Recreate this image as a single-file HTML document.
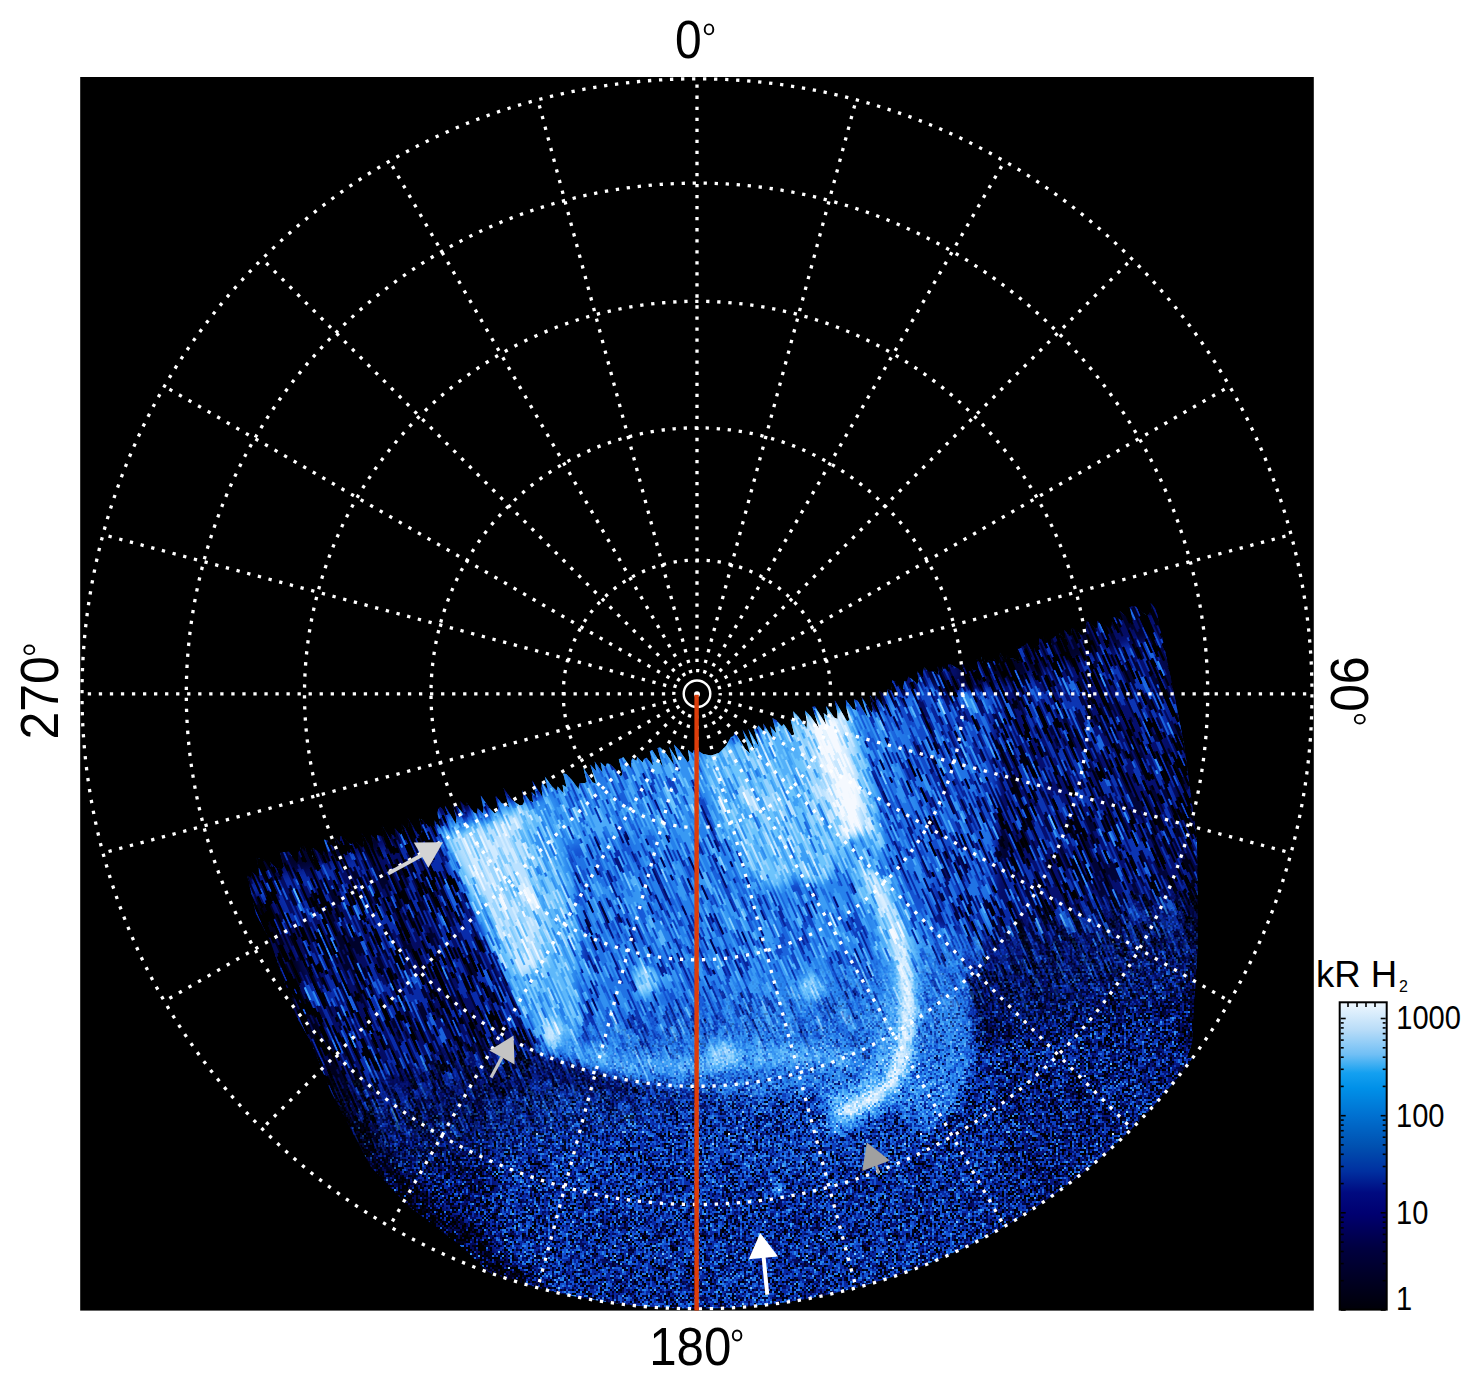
<!DOCTYPE html>
<html><head><meta charset="utf-8"><style>
html,body{margin:0;padding:0;background:#fff;width:1481px;height:1386px;overflow:hidden}
svg{position:absolute;left:0;top:0}
text{font-family:"Liberation Sans",sans-serif;fill:#000}
</style></head><body>
<svg width="1481" height="1386" viewBox="0 0 1481 1386">
<defs>
<clipPath id="sq"><rect x="80.2" y="77" width="1233.6" height="1233.6"/></clipPath>
<linearGradient id="cb" x1="0" y1="0" x2="0" y2="1">
<stop offset="0" stop-color="#f0f8ff"/>
<stop offset="0.09" stop-color="#b8dcf8"/>
<stop offset="0.17" stop-color="#70bff5"/>
<stop offset="0.23" stop-color="#14a0f0"/>
<stop offset="0.28" stop-color="#0090e8"/>
<stop offset="0.37" stop-color="#0070d0"/>
<stop offset="0.47" stop-color="#0050b0"/>
<stop offset="0.55" stop-color="#0030a0"/>
<stop offset="0.62" stop-color="#000a80"/>
<stop offset="0.69" stop-color="#000070"/>
<stop offset="0.80" stop-color="#000040"/>
<stop offset="1" stop-color="#000008"/>
</linearGradient>
</defs>
<rect x="80.2" y="77" width="1233.6" height="1233.6" fill="#000"/>
<g clip-path="url(#sq)">
<defs><clipPath id="dclip"><path d="M247.3,875.7 251.1,877.8 251,870.9 255.8,875.3 259.2,876.5 258.7,868.8 256.5,857.2 260.2,859 263.1,859.1 270.7,869.8 270.4,862.5 275.4,867.3 279,868.8 282.2,869.5 283.8,866.6 279.7,850.9 283.2,852.3 286,852.1 288.7,851.5 296.9,863.6 298.4,860.5 298.1,853.1 299.7,850.2 301.1,847 303.5,845.8 313.5,861.8 311.3,850.3 313.3,848.2 317.4,851.1 323.1,857.3 322.9,850.4 329.2,857.9 323.9,839.5 327.1,840.3 332.7,846.3 337.6,850.8 334.5,837.4 340.3,843.8 340,836.6 342.9,836.7 348.7,843.2 352.2,844.5 353.1,840 357.3,842.9 362.4,847.9 363.7,844.2 361.5,832.8 371.3,848.3 373.9,847.5 371.1,834.6 377,841.2 377.2,835.1 380.4,835.7 384.3,837.7 380.7,823.2 390.9,839.4 391.5,834.1 396,837.8 394.6,828 400.6,834.8 402.5,832.4 401.4,823.5 408,831.7 408.4,826 407.8,818 417.9,834.2 420.9,834.3 421.9,830 419.3,818 423.3,820.4 429.3,827.5 430.9,824.8 434.8,827.2 434.7,820.6 441.1,828.5 437.5,814 438.1,809.1 440.1,807.1 444.6,810.9 445,805.4 456.3,824.4 456.3,818 452.5,803 456.8,806.2 462.7,813.1 460.2,801.1 465.7,807.1 466.4,802.2 473.8,812.5 477.3,813.9 477.5,807.9 483,813.6 483.3,807.8 480.5,794.9 489,807.4 494.6,813.5 496.8,812 498.3,808.7 495.1,795.1 501.6,803.3 504.9,804.1 509.3,807.4 503.6,788.1 511.4,799.2 516,803 520,805.4 522.7,804.8 524.2,801.7 522,790.3 529.6,800.7 533.2,802.3 531.5,792.1 536.4,796.5 532,780.1 542.8,797.8 541.6,788.5 541.8,782.6 547.7,789.5 544.8,776.6 552,786.6 556.7,790.8 557.7,786.5 563.7,793.6 562.6,784.8 566.7,787.6 563.2,773.4 566.2,773.9 571.8,780.1 578.7,789.2 579.1,783.8 581.7,783.3 584.6,783.2 586.8,782 583.4,767.8 592.7,782.4 596,783.5 590.3,764.4 596.2,771.2 594.7,761.6 602.7,773.1 600.6,762.2 605.5,766.9 606.8,763.5 609.8,764 614.7,768.7 621,776.7 622.5,773.7 618.8,759.3 621.2,758.2 623.5,757.2 631.5,769 631.1,761.8 632.3,758.3 636.4,761.1 637.3,757 642.6,762.5 644.1,759.1 646.5,757.7 653.2,765.8 649.8,751.3 652.2,749.9 663.2,767.7 657.5,748.1 660.3,747.6 665.8,753 674.4,765.4 669.1,746.7 679,762.5 673.9,744.4 679.4,750.3 687.8,762.6 689.5,760 687.9,749.7 692.5,753.5 693.9,750 697,750 700,752 703,754 705.667,754.5 708.333,755 711,755.5 713.667,754.667 716.333,753.833 719,753 721.333,750.667 723.667,748.333 726,746 727.667,743 729.333,740 731,737 733.583,736.167 734.6,731.7 745.2,749 750.2,753.7 742.4,729.3 755.3,751.8 748.1,728.8 759.3,747.5 754,728.9 756.9,728.7 758.4,725.5 764.7,733 763.3,723.4 773.3,739.5 770.3,726.3 776.5,733.8 772.5,718.2 776.1,720 781.9,726.5 783.6,723.9 791.6,735.4 794.3,734.5 790.6,719.4 794.6,721.4 793,711.1 798.7,716.9 806.7,728.2 806.9,721.7 805,710.6 810.5,716.2 819.1,728.6 812.4,706.7 815.1,706.5 826.2,725 823.6,712.9 828.1,716.6 826,705.7 834.1,717.5 837.6,719 837.3,712.1 834.4,699.4 847,721.2 849.4,720.3 846.2,706.9 845.8,699.7 852.7,708.8 856.2,710.3 854,699 857.5,700.7 868.2,718.4 861.4,696.6 871.7,713.1 872.9,709.4 869.3,694.7 876.5,704.3 874.7,693.7 884.4,708.8 878.8,689.7 884.4,695.7 887.1,695.1 887.3,689.1 890.8,690.4 891.9,686.4 892.1,680.1 895.8,681.9 902.9,691.2 903.4,685.8 904.3,681.3 907.2,681.2 908.2,676.8 912.1,679.2 917.3,684.2 918.7,680.7 917.3,671.3 923.1,678 923,671.4 924.1,667.6 929,672.3 931.3,671 934.3,671.4 938.8,675.2 937.5,665.8 942.9,671.8 942.6,664.7 949.1,673 948,664.2 951.1,664.8 954.8,666.8 958.5,668.7 963.1,672.5 961.5,662.8 966.8,668.2 967.4,663.2 973.4,670.4 976.3,670.5 978.5,669.1 976.7,658.8 983.4,667.4 981.2,656.3 987.3,663.4 988.5,659.9 992.5,662.6 993.4,658.1 999.4,665.2 999.9,660.1 999,651.8 1006.5,662.3 1006,654.7 1010.6,658.7 1013.3,658.2 1017.6,661.4 1020.1,660.6 1016.6,646.1 1019.9,647 1022.5,646.6 1025,645.6 1026.5,642.6 1034.2,653.4 1034,646.3 1037,646.7 1039,644.7 1039.2,638.5 1042.8,640.3 1044,636.4 1052,648 1051,639.3 1053.4,638.1 1055.4,636.2 1058.7,637.2 1059.8,633.2 1065.8,640.1 1064.2,630.1 1070.1,636.8 1071.4,633.2 1071.9,627.9 1075.7,629.9 1080.7,634.8 1083.8,635.1 1085.6,632.8 1086.2,627.6 1086.3,621.3 1089.4,621.9 1095.1,628.3 1097.6,627.5 1097.5,620.5 1103.5,627.5 1105.2,624.7 1110.4,629.7 1111.8,626.4 1112,620.3 1113.6,617.2 1116.7,617.5 1120.8,620.3 1119.6,610.9 1124.2,614.8 1129.8,620.8 1133,621.3 1129.6,607.2 1132.1,606.1 1135.1,606.3 1139.7,610 1144.1,613.4 1148.1,615.8 1149.6,612.5 1152.5,613.1 1150.5,602.7 1156,609 1163,641 1174,693 1184,744 1197,841 1198,942 1192,1043 1187,1058 1400,1058 1400,1400 495,1400 495,1278 457,1243 407,1205 371,1167 331,1092 310,1040 296,1016 270,940 256,914 Z"/></clipPath>
<clipPath id="cclip"><circle cx="697.0" cy="693.8" r="615"/></clipPath>
<linearGradient id="wgrad" gradientUnits="userSpaceOnUse" x1="686.5" y1="986.7" x2="718.0" y2="1123.1">
 <stop offset="0" stop-color="#fff"/>
 <stop offset="1" stop-color="#000"/>
</linearGradient>
<mask id="mS" maskUnits="userSpaceOnUse" x="0" y="0" width="1481" height="1386"><rect x="0" y="0" width="1481" height="1386" fill="url(#wgrad)"/></mask>
<pattern id="pS" patternUnits="userSpaceOnUse" width="192" height="192" patternTransform="scale(1.0)">
<rect width="192" height="192" fill="rgb(128,128,128)"/>
<path fill="rgb(0,0,0)" d="M92 2h2v2h-2zM112 2h2v2h-2zM174 2h2v2h-2zM16 4h2v2h-2zM128 4h2v2h-2zM180 4h2v2h-2zM44 6h2v2h-2zM48 8h2v2h-2zM188 8h2v2h-2zM108 10h2v2h-2zM74 12h2v2h-2zM134 12h2v2h-2zM138 12h2v2h-2zM160 12h2v2h-2zM168 12h2v2h-2zM72 14h2v2h-2zM14 16h2v2h-2zM182 16h2v2h-2zM16 18h2v2h-2zM88 18h2v2h-2zM96 18h2v2h-2zM20 20h2v2h-2zM40 20h4v2h-4zM48 20h2v2h-2zM56 20h2v2h-2zM86 20h2v2h-2zM186 20h2v2h-2zM114 22h2v2h-2zM132 24h2v2h-2zM148 24h2v2h-2zM94 26h2v2h-2zM174 26h2v2h-2zM28 28h2v2h-2zM150 28h2v2h-2zM174 28h2v2h-2zM90 30h2v2h-2zM158 30h2v2h-2zM188 30h2v2h-2zM32 32h2v2h-2zM188 32h2v2h-2zM68 34h2v2h-2zM132 34h2v2h-2zM154 34h2v2h-2zM2 38h2v2h-2zM50 38h2v2h-2zM134 38h2v2h-2zM176 38h2v2h-2zM42 40h2v2h-2zM50 40h2v2h-2zM10 42h2v2h-2zM36 42h2v2h-2zM110 42h2v2h-2zM190 42h2v2h-2zM120 46h2v2h-2zM182 46h2v2h-2zM30 48h4v2h-4zM36 50h2v2h-2zM54 50h2v2h-2zM176 50h2v2h-2zM52 52h2v2h-2zM64 52h2v2h-2zM110 52h2v2h-2zM4 54h2v2h-2zM140 56h2v2h-2zM50 58h2v2h-2zM90 58h2v2h-2zM186 58h2v2h-2zM108 60h2v2h-2zM114 60h2v2h-2zM62 62h2v2h-2zM152 62h2v2h-2zM190 62h2v2h-2zM126 64h2v2h-2zM174 64h2v2h-2zM26 66h2v2h-2zM124 66h2v2h-2zM144 66h2v2h-2zM130 68h2v2h-2zM170 70h2v2h-2zM66 72h2v2h-2zM186 72h2v2h-2zM14 76h2v2h-2zM36 76h2v2h-2zM86 76h2v2h-2zM102 76h2v2h-2zM122 78h2v2h-2zM128 78h2v2h-2zM190 78h2v2h-2zM8 80h2v2h-2zM72 80h2v2h-2zM144 82h2v2h-2zM158 82h2v2h-2zM46 84h2v2h-2zM80 84h2v2h-2zM146 86h2v2h-2zM152 86h2v2h-2zM32 88h2v2h-2zM52 88h4v2h-4zM100 88h4v2h-4zM142 90h2v2h-2zM42 92h2v2h-2zM126 92h2v2h-2zM130 92h2v2h-2zM22 94h2v2h-2zM30 94h2v2h-2zM110 94h2v2h-2zM70 96h2v2h-2zM96 96h2v2h-2zM52 98h2v2h-2zM132 98h2v2h-2zM142 98h2v2h-2zM40 100h2v2h-2zM58 100h2v2h-2zM76 100h2v2h-2zM106 100h2v2h-2zM34 102h2v2h-2zM160 102h2v2h-2zM100 104h2v2h-2zM100 106h2v2h-2zM78 108h2v2h-2zM50 110h2v2h-2zM80 110h2v2h-2zM42 112h2v2h-2zM14 114h2v2h-2zM174 116h2v2h-2zM4 118h2v2h-2zM100 118h2v2h-2zM190 118h2v2h-2zM38 120h2v2h-2zM164 120h2v2h-2zM46 122h2v2h-2zM64 122h2v2h-2zM114 122h2v2h-2zM180 122h2v2h-2zM66 124h2v2h-2zM148 124h2v2h-2zM68 126h2v2h-2zM152 126h2v2h-2zM158 126h2v2h-2zM94 128h2v2h-2zM8 130h2v2h-2zM14 132h2v2h-2zM60 132h2v2h-2zM182 132h2v2h-2zM22 134h2v2h-2zM120 134h2v2h-2zM96 136h2v2h-2zM70 138h2v2h-2zM130 138h2v2h-2zM150 138h2v2h-2zM156 138h2v2h-2zM174 138h2v2h-2zM8 140h2v2h-2zM36 144h2v2h-2zM186 150h2v2h-2zM14 152h2v2h-2zM142 154h2v2h-2zM160 154h2v2h-2zM22 158h2v2h-2zM34 158h2v2h-2zM88 158h2v2h-2zM112 158h2v2h-2zM154 158h2v2h-2zM166 158h2v2h-2zM186 158h2v2h-2zM190 158h2v2h-2zM122 160h2v2h-2zM176 160h2v2h-2zM184 160h2v2h-2zM54 162h2v2h-2zM72 162h2v2h-2zM168 162h2v2h-2zM18 164h2v2h-2zM86 166h2v2h-2zM12 168h2v2h-2zM100 168h2v2h-2zM108 168h2v2h-2zM8 170h2v2h-2zM114 170h2v2h-2zM104 172h2v2h-2zM34 174h2v2h-2zM48 174h2v2h-2zM68 174h2v2h-2zM66 176h2v2h-2zM90 176h2v2h-2zM102 176h2v2h-2zM76 178h2v2h-2zM30 180h2v2h-2zM74 180h2v2h-2zM104 180h2v2h-2zM32 182h2v2h-2zM128 182h2v2h-2zM118 184h2v2h-2zM160 184h2v2h-2zM70 186h2v2h-2zM144 186h2v2h-2zM154 186h2v2h-2zM38 188h2v2h-2zM48 188h2v2h-2zM36 190h2v2h-2zM92 190h2v2h-2z"/>
<path fill="rgb(26,26,26)" d="M18 0h2v2h-2zM46 0h2v2h-2zM114 0h2v2h-2zM128 0h2v2h-2zM164 0h2v2h-2zM10 2h2v2h-2zM18 2h2v2h-2zM66 2h2v2h-2zM138 4h2v2h-2zM12 6h2v2h-2zM48 6h2v2h-2zM58 6h2v2h-2zM72 6h2v2h-2zM162 6h2v2h-2zM178 6h2v2h-2zM66 8h2v2h-2zM100 8h2v2h-2zM162 8h2v2h-2zM180 8h2v2h-2zM70 10h2v2h-2zM106 10h2v2h-2zM130 10h2v2h-2zM142 10h2v2h-2zM166 10h2v2h-2zM50 12h2v2h-2zM108 12h2v2h-2zM20 14h2v2h-2zM46 14h2v2h-2zM140 14h2v2h-2zM186 14h2v2h-2zM34 16h2v2h-2zM100 16h2v2h-2zM172 16h2v2h-2zM64 18h2v2h-2zM188 18h2v2h-2zM16 20h2v2h-2zM88 20h2v2h-2zM130 20h2v2h-2zM88 22h2v2h-2zM112 22h2v2h-2zM28 24h2v2h-2zM142 24h2v2h-2zM156 24h2v2h-2zM40 26h2v2h-2zM54 26h2v2h-2zM76 28h2v2h-2zM162 28h2v2h-2zM68 30h2v2h-2zM128 30h2v2h-2zM154 30h2v2h-2zM180 30h2v2h-2zM116 32h2v2h-2zM186 32h2v2h-2zM32 34h2v2h-2zM46 34h2v2h-2zM62 34h2v2h-2zM2 36h2v2h-2zM30 36h2v2h-2zM100 36h2v2h-2zM140 36h2v2h-2zM190 36h2v2h-2zM36 38h2v2h-2zM166 38h2v2h-2zM18 40h2v2h-2zM82 40h2v2h-2zM92 40h2v2h-2zM132 40h2v2h-2zM162 40h2v2h-2zM32 42h2v2h-2zM52 42h2v2h-2zM56 42h2v2h-2zM172 42h2v2h-2zM2 44h2v2h-2zM10 44h2v2h-2zM98 44h2v2h-2zM6 46h2v2h-2zM34 46h2v2h-2zM52 46h2v2h-2zM178 46h2v2h-2zM104 48h2v2h-2zM112 48h2v2h-2zM158 48h2v2h-2zM190 48h2v2h-2zM136 50h2v2h-2zM140 50h2v2h-2zM82 52h2v2h-2zM116 52h2v2h-2zM120 52h2v2h-2zM126 52h2v2h-2zM8 54h2v2h-2zM82 54h2v2h-2zM140 54h2v2h-2zM180 54h2v2h-2zM20 56h2v2h-2zM118 56h2v2h-2zM54 58h2v2h-2zM74 58h2v2h-2zM80 60h2v2h-2zM120 60h2v2h-2zM170 60h2v2h-2zM12 64h2v2h-2zM30 64h2v2h-2zM108 64h4v2h-4zM122 64h2v2h-2zM134 64h2v2h-2zM142 64h2v2h-2zM188 64h2v2h-2zM186 66h2v2h-2zM8 68h2v2h-2zM20 68h2v2h-2zM102 68h2v2h-2zM182 68h2v2h-2zM76 70h2v2h-2zM118 70h2v2h-2zM10 72h2v2h-2zM64 72h2v2h-2zM16 74h2v2h-2zM20 74h2v2h-2zM48 74h2v2h-2zM20 76h2v2h-2zM104 76h2v2h-2zM20 78h2v2h-2zM134 78h2v2h-2zM166 78h2v2h-2zM186 78h2v2h-2zM20 80h2v2h-2zM58 80h2v2h-2zM80 80h2v2h-2zM160 80h2v2h-2zM168 80h2v2h-2zM14 82h2v2h-2zM36 82h2v2h-2zM66 82h2v2h-2zM92 82h2v2h-2zM104 82h2v2h-2zM114 82h2v2h-2zM140 82h2v2h-2zM54 84h2v2h-2zM96 84h2v2h-2zM138 84h2v2h-2zM168 84h2v2h-2zM20 86h2v2h-2zM36 86h2v2h-2zM48 86h2v2h-2zM94 86h2v2h-2zM180 86h2v2h-2zM150 88h2v2h-2zM96 90h2v2h-2zM100 90h2v2h-2zM184 90h2v2h-2zM6 92h2v2h-2zM48 92h2v2h-2zM56 92h2v2h-2zM62 92h2v2h-2zM88 92h2v2h-2zM36 94h2v2h-2zM68 94h2v2h-2zM88 94h2v2h-2zM126 94h2v2h-2zM8 96h2v2h-2zM12 96h2v2h-2zM68 96h2v2h-2zM78 96h2v2h-2zM42 98h2v2h-2zM60 98h2v2h-2zM70 98h2v2h-2zM80 98h2v2h-2zM114 98h2v2h-2zM124 98h2v2h-2zM128 98h2v2h-2zM152 98h2v2h-2zM14 100h2v2h-2zM94 100h2v2h-2zM118 100h2v2h-2zM174 100h2v2h-2zM22 102h2v2h-2zM66 102h2v2h-2zM104 102h2v2h-2zM118 102h2v2h-2zM132 102h2v2h-2zM30 104h2v2h-2zM88 104h2v2h-2zM92 104h2v2h-2zM8 106h2v2h-2zM162 106h2v2h-2zM30 108h2v2h-2zM58 108h2v2h-2zM74 108h2v2h-2zM128 108h2v2h-2zM164 108h2v2h-2zM48 110h2v2h-2zM130 110h2v2h-2zM134 110h2v2h-2zM154 110h2v2h-2zM24 112h2v2h-2zM100 112h2v2h-2zM140 112h2v2h-2zM154 112h2v2h-2zM164 112h2v2h-2zM96 114h2v2h-2zM102 114h2v2h-2zM110 114h2v2h-2zM120 114h2v2h-2zM142 114h2v2h-2zM156 114h2v2h-2zM168 114h2v2h-2zM42 116h4v2h-4zM50 116h2v2h-2zM58 116h2v2h-2zM86 116h2v2h-2zM168 116h2v2h-2zM28 118h2v2h-2zM68 118h2v2h-2zM176 118h2v2h-2zM146 120h2v2h-2zM176 120h2v2h-2zM180 120h2v2h-2zM150 122h2v2h-2zM176 124h2v2h-2zM20 126h2v2h-2zM28 126h2v2h-2zM66 126h2v2h-2zM74 126h2v2h-2zM112 126h2v2h-2zM146 126h2v2h-2zM166 126h2v2h-2zM172 126h2v2h-2zM78 128h4v2h-4zM104 128h2v2h-2zM186 128h2v2h-2zM76 130h2v2h-2zM188 130h2v2h-2zM38 132h2v2h-2zM122 132h2v2h-2zM188 132h2v2h-2zM104 134h2v2h-2zM116 134h2v2h-2zM148 134h2v2h-2zM16 136h2v2h-2zM30 136h2v2h-2zM34 136h2v2h-2zM48 136h2v2h-2zM176 136h2v2h-2zM2 138h2v2h-2zM18 138h2v2h-2zM28 138h2v2h-2zM32 138h2v2h-2zM96 138h2v2h-2zM124 138h2v2h-2zM136 138h2v2h-2zM32 140h2v2h-2zM80 140h2v2h-2zM106 140h2v2h-2zM124 140h2v2h-2zM174 140h2v2h-2zM76 142h2v2h-2zM100 142h2v2h-2zM190 142h2v2h-2zM14 144h2v2h-2zM34 144h2v2h-2zM40 144h2v2h-2zM50 144h2v2h-2zM122 144h2v2h-2zM128 144h2v2h-2zM160 144h2v2h-2zM76 146h2v2h-2zM178 146h2v2h-2zM6 148h2v2h-2zM28 148h2v2h-2zM68 148h2v2h-2zM72 148h2v2h-2zM78 148h2v2h-2zM152 148h2v2h-2zM158 148h2v2h-2zM58 150h2v2h-2zM92 150h2v2h-2zM130 150h4v2h-4zM144 150h2v2h-2zM6 152h2v2h-2zM26 152h2v2h-2zM42 152h2v2h-2zM70 152h2v2h-2zM106 152h2v2h-2zM172 152h2v2h-2zM182 152h2v2h-2zM36 154h2v2h-2zM70 154h2v2h-2zM164 154h2v2h-2zM182 154h2v2h-2zM102 156h2v2h-2zM42 158h2v2h-2zM48 158h2v2h-2zM176 158h2v2h-2zM72 160h2v2h-2zM84 160h2v2h-2zM102 160h2v2h-2zM144 160h2v2h-2zM182 160h2v2h-2zM174 162h2v2h-2zM22 164h4v2h-4zM48 164h2v2h-2zM88 164h2v2h-2zM110 164h2v2h-2zM24 166h2v2h-2zM34 166h2v2h-2zM38 168h2v2h-2zM90 168h2v2h-2zM94 168h2v2h-2zM110 168h2v2h-2zM152 168h2v2h-2zM34 170h2v2h-2zM46 170h2v2h-2zM60 170h2v2h-2zM94 170h2v2h-2zM122 170h2v2h-2zM6 172h4v2h-4zM100 172h2v2h-2zM72 174h2v2h-2zM138 174h2v2h-2zM0 176h2v2h-2zM68 176h2v2h-2zM52 178h2v2h-2zM132 178h2v2h-2zM112 180h2v2h-2zM14 182h2v2h-2zM88 182h2v2h-2zM116 182h2v2h-2zM162 182h2v2h-2zM166 182h4v2h-4zM40 184h2v2h-2zM94 184h2v2h-2zM148 184h2v2h-2zM52 186h2v2h-2zM82 186h2v2h-2zM90 186h2v2h-2zM126 186h2v2h-2zM150 186h2v2h-2zM170 186h2v2h-2zM60 188h2v2h-2zM68 188h4v2h-4zM40 190h2v2h-2zM52 190h2v2h-2zM76 190h2v2h-2zM106 190h2v2h-2z"/>
<path fill="rgb(51,51,51)" d="M0 0h2v2h-2zM12 0h2v2h-2zM34 0h2v2h-2zM52 0h2v2h-2zM66 0h4v2h-4zM76 0h2v2h-2zM118 0h2v2h-2zM134 0h2v2h-2zM138 0h2v2h-2zM70 2h2v2h-2zM78 2h2v2h-2zM104 2h4v2h-4zM128 2h2v2h-2zM180 2h2v2h-2zM40 4h4v2h-4zM58 4h2v2h-2zM64 4h2v2h-2zM88 4h2v2h-2zM166 4h2v2h-2zM176 4h2v2h-2zM14 6h2v2h-2zM22 6h2v2h-2zM46 6h2v2h-2zM64 6h2v2h-2zM120 6h2v2h-2zM158 6h2v2h-2zM190 6h2v2h-2zM2 8h6v2h-6zM78 8h2v2h-2zM122 8h2v2h-2zM136 8h2v2h-2zM154 8h2v2h-2zM178 8h2v2h-2zM182 8h2v2h-2zM10 10h2v2h-2zM122 10h2v2h-2zM132 10h4v2h-4zM158 10h2v2h-2zM180 10h2v2h-2zM18 12h4v2h-4zM88 12h4v2h-4zM94 12h2v2h-2zM140 12h2v2h-2zM40 14h2v2h-2zM90 14h2v2h-2zM132 14h2v2h-2zM166 14h2v2h-2zM170 14h2v2h-2zM44 16h2v2h-2zM110 16h2v2h-2zM128 16h2v2h-2zM158 16h2v2h-2zM184 16h2v2h-2zM2 18h2v2h-2zM20 18h2v2h-2zM26 18h2v2h-2zM148 18h4v2h-4zM170 18h2v2h-2zM178 18h2v2h-2zM0 20h2v2h-2zM18 20h2v2h-2zM80 20h2v2h-2zM92 20h2v2h-2zM164 20h2v2h-2zM90 22h2v2h-2zM96 22h2v2h-2zM38 24h2v2h-2zM68 24h2v2h-2zM128 24h2v2h-2zM178 24h2v2h-2zM44 26h2v2h-2zM48 26h2v2h-2zM64 26h2v2h-2zM74 26h2v2h-2zM158 26h2v2h-2zM164 26h2v2h-2zM178 26h2v2h-2zM38 28h2v2h-2zM48 28h2v2h-2zM124 28h2v2h-2zM146 28h2v2h-2zM158 28h2v2h-2zM26 30h2v2h-2zM44 30h2v2h-2zM82 30h2v2h-2zM120 30h2v2h-2zM156 30h2v2h-2zM8 32h2v2h-2zM74 32h2v2h-2zM88 32h2v2h-2zM96 32h2v2h-2zM122 32h2v2h-2zM128 32h2v2h-2zM170 32h2v2h-2zM20 34h2v2h-2zM100 34h2v2h-2zM178 34h2v2h-2zM186 34h2v2h-2zM20 36h2v2h-2zM32 36h2v2h-2zM66 36h2v2h-2zM116 36h2v2h-2zM132 36h2v2h-2zM168 36h2v2h-2zM0 38h2v2h-2zM6 38h2v2h-2zM46 38h2v2h-2zM64 38h2v2h-2zM98 38h2v2h-2zM130 38h2v2h-2zM136 38h2v2h-2zM158 38h2v2h-2zM6 40h2v2h-2zM14 40h2v2h-2zM30 40h4v2h-4zM52 40h2v2h-2zM120 40h2v2h-2zM144 40h2v2h-2zM166 40h2v2h-2zM6 42h2v2h-2zM40 42h2v2h-2zM118 42h2v2h-2zM124 42h2v2h-2zM150 42h2v2h-2zM166 42h2v2h-2zM8 44h2v2h-2zM36 44h2v2h-2zM78 44h2v2h-2zM108 44h2v2h-2zM124 44h2v2h-2zM138 44h2v2h-2zM170 44h2v2h-2zM176 44h2v2h-2zM182 44h2v2h-2zM190 44h2v2h-2zM40 46h2v2h-2zM64 46h2v2h-2zM104 46h2v2h-2zM180 46h2v2h-2zM8 48h2v2h-2zM88 48h2v2h-2zM114 48h2v2h-2zM124 48h2v2h-2zM132 48h2v2h-2zM16 50h2v2h-2zM24 50h2v2h-2zM42 50h2v2h-2zM48 50h4v2h-4zM134 50h2v2h-2zM182 50h4v2h-4zM190 50h2v2h-2zM0 52h2v2h-2zM86 52h2v2h-2zM112 52h2v2h-2zM130 52h2v2h-2zM154 52h2v2h-2zM170 52h2v2h-2zM0 54h2v2h-2zM36 54h6v2h-6zM54 54h4v2h-4zM152 54h2v2h-2zM10 56h2v2h-2zM60 56h2v2h-2zM122 56h4v2h-4zM156 56h2v2h-2zM160 56h2v2h-2zM174 56h2v2h-2zM180 56h2v2h-2zM2 58h2v2h-2zM10 58h2v2h-2zM16 58h4v2h-4zM24 58h2v2h-2zM38 58h2v2h-2zM44 58h2v2h-2zM72 58h2v2h-2zM80 58h2v2h-2zM84 58h2v2h-2zM136 58h2v2h-2zM144 58h2v2h-2zM158 58h2v2h-2zM178 58h2v2h-2zM36 60h6v2h-6zM136 60h2v2h-2zM146 60h2v2h-2zM154 60h4v2h-4zM172 60h2v2h-2zM82 62h2v2h-2zM112 62h2v2h-2zM118 62h2v2h-2zM168 62h2v2h-2zM48 64h2v2h-2zM52 64h2v2h-2zM64 64h2v2h-2zM136 64h2v2h-2zM162 64h2v2h-2zM8 66h2v2h-2zM34 66h2v2h-2zM56 66h4v2h-4zM72 66h2v2h-2zM76 66h2v2h-2zM148 66h2v2h-2zM160 66h2v2h-2zM170 66h2v2h-2zM32 68h2v2h-2zM66 68h2v2h-2zM76 68h2v2h-2zM90 68h2v2h-2zM94 68h2v2h-2zM126 68h2v2h-2zM176 68h2v2h-2zM2 70h2v2h-2zM14 70h4v2h-4zM30 70h2v2h-2zM40 70h2v2h-2zM62 70h2v2h-2zM80 70h2v2h-2zM84 70h2v2h-2zM100 70h2v2h-2zM116 70h2v2h-2zM126 70h2v2h-2zM18 72h2v2h-2zM32 72h2v2h-2zM82 72h2v2h-2zM122 72h2v2h-2zM136 72h2v2h-2zM146 72h2v2h-2zM152 72h2v2h-2zM166 72h2v2h-2zM174 72h2v2h-2zM10 74h2v2h-2zM58 74h2v2h-2zM98 74h2v2h-2zM120 74h2v2h-2zM126 74h2v2h-2zM132 74h2v2h-2zM146 74h2v2h-2zM52 76h2v2h-2zM64 76h2v2h-2zM148 76h2v2h-2zM170 76h2v2h-2zM180 76h2v2h-2zM46 78h2v2h-2zM108 78h4v2h-4zM124 78h2v2h-2zM152 78h2v2h-2zM156 78h2v2h-2zM162 78h2v2h-2zM168 78h2v2h-2zM48 80h4v2h-4zM90 80h2v2h-2zM100 80h2v2h-2zM124 80h2v2h-2zM130 80h2v2h-2zM144 80h2v2h-2zM162 80h2v2h-2zM12 82h2v2h-2zM20 82h2v2h-2zM48 82h2v2h-2zM68 82h2v2h-2zM120 82h2v2h-2zM128 82h2v2h-2zM8 84h2v2h-2zM22 84h2v2h-2zM28 84h2v2h-2zM68 84h2v2h-2zM102 84h2v2h-2zM120 84h4v2h-4zM156 84h2v2h-2zM74 86h2v2h-2zM80 86h2v2h-2zM138 86h2v2h-2zM44 88h2v2h-2zM88 88h2v2h-2zM116 88h2v2h-2zM126 88h2v2h-2zM184 88h2v2h-2zM58 90h2v2h-2zM120 90h2v2h-2zM126 90h2v2h-2zM162 90h2v2h-2zM24 92h2v2h-2zM38 92h2v2h-2zM120 92h2v2h-2zM170 92h4v2h-4zM12 94h2v2h-2zM70 94h4v2h-4zM100 94h2v2h-2zM116 94h2v2h-2zM146 94h2v2h-2zM0 96h2v2h-2zM48 96h2v2h-2zM74 96h2v2h-2zM104 96h2v2h-2zM170 96h2v2h-2zM4 98h4v2h-4zM12 98h2v2h-2zM22 98h2v2h-2zM36 98h2v2h-2zM40 98h2v2h-2zM86 98h2v2h-2zM168 98h2v2h-2zM178 98h2v2h-2zM26 100h2v2h-2zM32 100h2v2h-2zM50 100h2v2h-2zM66 100h2v2h-2zM138 100h2v2h-2zM160 100h2v2h-2zM166 100h2v2h-2zM186 100h2v2h-2zM12 102h2v2h-2zM46 102h2v2h-2zM98 102h2v2h-2zM114 102h2v2h-2zM184 102h4v2h-4zM58 104h2v2h-2zM84 104h2v2h-2zM148 104h2v2h-2zM162 104h4v2h-4zM170 104h2v2h-2zM10 106h2v2h-2zM22 106h2v2h-2zM30 106h2v2h-2zM38 106h2v2h-2zM74 106h2v2h-2zM144 106h2v2h-2zM184 106h2v2h-2zM2 108h2v2h-2zM16 108h2v2h-2zM38 108h2v2h-2zM44 108h2v2h-2zM68 108h2v2h-2zM76 108h2v2h-2zM98 108h2v2h-2zM110 108h2v2h-2zM174 108h2v2h-2zM8 110h2v2h-2zM28 110h2v2h-2zM100 110h2v2h-2zM122 110h2v2h-2zM126 110h2v2h-2zM156 110h4v2h-4zM174 110h2v2h-2zM186 110h2v2h-2zM14 112h2v2h-2zM22 112h2v2h-2zM78 112h2v2h-2zM92 112h2v2h-2zM138 112h2v2h-2zM182 112h2v2h-2zM190 112h2v2h-2zM44 114h2v2h-2zM52 114h2v2h-2zM138 114h2v2h-2zM150 114h2v2h-2zM158 114h2v2h-2zM162 114h2v2h-2zM166 114h2v2h-2zM184 114h2v2h-2zM12 116h2v2h-2zM22 116h2v2h-2zM28 116h2v2h-2zM40 116h2v2h-2zM48 116h2v2h-2zM110 116h2v2h-2zM126 116h2v2h-2zM6 118h2v2h-2zM10 118h2v2h-2zM72 118h2v2h-2zM86 118h2v2h-2zM150 118h2v2h-2zM174 118h2v2h-2zM180 118h2v2h-2zM50 120h2v2h-2zM64 120h2v2h-2zM86 120h2v2h-2zM114 120h2v2h-2zM184 120h4v2h-4zM2 122h2v2h-2zM12 122h2v2h-2zM38 122h2v2h-2zM78 122h2v2h-2zM90 122h2v2h-2zM104 122h2v2h-2zM110 122h2v2h-2zM164 122h2v2h-2zM182 122h2v2h-2zM188 122h2v2h-2zM38 124h2v2h-2zM138 124h2v2h-2zM22 126h2v2h-2zM40 126h2v2h-2zM44 126h2v2h-2zM70 126h4v2h-4zM134 126h2v2h-2zM156 126h2v2h-2zM58 128h2v2h-2zM82 128h2v2h-2zM110 128h2v2h-2zM142 128h2v2h-2zM162 128h2v2h-2zM4 130h2v2h-2zM28 130h2v2h-2zM60 130h2v2h-2zM70 130h2v2h-2zM98 130h2v2h-2zM104 130h2v2h-2zM126 130h2v2h-2zM154 130h2v2h-2zM176 130h2v2h-2zM184 130h2v2h-2zM28 132h2v2h-2zM54 132h2v2h-2zM96 132h2v2h-2zM106 132h2v2h-2zM152 132h2v2h-2zM168 132h2v2h-2zM16 134h2v2h-2zM32 134h2v2h-2zM56 134h2v2h-2zM66 134h2v2h-2zM118 134h2v2h-2zM122 134h2v2h-2zM132 134h2v2h-2zM156 134h2v2h-2zM186 134h2v2h-2zM10 136h2v2h-2zM14 136h2v2h-2zM26 136h2v2h-2zM36 136h2v2h-2zM74 136h2v2h-2zM146 136h2v2h-2zM164 136h2v2h-2zM182 136h2v2h-2zM8 138h2v2h-2zM56 138h2v2h-2zM100 138h2v2h-2zM138 138h2v2h-2zM142 138h2v2h-2zM36 140h2v2h-2zM58 140h2v2h-2zM74 140h2v2h-2zM140 140h2v2h-2zM158 140h2v2h-2zM176 140h2v2h-2zM184 140h2v2h-2zM18 142h2v2h-2zM168 142h2v2h-2zM66 144h2v2h-2zM78 144h4v2h-4zM88 144h2v2h-2zM98 144h2v2h-2zM102 144h2v2h-2zM130 144h2v2h-2zM154 144h2v2h-2zM182 144h2v2h-2zM4 146h2v2h-2zM114 146h2v2h-2zM136 146h2v2h-2zM166 146h2v2h-2zM10 148h2v2h-2zM18 148h2v2h-2zM22 148h4v2h-4zM94 148h2v2h-2zM130 148h2v2h-2zM142 148h2v2h-2zM16 150h2v2h-2zM26 150h2v2h-2zM74 150h2v2h-2zM94 150h2v2h-2zM110 150h2v2h-2zM116 150h2v2h-2zM126 150h2v2h-2zM134 150h2v2h-2zM150 150h2v2h-2zM54 152h2v2h-2zM88 152h2v2h-2zM10 154h2v2h-2zM22 154h4v2h-4zM72 154h2v2h-2zM138 154h2v2h-2zM154 154h2v2h-2zM172 154h2v2h-2zM18 156h2v2h-2zM40 156h2v2h-2zM78 156h2v2h-2zM150 156h2v2h-2zM154 156h2v2h-2zM160 156h4v2h-4zM168 156h2v2h-2zM2 158h2v2h-2zM66 158h2v2h-2zM70 158h2v2h-2zM148 158h2v2h-2zM178 158h4v2h-4zM0 160h2v2h-2zM32 160h4v2h-4zM52 160h2v2h-2zM74 160h2v2h-2zM104 160h2v2h-2zM136 160h2v2h-2zM164 160h2v2h-2zM40 162h2v2h-2zM62 162h2v2h-2zM86 162h2v2h-2zM100 162h2v2h-2zM110 162h2v2h-2zM136 162h2v2h-2zM144 162h2v2h-2zM180 162h2v2h-2zM190 162h2v2h-2zM102 164h2v2h-2zM118 164h2v2h-2zM28 166h2v2h-2zM116 166h2v2h-2zM154 166h2v2h-2zM166 166h2v2h-2zM186 166h2v2h-2zM36 168h2v2h-2zM70 168h2v2h-2zM78 168h2v2h-2zM128 168h2v2h-2zM138 168h2v2h-2zM0 170h2v2h-2zM4 170h2v2h-2zM40 170h2v2h-2zM120 170h2v2h-2zM150 170h2v2h-2zM182 170h2v2h-2zM0 172h2v2h-2zM24 172h2v2h-2zM60 172h2v2h-2zM106 172h4v2h-4zM158 172h2v2h-2zM166 172h2v2h-2zM86 174h2v2h-2zM96 174h2v2h-2zM146 174h4v2h-4zM154 174h2v2h-2zM170 174h2v2h-2zM190 174h2v2h-2zM30 176h4v2h-4zM106 176h2v2h-2zM148 176h4v2h-4zM174 176h2v2h-2zM178 176h2v2h-2zM20 178h2v2h-2zM28 178h2v2h-2zM46 178h2v2h-2zM74 178h2v2h-2zM86 178h4v2h-4zM110 178h2v2h-2zM136 178h2v2h-2zM18 180h2v2h-2zM22 180h2v2h-2zM28 180h2v2h-2zM40 180h2v2h-2zM46 180h2v2h-2zM52 180h2v2h-2zM56 180h2v2h-2zM86 180h2v2h-2zM92 180h2v2h-2zM98 180h2v2h-2zM146 180h2v2h-2zM24 182h2v2h-2zM78 182h2v2h-2zM100 182h2v2h-2zM122 182h2v2h-2zM180 182h2v2h-2zM10 184h2v2h-2zM36 184h2v2h-2zM70 184h2v2h-2zM78 184h2v2h-2zM144 184h2v2h-2zM158 184h2v2h-2zM170 184h2v2h-2zM6 186h4v2h-4zM96 186h2v2h-2zM142 186h2v2h-2zM176 186h4v2h-4zM10 188h2v2h-2zM18 188h2v2h-2zM82 188h2v2h-2zM86 188h2v2h-2zM184 188h2v2h-2zM66 190h2v2h-2zM94 190h2v2h-2zM132 190h2v2h-2zM164 190h4v2h-4zM186 190h2v2h-2z"/>
<path fill="rgb(77,77,77)" d="M4 0h2v2h-2zM10 0h2v2h-2zM24 0h2v2h-2zM64 0h2v2h-2zM90 0h2v2h-2zM110 0h2v2h-2zM130 0h2v2h-2zM140 0h4v2h-4zM148 0h2v2h-2zM156 0h2v2h-2zM162 0h2v2h-2zM172 0h2v2h-2zM2 2h4v2h-4zM48 2h2v2h-2zM64 2h2v2h-2zM88 2h2v2h-2zM120 2h2v2h-2zM126 2h2v2h-2zM130 2h2v2h-2zM140 2h4v2h-4zM188 2h2v2h-2zM12 4h2v2h-2zM18 4h2v2h-2zM46 4h2v2h-2zM60 4h2v2h-2zM68 4h2v2h-2zM72 4h2v2h-2zM76 4h2v2h-2zM108 4h4v2h-4zM118 4h2v2h-2zM124 4h2v2h-2zM134 4h2v2h-2zM140 4h2v2h-2zM144 4h2v2h-2zM0 6h4v2h-4zM6 6h2v2h-2zM30 6h2v2h-2zM60 6h2v2h-2zM70 6h2v2h-2zM94 6h4v2h-4zM106 6h2v2h-2zM118 6h2v2h-2zM122 6h2v2h-2zM134 6h2v2h-2zM138 6h2v2h-2zM142 6h2v2h-2zM160 6h2v2h-2zM170 6h4v2h-4zM180 6h6v2h-6zM38 8h4v2h-4zM52 8h2v2h-2zM58 8h2v2h-2zM62 8h2v2h-2zM68 8h4v2h-4zM82 8h2v2h-2zM86 8h2v2h-2zM110 8h2v2h-2zM114 8h2v2h-2zM126 8h2v2h-2zM148 8h2v2h-2zM158 8h2v2h-2zM174 8h2v2h-2zM20 10h2v2h-2zM24 10h4v2h-4zM38 10h2v2h-2zM46 10h2v2h-2zM76 10h2v2h-2zM80 10h2v2h-2zM100 10h2v2h-2zM112 10h2v2h-2zM174 10h2v2h-2zM184 10h2v2h-2zM2 12h2v2h-2zM14 12h2v2h-2zM22 12h2v2h-2zM40 12h4v2h-4zM66 12h2v2h-2zM92 12h2v2h-2zM162 12h2v2h-2zM26 14h2v2h-2zM54 14h2v2h-2zM80 14h2v2h-2zM106 14h2v2h-2zM114 14h2v2h-2zM144 14h2v2h-2zM152 14h2v2h-2zM164 14h2v2h-2zM190 14h2v2h-2zM16 16h2v2h-2zM98 16h2v2h-2zM118 16h2v2h-2zM148 16h2v2h-2zM180 16h2v2h-2zM14 18h2v2h-2zM18 18h2v2h-2zM40 18h2v2h-2zM68 18h2v2h-2zM82 18h2v2h-2zM106 18h2v2h-2zM124 18h2v2h-2zM166 18h2v2h-2zM190 18h2v2h-2zM6 20h2v2h-2zM52 20h2v2h-2zM122 20h2v2h-2zM142 20h2v2h-2zM166 20h4v2h-4zM182 20h2v2h-2zM188 20h2v2h-2zM16 22h2v2h-2zM44 22h2v2h-2zM66 22h2v2h-2zM74 22h2v2h-2zM78 22h2v2h-2zM130 22h2v2h-2zM168 22h2v2h-2zM20 24h2v2h-2zM36 24h2v2h-2zM46 24h4v2h-4zM60 24h2v2h-2zM84 24h4v2h-4zM90 24h2v2h-2zM102 24h2v2h-2zM126 24h2v2h-2zM150 24h2v2h-2zM166 24h2v2h-2zM18 26h2v2h-2zM72 26h2v2h-2zM82 26h2v2h-2zM96 26h2v2h-2zM108 26h2v2h-2zM114 26h2v2h-2zM122 26h2v2h-2zM130 26h2v2h-2zM152 26h2v2h-2zM172 26h2v2h-2zM186 26h2v2h-2zM0 28h2v2h-2zM24 28h2v2h-2zM32 28h4v2h-4zM62 28h2v2h-2zM70 28h6v2h-6zM122 28h2v2h-2zM140 28h2v2h-2zM144 28h2v2h-2zM164 28h2v2h-2zM172 28h2v2h-2zM176 28h2v2h-2zM8 30h2v2h-2zM48 30h6v2h-6zM106 30h2v2h-2zM142 30h2v2h-2zM174 30h2v2h-2zM182 30h2v2h-2zM12 32h2v2h-2zM38 32h2v2h-2zM56 32h2v2h-2zM84 32h2v2h-2zM102 32h2v2h-2zM106 32h2v2h-2zM118 32h2v2h-2zM124 32h2v2h-2zM148 32h4v2h-4zM154 32h2v2h-2zM162 32h2v2h-2zM178 32h2v2h-2zM0 34h2v2h-2zM28 34h2v2h-2zM38 34h2v2h-2zM64 34h2v2h-2zM72 34h2v2h-2zM80 34h2v2h-2zM104 34h2v2h-2zM118 34h2v2h-2zM138 34h4v2h-4zM144 34h2v2h-2zM148 34h2v2h-2zM158 34h2v2h-2zM8 36h2v2h-2zM34 36h2v2h-2zM64 36h2v2h-2zM76 36h2v2h-2zM82 36h2v2h-2zM86 36h2v2h-2zM108 36h2v2h-2zM118 36h2v2h-2zM148 36h4v2h-4zM170 36h2v2h-2zM188 36h2v2h-2zM4 38h2v2h-2zM8 38h2v2h-2zM34 38h2v2h-2zM52 38h2v2h-2zM58 38h2v2h-2zM62 38h2v2h-2zM88 38h2v2h-2zM94 38h2v2h-2zM114 38h2v2h-2zM126 38h4v2h-4zM160 38h2v2h-2zM4 40h2v2h-2zM16 40h2v2h-2zM36 40h2v2h-2zM66 40h2v2h-2zM80 40h2v2h-2zM84 40h2v2h-2zM94 40h2v2h-2zM100 40h2v2h-2zM118 40h2v2h-2zM160 40h2v2h-2zM172 40h2v2h-2zM20 42h2v2h-2zM38 42h2v2h-2zM62 42h2v2h-2zM68 42h2v2h-2zM78 42h2v2h-2zM88 42h2v2h-2zM100 42h2v2h-2zM168 42h2v2h-2zM176 42h2v2h-2zM4 44h2v2h-2zM28 44h6v2h-6zM38 44h2v2h-2zM50 44h2v2h-2zM148 44h2v2h-2zM154 44h2v2h-2zM186 44h2v2h-2zM8 46h2v2h-2zM20 46h2v2h-2zM28 46h2v2h-2zM56 46h2v2h-2zM62 46h2v2h-2zM70 46h2v2h-2zM92 46h2v2h-2zM116 46h4v2h-4zM126 46h2v2h-2zM162 46h2v2h-2zM166 46h2v2h-2zM54 48h2v2h-2zM74 48h2v2h-2zM90 48h2v2h-2zM138 48h2v2h-2zM146 48h4v2h-4zM166 48h2v2h-2zM174 48h2v2h-2zM188 48h2v2h-2zM58 50h2v2h-2zM86 50h2v2h-2zM100 50h2v2h-2zM112 50h2v2h-2zM116 50h2v2h-2zM150 50h2v2h-2zM156 50h2v2h-2zM160 50h2v2h-2zM170 50h2v2h-2zM188 50h2v2h-2zM6 52h2v2h-2zM18 52h4v2h-4zM24 52h2v2h-2zM30 52h2v2h-2zM34 52h2v2h-2zM38 52h4v2h-4zM54 52h2v2h-2zM84 52h2v2h-2zM88 52h2v2h-2zM94 52h2v2h-2zM132 52h2v2h-2zM152 52h2v2h-2zM156 52h2v2h-2zM162 52h2v2h-2zM166 52h2v2h-2zM172 52h2v2h-2zM178 52h2v2h-2zM6 54h2v2h-2zM10 54h2v2h-2zM26 54h2v2h-2zM44 54h2v2h-2zM94 54h2v2h-2zM118 54h2v2h-2zM130 54h2v2h-2zM134 54h2v2h-2zM148 54h2v2h-2zM168 54h6v2h-6zM178 54h2v2h-2zM32 56h2v2h-2zM38 56h2v2h-2zM42 56h2v2h-2zM76 56h2v2h-2zM110 56h2v2h-2zM116 56h2v2h-2zM138 56h2v2h-2zM150 56h2v2h-2zM166 56h2v2h-2zM40 58h2v2h-2zM46 58h2v2h-2zM60 58h2v2h-2zM66 58h2v2h-2zM86 58h4v2h-4zM152 58h2v2h-2zM156 58h2v2h-2zM22 60h2v2h-2zM66 60h2v2h-2zM74 60h2v2h-2zM92 60h2v2h-2zM96 60h2v2h-2zM100 60h2v2h-2zM138 60h2v2h-2zM150 60h2v2h-2zM12 62h4v2h-4zM42 62h4v2h-4zM74 62h2v2h-2zM78 62h2v2h-2zM88 62h2v2h-2zM94 62h2v2h-2zM120 62h2v2h-2zM124 62h2v2h-2zM140 62h2v2h-2zM148 62h2v2h-2zM156 62h2v2h-2zM164 62h2v2h-2zM174 62h2v2h-2zM186 62h2v2h-2zM2 64h2v2h-2zM22 64h2v2h-2zM34 64h2v2h-2zM38 64h2v2h-2zM76 64h2v2h-2zM124 64h2v2h-2zM144 64h2v2h-2zM166 64h2v2h-2zM190 64h2v2h-2zM10 66h4v2h-4zM18 66h2v2h-2zM36 66h2v2h-2zM54 66h2v2h-2zM78 66h2v2h-2zM94 66h2v2h-2zM104 66h2v2h-2zM130 66h4v2h-4zM178 66h2v2h-2zM182 66h2v2h-2zM4 68h2v2h-2zM14 68h2v2h-2zM24 68h2v2h-2zM38 68h2v2h-2zM44 68h2v2h-2zM48 68h2v2h-2zM58 68h2v2h-2zM64 68h2v2h-2zM74 68h2v2h-2zM86 68h2v2h-2zM106 68h6v2h-6zM120 68h2v2h-2zM128 68h2v2h-2zM140 68h2v2h-2zM148 68h2v2h-2zM172 68h2v2h-2zM186 68h2v2h-2zM0 70h2v2h-2zM10 70h2v2h-2zM26 70h2v2h-2zM34 70h4v2h-4zM46 70h2v2h-2zM78 70h2v2h-2zM142 70h2v2h-2zM160 70h2v2h-2zM172 70h2v2h-2zM184 70h2v2h-2zM40 72h2v2h-2zM72 72h2v2h-2zM92 72h2v2h-2zM132 72h2v2h-2zM142 72h2v2h-2zM148 72h2v2h-2zM170 72h2v2h-2zM178 72h2v2h-2zM40 74h2v2h-2zM60 74h2v2h-2zM64 74h2v2h-2zM68 74h2v2h-2zM116 74h2v2h-2zM138 74h2v2h-2zM156 74h2v2h-2zM184 74h2v2h-2zM6 76h2v2h-2zM16 76h4v2h-4zM40 76h2v2h-2zM50 76h2v2h-2zM66 76h4v2h-4zM78 76h2v2h-2zM92 76h2v2h-2zM106 76h2v2h-2zM124 76h2v2h-2zM130 76h2v2h-2zM144 76h2v2h-2zM0 78h2v2h-2zM6 78h2v2h-2zM32 78h2v2h-2zM48 78h2v2h-2zM86 78h4v2h-4zM100 78h2v2h-2zM106 78h2v2h-2zM116 78h2v2h-2zM144 78h2v2h-2zM158 78h2v2h-2zM176 78h2v2h-2zM184 78h2v2h-2zM0 80h2v2h-2zM36 80h2v2h-2zM62 80h2v2h-2zM74 80h2v2h-2zM82 80h4v2h-4zM102 80h4v2h-4zM108 80h2v2h-2zM112 80h4v2h-4zM118 80h2v2h-2zM136 80h2v2h-2zM164 80h4v2h-4zM26 82h2v2h-2zM46 82h2v2h-2zM74 82h2v2h-2zM80 82h2v2h-2zM100 82h2v2h-2zM110 82h2v2h-2zM156 82h2v2h-2zM172 82h2v2h-2zM0 84h4v2h-4zM40 84h2v2h-2zM48 84h2v2h-2zM76 84h2v2h-2zM90 84h2v2h-2zM110 84h2v2h-2zM124 84h2v2h-2zM146 84h2v2h-2zM154 84h2v2h-2zM162 84h2v2h-2zM166 84h2v2h-2zM16 86h2v2h-2zM46 86h2v2h-2zM66 86h2v2h-2zM100 86h2v2h-2zM118 86h4v2h-4zM124 86h2v2h-2zM130 86h2v2h-2zM134 86h2v2h-2zM168 86h2v2h-2zM172 86h2v2h-2zM184 86h2v2h-2zM40 88h2v2h-2zM70 88h4v2h-4zM90 88h2v2h-2zM98 88h2v2h-2zM148 88h2v2h-2zM44 90h2v2h-2zM74 90h2v2h-2zM112 90h2v2h-2zM122 90h2v2h-2zM134 90h4v2h-4zM150 90h2v2h-2zM164 90h2v2h-2zM174 90h2v2h-2zM20 92h2v2h-2zM34 92h2v2h-2zM40 92h2v2h-2zM54 92h2v2h-2zM70 92h2v2h-2zM86 92h2v2h-2zM108 92h2v2h-2zM114 92h2v2h-2zM118 92h2v2h-2zM122 92h2v2h-2zM148 92h2v2h-2zM168 92h2v2h-2zM186 92h2v2h-2zM24 94h2v2h-2zM46 94h2v2h-2zM82 94h2v2h-2zM90 94h2v2h-2zM120 94h2v2h-2zM124 94h2v2h-2zM132 94h2v2h-2zM142 94h2v2h-2zM148 94h2v2h-2zM188 94h4v2h-4zM2 96h4v2h-4zM54 96h2v2h-2zM58 96h2v2h-2zM76 96h2v2h-2zM86 96h2v2h-2zM90 96h2v2h-2zM100 96h2v2h-2zM110 96h4v2h-4zM124 96h2v2h-2zM138 96h2v2h-2zM160 96h2v2h-2zM164 96h2v2h-2zM180 96h2v2h-2zM2 98h2v2h-2zM28 98h2v2h-2zM44 98h2v2h-2zM92 98h2v2h-2zM130 98h2v2h-2zM144 98h2v2h-2zM148 98h2v2h-2zM164 98h2v2h-2zM4 100h4v2h-4zM20 100h2v2h-2zM24 100h2v2h-2zM74 100h2v2h-2zM80 100h2v2h-2zM132 100h2v2h-2zM156 100h2v2h-2zM184 100h2v2h-2zM6 102h2v2h-2zM54 102h2v2h-2zM58 102h2v2h-2zM62 102h2v2h-2zM84 102h4v2h-4zM100 102h2v2h-2zM142 102h2v2h-2zM166 102h2v2h-2zM174 102h2v2h-2zM180 102h2v2h-2zM188 102h2v2h-2zM40 104h2v2h-2zM64 104h2v2h-2zM68 104h2v2h-2zM86 104h2v2h-2zM98 104h2v2h-2zM104 104h2v2h-2zM120 104h2v2h-2zM124 104h2v2h-2zM156 104h2v2h-2zM12 106h2v2h-2zM18 106h2v2h-2zM40 106h2v2h-2zM48 106h2v2h-2zM52 106h2v2h-2zM62 106h2v2h-2zM108 106h2v2h-2zM114 106h4v2h-4zM128 106h2v2h-2zM8 108h2v2h-2zM14 108h2v2h-2zM40 108h2v2h-2zM80 108h2v2h-2zM84 108h2v2h-2zM96 108h2v2h-2zM100 108h2v2h-2zM120 108h2v2h-2zM132 108h2v2h-2zM136 108h2v2h-2zM152 108h2v2h-2zM12 110h4v2h-4zM52 110h2v2h-2zM64 110h2v2h-2zM72 110h2v2h-2zM82 110h2v2h-2zM98 110h2v2h-2zM104 110h2v2h-2zM114 110h2v2h-2zM142 110h2v2h-2zM162 110h6v2h-6zM20 112h2v2h-2zM40 112h2v2h-2zM44 112h2v2h-2zM98 112h2v2h-2zM102 112h4v2h-4zM112 112h2v2h-2zM128 112h2v2h-2zM142 112h2v2h-2zM180 112h2v2h-2zM186 112h2v2h-2zM6 114h2v2h-2zM22 114h2v2h-2zM56 114h2v2h-2zM74 114h4v2h-4zM106 114h2v2h-2zM152 114h2v2h-2zM174 114h2v2h-2zM18 116h2v2h-2zM30 116h2v2h-2zM52 116h2v2h-2zM62 116h2v2h-2zM68 116h2v2h-2zM90 116h2v2h-2zM132 116h2v2h-2zM140 116h2v2h-2zM180 116h2v2h-2zM50 118h2v2h-2zM116 118h2v2h-2zM66 120h2v2h-2zM72 120h2v2h-2zM122 120h2v2h-2zM136 120h2v2h-2zM152 120h4v2h-4zM162 120h2v2h-2zM170 120h2v2h-2zM18 122h2v2h-2zM36 122h2v2h-2zM54 122h2v2h-2zM80 122h2v2h-2zM86 122h2v2h-2zM100 122h2v2h-2zM120 122h2v2h-2zM126 122h2v2h-2zM130 122h2v2h-2zM154 122h2v2h-2zM162 122h2v2h-2zM166 122h2v2h-2zM6 124h2v2h-2zM12 124h2v2h-2zM64 124h2v2h-2zM70 124h2v2h-2zM74 124h4v2h-4zM80 124h2v2h-2zM92 124h2v2h-2zM96 124h2v2h-2zM102 124h2v2h-2zM130 124h2v2h-2zM136 124h2v2h-2zM156 124h2v2h-2zM164 124h2v2h-2zM168 124h4v2h-4zM0 126h2v2h-2zM6 126h2v2h-2zM10 126h2v2h-2zM24 126h2v2h-2zM60 126h2v2h-2zM76 126h2v2h-2zM96 126h2v2h-2zM116 126h2v2h-2zM184 126h4v2h-4zM16 128h2v2h-2zM74 128h2v2h-2zM132 128h2v2h-2zM136 128h2v2h-2zM148 128h2v2h-2zM158 128h2v2h-2zM166 128h2v2h-2zM176 128h2v2h-2zM180 128h2v2h-2zM188 128h2v2h-2zM0 130h4v2h-4zM16 130h2v2h-2zM22 130h2v2h-2zM30 130h2v2h-2zM46 130h2v2h-2zM94 130h2v2h-2zM102 130h2v2h-2zM124 130h2v2h-2zM128 130h2v2h-2zM148 130h2v2h-2zM160 130h2v2h-2zM182 130h2v2h-2zM2 132h2v2h-2zM6 132h4v2h-4zM12 132h2v2h-2zM18 132h4v2h-4zM30 132h4v2h-4zM36 132h2v2h-2zM62 132h4v2h-4zM72 132h2v2h-2zM84 132h2v2h-2zM118 132h2v2h-2zM128 132h2v2h-2zM140 132h2v2h-2zM144 132h2v2h-2zM148 132h2v2h-2zM166 132h2v2h-2zM172 132h2v2h-2zM190 132h2v2h-2zM10 134h2v2h-2zM48 134h4v2h-4zM68 134h2v2h-2zM72 134h2v2h-2zM82 134h4v2h-4zM98 134h2v2h-2zM146 134h2v2h-2zM158 134h2v2h-2zM166 134h2v2h-2zM190 134h2v2h-2zM44 136h2v2h-2zM54 136h2v2h-2zM62 136h2v2h-2zM78 136h2v2h-2zM90 136h2v2h-2zM94 136h2v2h-2zM98 136h2v2h-2zM110 136h2v2h-2zM126 136h2v2h-2zM174 136h2v2h-2zM186 136h4v2h-4zM16 138h2v2h-2zM44 138h4v2h-4zM76 138h2v2h-2zM102 138h2v2h-2zM122 138h2v2h-2zM144 138h2v2h-2zM162 138h2v2h-2zM172 138h2v2h-2zM184 138h2v2h-2zM10 140h2v2h-2zM30 140h2v2h-2zM42 140h2v2h-2zM48 140h2v2h-2zM64 140h2v2h-2zM72 140h2v2h-2zM76 140h4v2h-4zM86 140h2v2h-2zM110 140h2v2h-2zM152 140h2v2h-2zM160 140h2v2h-2zM172 140h2v2h-2zM186 140h2v2h-2zM2 142h4v2h-4zM20 142h2v2h-2zM30 142h2v2h-2zM48 142h2v2h-2zM70 142h2v2h-2zM108 142h2v2h-2zM130 142h4v2h-4zM60 144h2v2h-2zM74 144h2v2h-2zM90 144h2v2h-2zM108 144h2v2h-2zM112 144h2v2h-2zM136 144h2v2h-2zM152 144h2v2h-2zM170 144h2v2h-2zM8 146h2v2h-2zM20 146h2v2h-2zM48 146h2v2h-2zM56 146h2v2h-2zM106 146h2v2h-2zM146 146h2v2h-2zM162 146h2v2h-2zM174 146h2v2h-2zM30 148h2v2h-2zM38 148h2v2h-2zM46 148h2v2h-2zM80 148h2v2h-2zM102 148h2v2h-2zM114 148h2v2h-2zM120 148h2v2h-2zM184 148h2v2h-2zM188 148h4v2h-4zM4 150h4v2h-4zM10 150h2v2h-2zM18 150h2v2h-2zM28 150h2v2h-2zM38 150h4v2h-4zM60 150h2v2h-2zM68 150h4v2h-4zM98 150h2v2h-2zM142 150h2v2h-2zM148 150h2v2h-2zM156 150h2v2h-2zM162 150h4v2h-4zM170 150h2v2h-2zM180 150h2v2h-2zM190 150h2v2h-2zM10 152h2v2h-2zM68 152h2v2h-2zM84 152h2v2h-2zM98 152h2v2h-2zM112 152h2v2h-2zM128 152h2v2h-2zM162 152h2v2h-2zM168 152h2v2h-2zM186 152h2v2h-2zM12 154h2v2h-2zM18 154h4v2h-4zM58 154h2v2h-2zM76 154h6v2h-6zM86 154h2v2h-2zM104 154h2v2h-2zM126 154h2v2h-2zM144 154h4v2h-4zM188 154h2v2h-2zM26 156h2v2h-2zM52 156h2v2h-2zM58 156h2v2h-2zM66 156h2v2h-2zM88 156h2v2h-2zM104 156h2v2h-2zM124 156h2v2h-2zM128 156h4v2h-4zM164 156h2v2h-2zM180 156h2v2h-2zM46 158h2v2h-2zM56 158h2v2h-2zM104 158h2v2h-2zM116 158h2v2h-2zM120 158h2v2h-2zM138 158h2v2h-2zM4 160h2v2h-2zM16 160h2v2h-2zM38 160h2v2h-2zM46 160h2v2h-2zM82 160h2v2h-2zM94 160h4v2h-4zM120 160h2v2h-2zM126 160h2v2h-2zM130 160h2v2h-2zM138 160h2v2h-2zM172 160h2v2h-2zM190 160h2v2h-2zM10 162h2v2h-2zM16 162h2v2h-2zM22 162h2v2h-2zM30 162h2v2h-2zM74 162h2v2h-2zM78 162h2v2h-2zM116 162h4v2h-4zM124 162h2v2h-2zM130 162h2v2h-2zM134 162h2v2h-2zM154 162h2v2h-2zM160 162h2v2h-2zM184 162h2v2h-2zM188 162h2v2h-2zM16 164h2v2h-2zM54 164h4v2h-4zM74 164h2v2h-2zM78 164h2v2h-2zM86 164h2v2h-2zM104 164h2v2h-2zM122 164h2v2h-2zM136 164h4v2h-4zM144 164h2v2h-2zM148 164h2v2h-2zM162 164h2v2h-2zM12 166h4v2h-4zM22 166h2v2h-2zM36 166h2v2h-2zM66 166h2v2h-2zM120 166h2v2h-2zM132 166h2v2h-2zM178 166h4v2h-4zM4 168h2v2h-2zM22 168h2v2h-2zM26 168h2v2h-2zM106 168h2v2h-2zM120 168h2v2h-2zM142 168h4v2h-4zM58 170h2v2h-2zM64 170h2v2h-2zM72 170h2v2h-2zM84 170h2v2h-2zM108 170h2v2h-2zM126 170h2v2h-2zM130 170h2v2h-2zM168 170h2v2h-2zM180 170h2v2h-2zM186 170h2v2h-2zM32 172h2v2h-2zM48 172h2v2h-2zM62 172h2v2h-2zM68 172h2v2h-2zM88 172h2v2h-2zM94 172h2v2h-2zM98 172h2v2h-2zM120 172h2v2h-2zM124 172h2v2h-2zM142 172h2v2h-2zM154 172h2v2h-2zM168 172h2v2h-2zM184 172h2v2h-2zM190 172h2v2h-2zM4 174h2v2h-2zM16 174h4v2h-4zM24 174h2v2h-2zM52 174h2v2h-2zM64 174h2v2h-2zM90 174h2v2h-2zM94 174h2v2h-2zM136 174h2v2h-2zM166 174h2v2h-2zM182 174h2v2h-2zM16 176h2v2h-2zM58 176h4v2h-4zM88 176h2v2h-2zM124 176h2v2h-2zM138 176h2v2h-2zM142 176h2v2h-2zM152 176h2v2h-2zM166 176h2v2h-2zM2 178h2v2h-2zM24 178h2v2h-2zM38 178h2v2h-2zM44 178h2v2h-2zM54 178h2v2h-2zM58 178h4v2h-4zM80 178h2v2h-2zM102 178h4v2h-4zM152 178h2v2h-2zM186 178h2v2h-2zM26 180h2v2h-2zM72 180h2v2h-2zM114 180h2v2h-2zM124 180h2v2h-2zM128 180h2v2h-2zM132 180h2v2h-2zM156 180h2v2h-2zM160 180h4v2h-4zM174 180h2v2h-2zM180 180h2v2h-2zM190 180h2v2h-2zM20 182h2v2h-2zM42 182h2v2h-2zM48 182h2v2h-2zM58 182h4v2h-4zM64 182h2v2h-2zM70 182h2v2h-2zM80 182h2v2h-2zM86 182h2v2h-2zM90 182h2v2h-2zM118 182h2v2h-2zM124 182h2v2h-2zM130 182h2v2h-2zM136 182h4v2h-4zM142 182h2v2h-2zM154 182h2v2h-2zM176 182h2v2h-2zM190 182h2v2h-2zM54 184h8v2h-8zM68 184h2v2h-2zM74 184h2v2h-2zM136 184h4v2h-4zM152 184h4v2h-4zM180 184h2v2h-2zM0 186h2v2h-2zM20 186h2v2h-2zM38 186h2v2h-2zM76 186h4v2h-4zM86 186h2v2h-2zM102 186h2v2h-2zM112 186h4v2h-4zM122 186h4v2h-4zM160 186h2v2h-2zM166 186h2v2h-2zM6 188h2v2h-2zM16 188h2v2h-2zM20 188h2v2h-2zM24 188h2v2h-2zM28 188h4v2h-4zM34 188h2v2h-2zM80 188h2v2h-2zM110 188h2v2h-2zM118 188h2v2h-2zM124 188h4v2h-4zM144 188h2v2h-2zM150 188h2v2h-2zM160 188h2v2h-2zM172 188h2v2h-2zM4 190h2v2h-2zM14 190h4v2h-4zM34 190h2v2h-2zM70 190h2v2h-2zM98 190h2v2h-2zM144 190h2v2h-2zM150 190h2v2h-2zM158 190h4v2h-4z"/>
<path fill="rgb(102,102,102)" d="M6 0h2v2h-2zM28 0h2v2h-2zM42 0h2v2h-2zM74 0h2v2h-2zM124 0h2v2h-2zM154 0h2v2h-2zM168 0h2v2h-2zM0 2h2v2h-2zM8 2h2v2h-2zM16 2h2v2h-2zM26 2h2v2h-2zM46 2h2v2h-2zM68 2h2v2h-2zM76 2h2v2h-2zM82 2h2v2h-2zM94 2h2v2h-2zM122 2h2v2h-2zM2 4h2v2h-2zM14 4h2v2h-2zM26 4h2v2h-2zM36 4h2v2h-2zM44 4h2v2h-2zM48 4h4v2h-4zM78 4h2v2h-2zM82 4h2v2h-2zM86 4h2v2h-2zM92 4h2v2h-2zM148 4h4v2h-4zM160 4h2v2h-2zM178 4h2v2h-2zM190 4h2v2h-2zM8 6h2v2h-2zM16 6h2v2h-2zM36 6h2v2h-2zM40 6h2v2h-2zM50 6h6v2h-6zM88 6h2v2h-2zM104 6h2v2h-2zM124 6h2v2h-2zM176 6h2v2h-2zM0 8h2v2h-2zM10 8h2v2h-2zM16 8h2v2h-2zM28 8h2v2h-2zM36 8h2v2h-2zM42 8h2v2h-2zM60 8h2v2h-2zM88 8h2v2h-2zM104 8h4v2h-4zM118 8h2v2h-2zM164 8h2v2h-2zM0 10h2v2h-2zM4 10h2v2h-2zM48 10h2v2h-2zM58 10h2v2h-2zM62 10h2v2h-2zM72 10h4v2h-4zM82 10h8v2h-8zM98 10h2v2h-2zM104 10h2v2h-2zM116 10h4v2h-4zM136 10h2v2h-2zM148 10h2v2h-2zM152 10h2v2h-2zM160 10h2v2h-2zM172 10h2v2h-2zM176 10h4v2h-4zM186 10h6v2h-6zM4 12h2v2h-2zM10 12h2v2h-2zM60 12h2v2h-2zM80 12h2v2h-2zM98 12h2v2h-2zM116 12h2v2h-2zM126 12h2v2h-2zM132 12h2v2h-2zM142 12h2v2h-2zM152 12h2v2h-2zM156 12h2v2h-2zM164 12h2v2h-2zM176 12h2v2h-2zM180 12h2v2h-2zM14 14h4v2h-4zM22 14h2v2h-2zM28 14h2v2h-2zM32 14h2v2h-2zM38 14h2v2h-2zM50 14h4v2h-4zM64 14h2v2h-2zM84 14h2v2h-2zM96 14h2v2h-2zM108 14h2v2h-2zM112 14h2v2h-2zM116 14h6v2h-6zM154 14h2v2h-2zM12 16h2v2h-2zM18 16h2v2h-2zM30 16h2v2h-2zM36 16h2v2h-2zM42 16h2v2h-2zM72 16h4v2h-4zM78 16h2v2h-2zM86 16h2v2h-2zM116 16h2v2h-2zM122 16h2v2h-2zM130 16h2v2h-2zM138 16h2v2h-2zM142 16h2v2h-2zM156 16h2v2h-2zM164 16h2v2h-2zM4 18h2v2h-2zM52 18h2v2h-2zM58 18h2v2h-2zM70 18h2v2h-2zM84 18h2v2h-2zM92 18h2v2h-2zM98 18h2v2h-2zM108 18h4v2h-4zM118 18h4v2h-4zM130 18h4v2h-4zM136 18h2v2h-2zM152 18h2v2h-2zM174 18h2v2h-2zM4 20h2v2h-2zM14 20h2v2h-2zM26 20h2v2h-2zM54 20h2v2h-2zM74 20h2v2h-2zM78 20h2v2h-2zM104 20h2v2h-2zM118 20h2v2h-2zM128 20h2v2h-2zM134 20h2v2h-2zM138 20h2v2h-2zM156 20h4v2h-4zM170 20h2v2h-2zM176 20h2v2h-2zM4 22h2v2h-2zM8 22h2v2h-2zM24 22h2v2h-2zM36 22h2v2h-2zM40 22h2v2h-2zM56 22h2v2h-2zM64 22h2v2h-2zM72 22h2v2h-2zM92 22h2v2h-2zM142 22h2v2h-2zM164 22h4v2h-4zM182 22h2v2h-2zM188 22h4v2h-4zM14 24h2v2h-2zM42 24h2v2h-2zM72 24h2v2h-2zM82 24h2v2h-2zM94 24h4v2h-4zM110 24h4v2h-4zM120 24h2v2h-2zM130 24h2v2h-2zM144 24h2v2h-2zM158 24h2v2h-2zM164 24h2v2h-2zM188 24h2v2h-2zM22 26h2v2h-2zM34 26h2v2h-2zM50 26h2v2h-2zM62 26h2v2h-2zM76 26h2v2h-2zM84 26h2v2h-2zM90 26h2v2h-2zM106 26h2v2h-2zM120 26h2v2h-2zM128 26h2v2h-2zM132 26h2v2h-2zM144 26h2v2h-2zM154 26h2v2h-2zM170 26h2v2h-2zM190 26h2v2h-2zM2 28h2v2h-2zM6 28h2v2h-2zM16 28h2v2h-2zM30 28h2v2h-2zM50 28h4v2h-4zM58 28h4v2h-4zM82 28h2v2h-2zM96 28h2v2h-2zM106 28h4v2h-4zM112 28h4v2h-4zM130 28h2v2h-2zM10 30h2v2h-2zM14 30h4v2h-4zM20 30h2v2h-2zM40 30h2v2h-2zM58 30h2v2h-2zM62 30h2v2h-2zM76 30h4v2h-4zM84 30h2v2h-2zM116 30h2v2h-2zM136 30h6v2h-6zM144 30h2v2h-2zM152 30h2v2h-2zM176 30h2v2h-2zM14 32h2v2h-2zM22 32h2v2h-2zM36 32h2v2h-2zM44 32h2v2h-2zM68 32h2v2h-2zM76 32h4v2h-4zM86 32h2v2h-2zM104 32h2v2h-2zM114 32h2v2h-2zM134 32h2v2h-2zM138 32h6v2h-6zM168 32h2v2h-2zM176 32h2v2h-2zM180 32h2v2h-2zM10 34h2v2h-2zM18 34h2v2h-2zM34 34h2v2h-2zM82 34h2v2h-2zM90 34h2v2h-2zM98 34h2v2h-2zM102 34h2v2h-2zM106 34h2v2h-2zM128 34h2v2h-2zM146 34h2v2h-2zM150 34h4v2h-4zM190 34h2v2h-2zM6 36h2v2h-2zM10 36h2v2h-2zM24 36h6v2h-6zM36 36h2v2h-2zM42 36h2v2h-2zM52 36h2v2h-2zM70 36h4v2h-4zM130 36h2v2h-2zM142 36h2v2h-2zM146 36h2v2h-2zM154 36h12v2h-12zM12 38h2v2h-2zM24 38h2v2h-2zM28 38h2v2h-2zM48 38h2v2h-2zM60 38h2v2h-2zM66 38h4v2h-4zM90 38h2v2h-2zM108 38h2v2h-2zM112 38h2v2h-2zM146 38h2v2h-2zM188 38h2v2h-2zM2 40h2v2h-2zM10 40h4v2h-4zM40 40h2v2h-2zM44 40h2v2h-2zM54 40h2v2h-2zM64 40h2v2h-2zM70 40h2v2h-2zM74 40h4v2h-4zM88 40h2v2h-2zM104 40h2v2h-2zM122 40h2v2h-2zM168 40h2v2h-2zM184 40h2v2h-2zM0 42h2v2h-2zM28 42h2v2h-2zM46 42h2v2h-2zM54 42h2v2h-2zM74 42h2v2h-2zM80 42h2v2h-2zM98 42h2v2h-2zM108 42h2v2h-2zM112 42h6v2h-6zM120 42h2v2h-2zM134 42h2v2h-2zM144 42h2v2h-2zM152 42h2v2h-2zM178 42h2v2h-2zM14 44h2v2h-2zM24 44h2v2h-2zM48 44h2v2h-2zM56 44h4v2h-4zM66 44h4v2h-4zM72 44h2v2h-2zM76 44h2v2h-2zM88 44h2v2h-2zM92 44h2v2h-2zM102 44h2v2h-2zM120 44h2v2h-2zM130 44h2v2h-2zM152 44h2v2h-2zM164 44h4v2h-4zM10 46h2v2h-2zM24 46h4v2h-4zM38 46h2v2h-2zM72 46h2v2h-2zM76 46h2v2h-2zM88 46h2v2h-2zM94 46h4v2h-4zM102 46h2v2h-2zM110 46h2v2h-2zM122 46h2v2h-2zM150 46h2v2h-2zM158 46h4v2h-4zM170 46h2v2h-2zM186 46h4v2h-4zM2 48h2v2h-2zM26 48h2v2h-2zM50 48h2v2h-2zM56 48h2v2h-2zM60 48h2v2h-2zM68 48h2v2h-2zM84 48h2v2h-2zM92 48h2v2h-2zM100 48h2v2h-2zM110 48h2v2h-2zM120 48h2v2h-2zM140 48h2v2h-2zM184 48h2v2h-2zM14 50h2v2h-2zM38 50h4v2h-4zM46 50h2v2h-2zM82 50h2v2h-2zM102 50h2v2h-2zM110 50h2v2h-2zM130 50h2v2h-2zM138 50h2v2h-2zM142 50h2v2h-2zM152 50h4v2h-4zM162 50h2v2h-2zM168 50h2v2h-2zM174 50h2v2h-2zM12 52h2v2h-2zM26 52h4v2h-4zM44 52h2v2h-2zM58 52h2v2h-2zM68 52h2v2h-2zM90 52h2v2h-2zM96 52h4v2h-4zM102 52h2v2h-2zM118 52h2v2h-2zM128 52h2v2h-2zM150 52h2v2h-2zM168 52h2v2h-2zM190 52h2v2h-2zM14 54h4v2h-4zM28 54h2v2h-2zM32 54h4v2h-4zM58 54h2v2h-2zM76 54h4v2h-4zM88 54h2v2h-2zM102 54h2v2h-2zM106 54h2v2h-2zM114 54h2v2h-2zM120 54h2v2h-2zM136 54h2v2h-2zM158 54h4v2h-4zM184 54h2v2h-2zM8 56h2v2h-2zM30 56h2v2h-2zM34 56h4v2h-4zM44 56h6v2h-6zM52 56h2v2h-2zM62 56h4v2h-4zM92 56h2v2h-2zM126 56h4v2h-4zM162 56h2v2h-2zM176 56h2v2h-2zM0 58h2v2h-2zM28 58h6v2h-6zM48 58h2v2h-2zM58 58h2v2h-2zM78 58h2v2h-2zM100 58h2v2h-2zM108 58h2v2h-2zM112 58h2v2h-2zM120 58h4v2h-4zM126 58h4v2h-4zM140 58h2v2h-2zM148 58h2v2h-2zM184 58h2v2h-2zM0 60h2v2h-2zM4 60h2v2h-2zM14 60h2v2h-2zM18 60h2v2h-2zM24 60h2v2h-2zM32 60h2v2h-2zM46 60h6v2h-6zM58 60h2v2h-2zM98 60h2v2h-2zM104 60h4v2h-4zM110 60h2v2h-2zM122 60h2v2h-2zM132 60h2v2h-2zM158 60h2v2h-2zM162 60h4v2h-4zM188 60h2v2h-2zM4 62h4v2h-4zM10 62h2v2h-2zM38 62h2v2h-2zM70 62h4v2h-4zM92 62h2v2h-2zM114 62h2v2h-2zM136 62h2v2h-2zM142 62h2v2h-2zM154 62h2v2h-2zM158 62h2v2h-2zM170 62h2v2h-2zM176 62h2v2h-2zM10 64h2v2h-2zM16 64h2v2h-2zM36 64h2v2h-2zM40 64h2v2h-2zM54 64h2v2h-2zM58 64h2v2h-2zM62 64h2v2h-2zM68 64h2v2h-2zM86 64h2v2h-2zM98 64h4v2h-4zM120 64h2v2h-2zM148 64h2v2h-2zM154 64h2v2h-2zM164 64h2v2h-2zM168 64h2v2h-2zM0 66h6v2h-6zM22 66h2v2h-2zM32 66h2v2h-2zM40 66h2v2h-2zM46 66h4v2h-4zM64 66h2v2h-2zM68 66h2v2h-2zM82 66h2v2h-2zM98 66h4v2h-4zM118 66h2v2h-2zM126 66h2v2h-2zM146 66h2v2h-2zM152 66h2v2h-2zM162 66h2v2h-2zM166 66h2v2h-2zM180 66h2v2h-2zM16 68h2v2h-2zM42 68h2v2h-2zM46 68h2v2h-2zM50 68h2v2h-2zM62 68h2v2h-2zM80 68h6v2h-6zM116 68h4v2h-4zM122 68h4v2h-4zM136 68h2v2h-2zM152 68h2v2h-2zM158 68h2v2h-2zM168 68h4v2h-4zM4 70h2v2h-2zM8 70h2v2h-2zM22 70h2v2h-2zM28 70h2v2h-2zM44 70h2v2h-2zM50 70h2v2h-2zM54 70h2v2h-2zM64 70h2v2h-2zM86 70h2v2h-2zM90 70h2v2h-2zM108 70h2v2h-2zM134 70h2v2h-2zM140 70h2v2h-2zM144 70h2v2h-2zM148 70h2v2h-2zM152 70h2v2h-2zM180 70h2v2h-2zM2 72h6v2h-6zM14 72h2v2h-2zM24 72h4v2h-4zM36 72h2v2h-2zM48 72h4v2h-4zM62 72h2v2h-2zM100 72h2v2h-2zM116 72h2v2h-2zM144 72h2v2h-2zM150 72h2v2h-2zM154 72h2v2h-2zM158 72h2v2h-2zM172 72h2v2h-2zM28 74h2v2h-2zM52 74h2v2h-2zM70 74h2v2h-2zM76 74h2v2h-2zM80 74h2v2h-2zM92 74h2v2h-2zM110 74h2v2h-2zM122 74h2v2h-2zM130 74h2v2h-2zM140 74h2v2h-2zM154 74h2v2h-2zM160 74h2v2h-2zM164 74h2v2h-2zM168 74h2v2h-2zM176 74h2v2h-2zM38 76h2v2h-2zM44 76h4v2h-4zM62 76h2v2h-2zM72 76h2v2h-2zM88 76h2v2h-2zM96 76h2v2h-2zM112 76h2v2h-2zM120 76h2v2h-2zM146 76h2v2h-2zM152 76h6v2h-6zM162 76h4v2h-4zM8 78h8v2h-8zM18 78h2v2h-2zM24 78h2v2h-2zM36 78h2v2h-2zM42 78h2v2h-2zM70 78h2v2h-2zM80 78h4v2h-4zM92 78h2v2h-2zM98 78h2v2h-2zM112 78h2v2h-2zM172 78h4v2h-4zM6 80h2v2h-2zM22 80h4v2h-4zM38 80h2v2h-2zM42 80h4v2h-4zM64 80h4v2h-4zM94 80h2v2h-2zM98 80h2v2h-2zM132 80h2v2h-2zM148 80h2v2h-2zM172 80h2v2h-2zM176 80h4v2h-4zM184 80h2v2h-2zM190 80h2v2h-2zM2 82h2v2h-2zM8 82h2v2h-2zM18 82h2v2h-2zM32 82h4v2h-4zM54 82h4v2h-4zM62 82h4v2h-4zM72 82h2v2h-2zM82 82h4v2h-4zM98 82h2v2h-2zM102 82h2v2h-2zM106 82h4v2h-4zM112 82h2v2h-2zM118 82h2v2h-2zM126 82h2v2h-2zM160 82h2v2h-2zM166 82h2v2h-2zM178 82h2v2h-2zM188 82h2v2h-2zM6 84h2v2h-2zM16 84h2v2h-2zM20 84h2v2h-2zM24 84h2v2h-2zM30 84h2v2h-2zM34 84h2v2h-2zM86 84h4v2h-4zM100 84h2v2h-2zM108 84h2v2h-2zM114 84h2v2h-2zM126 84h2v2h-2zM132 84h2v2h-2zM158 84h2v2h-2zM174 84h2v2h-2zM178 84h2v2h-2zM182 84h2v2h-2zM4 86h2v2h-2zM10 86h2v2h-2zM18 86h2v2h-2zM38 86h2v2h-2zM54 86h2v2h-2zM58 86h2v2h-2zM62 86h2v2h-2zM84 86h2v2h-2zM88 86h2v2h-2zM106 86h4v2h-4zM122 86h2v2h-2zM136 86h2v2h-2zM148 86h2v2h-2zM160 86h2v2h-2zM176 86h2v2h-2zM182 86h2v2h-2zM20 88h2v2h-2zM26 88h2v2h-2zM30 88h2v2h-2zM36 88h2v2h-2zM50 88h2v2h-2zM56 88h8v2h-8zM66 88h4v2h-4zM76 88h4v2h-4zM94 88h2v2h-2zM104 88h4v2h-4zM124 88h2v2h-2zM138 88h4v2h-4zM144 88h2v2h-2zM162 88h2v2h-2zM182 88h2v2h-2zM188 88h2v2h-2zM6 90h2v2h-2zM12 90h4v2h-4zM32 90h2v2h-2zM42 90h2v2h-2zM46 90h2v2h-2zM56 90h2v2h-2zM76 90h2v2h-2zM82 90h2v2h-2zM102 90h4v2h-4zM110 90h2v2h-2zM116 90h4v2h-4zM140 90h2v2h-2zM154 90h2v2h-2zM166 90h4v2h-4zM176 90h2v2h-2zM180 90h2v2h-2zM186 90h2v2h-2zM190 90h2v2h-2zM18 92h2v2h-2zM26 92h2v2h-2zM32 92h2v2h-2zM50 92h2v2h-2zM82 92h4v2h-4zM92 92h2v2h-2zM96 92h2v2h-2zM102 92h2v2h-2zM110 92h2v2h-2zM152 92h2v2h-2zM4 94h2v2h-2zM26 94h4v2h-4zM38 94h2v2h-2zM48 94h2v2h-2zM54 94h4v2h-4zM74 94h2v2h-2zM78 94h2v2h-2zM92 94h2v2h-2zM106 94h2v2h-2zM114 94h2v2h-2zM128 94h2v2h-2zM140 94h2v2h-2zM156 94h2v2h-2zM166 94h2v2h-2zM16 96h2v2h-2zM30 96h2v2h-2zM42 96h2v2h-2zM50 96h2v2h-2zM66 96h2v2h-2zM106 96h4v2h-4zM118 96h4v2h-4zM142 96h2v2h-2zM146 96h2v2h-2zM150 96h2v2h-2zM154 96h4v2h-4zM166 96h2v2h-2zM8 98h2v2h-2zM14 98h2v2h-2zM18 98h4v2h-4zM26 98h2v2h-2zM30 98h2v2h-2zM64 98h4v2h-4zM82 98h4v2h-4zM104 98h4v2h-4zM138 98h2v2h-2zM156 98h2v2h-2zM182 98h2v2h-2zM16 100h4v2h-4zM78 100h2v2h-2zM98 100h2v2h-2zM124 100h2v2h-2zM130 100h2v2h-2zM134 100h2v2h-2zM142 100h2v2h-2zM168 100h2v2h-2zM182 100h2v2h-2zM0 102h2v2h-2zM8 102h2v2h-2zM16 102h2v2h-2zM28 102h2v2h-2zM38 102h2v2h-2zM50 102h2v2h-2zM70 102h2v2h-2zM80 102h2v2h-2zM110 102h2v2h-2zM138 102h2v2h-2zM144 102h2v2h-2zM150 102h2v2h-2zM158 102h2v2h-2zM162 102h2v2h-2zM172 102h2v2h-2zM2 104h2v2h-2zM16 104h2v2h-2zM48 104h8v2h-8zM70 104h2v2h-2zM78 104h2v2h-2zM82 104h2v2h-2zM122 104h2v2h-2zM140 104h2v2h-2zM160 104h2v2h-2zM168 104h2v2h-2zM176 104h2v2h-2zM180 104h2v2h-2zM6 106h2v2h-2zM20 106h2v2h-2zM24 106h2v2h-2zM36 106h2v2h-2zM58 106h2v2h-2zM86 106h2v2h-2zM130 106h2v2h-2zM140 106h4v2h-4zM158 106h2v2h-2zM164 106h2v2h-2zM182 106h2v2h-2zM0 108h2v2h-2zM6 108h2v2h-2zM34 108h2v2h-2zM48 108h2v2h-2zM62 108h2v2h-2zM72 108h2v2h-2zM88 108h2v2h-2zM104 108h2v2h-2zM116 108h2v2h-2zM140 108h2v2h-2zM180 108h4v2h-4zM10 110h2v2h-2zM18 110h2v2h-2zM30 110h2v2h-2zM70 110h2v2h-2zM84 110h2v2h-2zM88 110h4v2h-4zM116 110h2v2h-2zM150 110h2v2h-2zM168 110h6v2h-6zM34 112h2v2h-2zM38 112h2v2h-2zM48 112h2v2h-2zM58 112h4v2h-4zM88 112h2v2h-2zM94 112h2v2h-2zM108 112h2v2h-2zM116 112h2v2h-2zM126 112h2v2h-2zM136 112h2v2h-2zM144 112h6v2h-6zM158 112h6v2h-6zM168 112h4v2h-4zM12 114h2v2h-2zM28 114h2v2h-2zM36 114h2v2h-2zM48 114h2v2h-2zM54 114h2v2h-2zM78 114h2v2h-2zM84 114h2v2h-2zM108 114h2v2h-2zM116 114h2v2h-2zM132 114h2v2h-2zM148 114h2v2h-2zM2 116h2v2h-2zM8 116h2v2h-2zM54 116h2v2h-2zM84 116h2v2h-2zM92 116h4v2h-4zM98 116h2v2h-2zM104 116h2v2h-2zM114 116h2v2h-2zM118 116h2v2h-2zM138 116h2v2h-2zM144 116h2v2h-2zM152 116h4v2h-4zM178 116h2v2h-2zM182 116h2v2h-2zM188 116h2v2h-2zM0 118h2v2h-2zM14 118h2v2h-2zM18 118h2v2h-2zM26 118h2v2h-2zM34 118h2v2h-2zM42 118h4v2h-4zM56 118h2v2h-2zM64 118h2v2h-2zM74 118h2v2h-2zM82 118h2v2h-2zM88 118h2v2h-2zM94 118h2v2h-2zM114 118h2v2h-2zM132 118h2v2h-2zM142 118h2v2h-2zM184 118h2v2h-2zM188 118h2v2h-2zM18 120h2v2h-2zM24 120h4v2h-4zM44 120h4v2h-4zM70 120h2v2h-2zM108 120h4v2h-4zM124 120h4v2h-4zM148 120h2v2h-2zM168 120h2v2h-2zM0 122h2v2h-2zM10 122h2v2h-2zM14 122h2v2h-2zM28 122h2v2h-2zM42 122h2v2h-2zM70 122h2v2h-2zM112 122h2v2h-2zM132 122h2v2h-2zM170 122h2v2h-2zM176 122h2v2h-2zM184 122h4v2h-4zM190 122h2v2h-2zM16 124h2v2h-2zM56 124h2v2h-2zM62 124h2v2h-2zM72 124h2v2h-2zM84 124h4v2h-4zM100 124h2v2h-2zM106 124h2v2h-2zM112 124h4v2h-4zM132 124h2v2h-2zM152 124h2v2h-2zM172 124h2v2h-2zM184 124h2v2h-2zM4 126h2v2h-2zM12 126h2v2h-2zM32 126h4v2h-4zM38 126h2v2h-2zM42 126h2v2h-2zM48 126h6v2h-6zM104 126h2v2h-2zM110 126h2v2h-2zM120 126h2v2h-2zM124 126h2v2h-2zM138 126h2v2h-2zM142 126h2v2h-2zM148 126h2v2h-2zM162 126h2v2h-2zM14 128h2v2h-2zM26 128h2v2h-2zM34 128h2v2h-2zM52 128h2v2h-2zM56 128h2v2h-2zM84 128h2v2h-2zM100 128h2v2h-2zM112 128h2v2h-2zM120 128h2v2h-2zM124 128h2v2h-2zM134 128h2v2h-2zM138 128h2v2h-2zM156 128h2v2h-2zM172 128h4v2h-4zM12 130h2v2h-2zM20 130h2v2h-2zM36 130h2v2h-2zM44 130h2v2h-2zM66 130h2v2h-2zM74 130h2v2h-2zM80 130h4v2h-4zM90 130h2v2h-2zM130 130h2v2h-2zM0 132h2v2h-2zM42 132h2v2h-2zM68 132h4v2h-4zM80 132h2v2h-2zM136 132h4v2h-4zM156 132h2v2h-2zM160 132h2v2h-2zM180 132h2v2h-2zM12 134h2v2h-2zM26 134h2v2h-2zM40 134h2v2h-2zM58 134h4v2h-4zM70 134h2v2h-2zM90 134h2v2h-2zM106 134h2v2h-2zM110 134h2v2h-2zM114 134h2v2h-2zM134 134h2v2h-2zM152 134h2v2h-2zM2 136h2v2h-2zM6 136h4v2h-4zM24 136h2v2h-2zM38 136h4v2h-4zM46 136h2v2h-2zM52 136h2v2h-2zM70 136h2v2h-2zM82 136h2v2h-2zM86 136h2v2h-2zM106 136h2v2h-2zM118 136h4v2h-4zM140 136h4v2h-4zM154 136h2v2h-2zM10 138h2v2h-2zM20 138h4v2h-4zM66 138h2v2h-2zM86 138h2v2h-2zM108 138h2v2h-2zM140 138h2v2h-2zM176 138h2v2h-2zM0 140h2v2h-2zM54 140h2v2h-2zM70 140h2v2h-2zM98 140h2v2h-2zM104 140h2v2h-2zM108 140h2v2h-2zM128 140h4v2h-4zM142 140h2v2h-2zM182 140h2v2h-2zM0 142h2v2h-2zM6 142h2v2h-2zM34 142h2v2h-2zM60 142h2v2h-2zM74 142h2v2h-2zM96 142h2v2h-2zM120 142h2v2h-2zM136 142h2v2h-2zM140 142h2v2h-2zM146 142h2v2h-2zM158 142h2v2h-2zM164 142h2v2h-2zM170 142h2v2h-2zM180 142h2v2h-2zM6 144h2v2h-2zM16 144h2v2h-2zM42 144h2v2h-2zM46 144h2v2h-2zM68 144h2v2h-2zM72 144h2v2h-2zM76 144h2v2h-2zM100 144h2v2h-2zM118 144h2v2h-2zM124 144h4v2h-4zM144 144h2v2h-2zM150 144h2v2h-2zM162 144h2v2h-2zM0 146h4v2h-4zM6 146h2v2h-2zM14 146h4v2h-4zM36 146h2v2h-2zM40 146h8v2h-8zM52 146h2v2h-2zM62 146h2v2h-2zM82 146h2v2h-2zM90 146h2v2h-2zM102 146h2v2h-2zM134 146h2v2h-2zM148 146h2v2h-2zM164 146h2v2h-2zM168 146h2v2h-2zM0 148h2v2h-2zM14 148h2v2h-2zM26 148h2v2h-2zM32 148h2v2h-2zM40 148h2v2h-2zM90 148h4v2h-4zM96 148h2v2h-2zM106 148h2v2h-2zM110 148h4v2h-4zM116 148h4v2h-4zM132 148h4v2h-4zM148 148h2v2h-2zM156 148h2v2h-2zM166 148h2v2h-2zM170 148h2v2h-2zM182 148h2v2h-2zM14 150h2v2h-2zM62 150h2v2h-2zM66 150h2v2h-2zM84 150h2v2h-2zM90 150h2v2h-2zM8 152h2v2h-2zM20 152h2v2h-2zM28 152h2v2h-2zM34 152h2v2h-2zM40 152h2v2h-2zM66 152h2v2h-2zM72 152h2v2h-2zM78 152h2v2h-2zM86 152h2v2h-2zM92 152h4v2h-4zM120 152h2v2h-2zM126 152h2v2h-2zM130 152h2v2h-2zM134 152h4v2h-4zM140 152h2v2h-2zM144 152h2v2h-2zM170 152h2v2h-2zM178 152h2v2h-2zM188 152h2v2h-2zM6 154h2v2h-2zM32 154h2v2h-2zM42 154h2v2h-2zM48 154h2v2h-2zM52 154h2v2h-2zM66 154h2v2h-2zM82 154h4v2h-4zM90 154h2v2h-2zM100 154h4v2h-4zM114 154h2v2h-2zM118 154h2v2h-2zM166 154h2v2h-2zM174 154h2v2h-2zM4 156h2v2h-2zM38 156h2v2h-2zM56 156h2v2h-2zM62 156h2v2h-2zM70 156h2v2h-2zM74 156h2v2h-2zM116 156h2v2h-2zM120 156h2v2h-2zM126 156h2v2h-2zM132 156h2v2h-2zM140 156h2v2h-2zM144 156h2v2h-2zM158 156h2v2h-2zM170 156h2v2h-2zM0 158h2v2h-2zM4 158h2v2h-2zM24 158h2v2h-2zM74 158h4v2h-4zM128 158h2v2h-2zM134 158h2v2h-2zM152 158h2v2h-2zM160 158h2v2h-2zM12 160h4v2h-4zM40 160h2v2h-2zM66 160h4v2h-4zM100 160h2v2h-2zM106 160h2v2h-2zM114 160h2v2h-2zM132 160h2v2h-2zM158 160h2v2h-2zM2 162h4v2h-4zM32 162h2v2h-2zM36 162h4v2h-4zM56 162h4v2h-4zM82 162h2v2h-2zM106 162h2v2h-2zM112 162h2v2h-2zM122 162h2v2h-2zM126 162h4v2h-4zM146 162h2v2h-2zM152 162h2v2h-2zM162 162h4v2h-4zM170 162h2v2h-2zM176 162h2v2h-2zM182 162h2v2h-2zM6 164h6v2h-6zM26 164h2v2h-2zM32 164h2v2h-2zM36 164h2v2h-2zM40 164h2v2h-2zM46 164h2v2h-2zM58 164h6v2h-6zM68 164h2v2h-2zM72 164h2v2h-2zM92 164h2v2h-2zM98 164h2v2h-2zM124 164h2v2h-2zM150 164h2v2h-2zM158 164h2v2h-2zM168 164h2v2h-2zM176 164h2v2h-2zM182 164h2v2h-2zM2 166h2v2h-2zM20 166h2v2h-2zM56 166h2v2h-2zM62 166h2v2h-2zM74 166h2v2h-2zM88 166h2v2h-2zM102 166h2v2h-2zM114 166h2v2h-2zM122 166h4v2h-4zM134 166h2v2h-2zM150 166h2v2h-2zM160 166h2v2h-2zM174 166h4v2h-4zM0 168h2v2h-2zM14 168h2v2h-2zM18 168h4v2h-4zM28 168h2v2h-2zM44 168h4v2h-4zM54 168h4v2h-4zM60 168h2v2h-2zM64 168h2v2h-2zM76 168h2v2h-2zM82 168h2v2h-2zM88 168h2v2h-2zM102 168h2v2h-2zM122 168h4v2h-4zM150 168h2v2h-2zM178 168h2v2h-2zM186 168h2v2h-2zM190 168h2v2h-2zM18 170h4v2h-4zM36 170h2v2h-2zM50 170h2v2h-2zM66 170h6v2h-6zM78 170h4v2h-4zM102 170h4v2h-4zM116 170h4v2h-4zM128 170h2v2h-2zM140 170h2v2h-2zM156 170h2v2h-2zM160 170h2v2h-2zM178 170h2v2h-2zM184 170h2v2h-2zM14 172h2v2h-2zM22 172h2v2h-2zM26 172h2v2h-2zM34 172h2v2h-2zM40 172h2v2h-2zM56 172h2v2h-2zM66 172h2v2h-2zM96 172h2v2h-2zM126 172h2v2h-2zM136 172h2v2h-2zM146 172h4v2h-4zM164 172h2v2h-2zM180 172h2v2h-2zM12 174h2v2h-2zM32 174h2v2h-2zM78 174h4v2h-4zM84 174h2v2h-2zM104 174h2v2h-2zM152 174h2v2h-2zM160 174h2v2h-2zM168 174h2v2h-2zM174 174h4v2h-4zM180 174h2v2h-2zM4 176h4v2h-4zM12 176h2v2h-2zM18 176h2v2h-2zM22 176h2v2h-2zM26 176h4v2h-4zM42 176h2v2h-2zM62 176h4v2h-4zM78 176h2v2h-2zM84 176h2v2h-2zM114 176h4v2h-4zM128 176h2v2h-2zM134 176h2v2h-2zM144 176h2v2h-2zM164 176h2v2h-2zM170 176h2v2h-2zM188 176h2v2h-2zM30 178h2v2h-2zM36 178h2v2h-2zM48 178h2v2h-2zM72 178h2v2h-2zM96 178h2v2h-2zM108 178h2v2h-2zM114 178h4v2h-4zM138 178h2v2h-2zM158 178h4v2h-4zM166 178h4v2h-4zM176 178h2v2h-2zM188 178h2v2h-2zM36 180h4v2h-4zM44 180h2v2h-2zM48 180h4v2h-4zM62 180h2v2h-2zM80 180h2v2h-2zM96 180h2v2h-2zM108 180h4v2h-4zM138 180h2v2h-2zM144 180h2v2h-2zM152 180h2v2h-2zM158 180h2v2h-2zM166 180h2v2h-2zM170 180h2v2h-2zM176 180h2v2h-2zM184 180h4v2h-4zM8 182h2v2h-2zM12 182h2v2h-2zM30 182h2v2h-2zM74 182h2v2h-2zM106 182h2v2h-2zM112 182h2v2h-2zM134 182h2v2h-2zM152 182h2v2h-2zM160 182h2v2h-2zM174 182h2v2h-2zM184 182h2v2h-2zM6 184h2v2h-2zM12 184h4v2h-4zM20 184h2v2h-2zM30 184h2v2h-2zM42 184h2v2h-2zM48 184h2v2h-2zM80 184h4v2h-4zM98 184h2v2h-2zM106 184h2v2h-2zM114 184h2v2h-2zM132 184h2v2h-2zM142 184h2v2h-2zM164 184h2v2h-2zM182 184h2v2h-2zM186 184h2v2h-2zM24 186h2v2h-2zM42 186h6v2h-6zM50 186h2v2h-2zM58 186h2v2h-2zM94 186h2v2h-2zM104 186h2v2h-2zM110 186h2v2h-2zM120 186h2v2h-2zM138 186h4v2h-4zM156 186h2v2h-2zM162 186h2v2h-2zM172 186h2v2h-2zM182 186h2v2h-2zM0 188h2v2h-2zM8 188h2v2h-2zM42 188h4v2h-4zM52 188h2v2h-2zM72 188h2v2h-2zM92 188h2v2h-2zM116 188h2v2h-2zM130 188h4v2h-4zM162 188h2v2h-2zM174 188h2v2h-2zM180 188h2v2h-2zM190 188h2v2h-2zM6 190h4v2h-4zM20 190h4v2h-4zM38 190h2v2h-2zM58 190h2v2h-2zM86 190h2v2h-2zM122 190h2v2h-2zM128 190h2v2h-2zM136 190h2v2h-2zM146 190h2v2h-2zM154 190h4v2h-4zM162 190h2v2h-2zM190 190h2v2h-2z"/>
<path fill="rgb(153,153,153)" d="M14 0h2v2h-2zM22 0h2v2h-2zM26 0h2v2h-2zM32 0h2v2h-2zM36 0h2v2h-2zM44 0h2v2h-2zM50 0h2v2h-2zM60 0h4v2h-4zM70 0h4v2h-4zM100 0h2v2h-2zM104 0h6v2h-6zM122 0h2v2h-2zM132 0h2v2h-2zM136 0h2v2h-2zM146 0h2v2h-2zM166 0h2v2h-2zM176 0h4v2h-4zM182 0h6v2h-6zM14 2h2v2h-2zM22 2h2v2h-2zM34 2h2v2h-2zM38 2h2v2h-2zM42 2h2v2h-2zM52 2h2v2h-2zM62 2h2v2h-2zM84 2h4v2h-4zM98 2h2v2h-2zM114 2h6v2h-6zM144 2h2v2h-2zM150 2h4v2h-4zM168 2h2v2h-2zM178 2h2v2h-2zM190 2h2v2h-2zM6 4h4v2h-4zM20 4h4v2h-4zM32 4h2v2h-2zM52 4h2v2h-2zM62 4h2v2h-2zM66 4h2v2h-2zM96 4h6v2h-6zM104 4h4v2h-4zM114 4h4v2h-4zM120 4h2v2h-2zM126 4h2v2h-2zM142 4h2v2h-2zM154 4h6v2h-6zM168 4h8v2h-8zM186 4h4v2h-4zM10 6h2v2h-2zM56 6h2v2h-2zM76 6h4v2h-4zM84 6h2v2h-2zM90 6h2v2h-2zM98 6h4v2h-4zM112 6h4v2h-4zM128 6h2v2h-2zM140 6h2v2h-2zM148 6h4v2h-4zM168 6h2v2h-2zM174 6h2v2h-2zM186 6h2v2h-2zM12 8h4v2h-4zM18 8h4v2h-4zM30 8h2v2h-2zM34 8h2v2h-2zM46 8h2v2h-2zM54 8h4v2h-4zM72 8h2v2h-2zM84 8h2v2h-2zM92 8h2v2h-2zM102 8h2v2h-2zM128 8h6v2h-6zM142 8h4v2h-4zM160 8h2v2h-2zM186 8h2v2h-2zM190 8h2v2h-2zM2 10h2v2h-2zM6 10h4v2h-4zM16 10h2v2h-2zM52 10h6v2h-6zM68 10h2v2h-2zM90 10h2v2h-2zM102 10h2v2h-2zM126 10h4v2h-4zM138 10h2v2h-2zM146 10h2v2h-2zM154 10h2v2h-2zM162 10h2v2h-2zM168 10h2v2h-2zM8 12h2v2h-2zM12 12h2v2h-2zM24 12h2v2h-2zM28 12h2v2h-2zM34 12h4v2h-4zM44 12h2v2h-2zM48 12h2v2h-2zM76 12h2v2h-2zM102 12h2v2h-2zM114 12h2v2h-2zM146 12h6v2h-6zM154 12h2v2h-2zM158 12h2v2h-2zM170 12h6v2h-6zM182 12h2v2h-2zM0 14h2v2h-2zM6 14h6v2h-6zM30 14h2v2h-2zM36 14h2v2h-2zM48 14h2v2h-2zM58 14h6v2h-6zM86 14h4v2h-4zM94 14h2v2h-2zM98 14h2v2h-2zM102 14h2v2h-2zM124 14h8v2h-8zM138 14h2v2h-2zM148 14h4v2h-4zM158 14h4v2h-4zM172 14h2v2h-2zM176 14h4v2h-4zM6 16h2v2h-2zM26 16h4v2h-4zM32 16h2v2h-2zM62 16h2v2h-2zM80 16h2v2h-2zM84 16h2v2h-2zM96 16h2v2h-2zM102 16h2v2h-2zM114 16h2v2h-2zM120 16h2v2h-2zM126 16h2v2h-2zM132 16h2v2h-2zM136 16h2v2h-2zM152 16h2v2h-2zM162 16h2v2h-2zM168 16h2v2h-2zM174 16h2v2h-2zM178 16h2v2h-2zM6 18h4v2h-4zM28 18h4v2h-4zM36 18h4v2h-4zM42 18h4v2h-4zM48 18h4v2h-4zM56 18h2v2h-2zM60 18h4v2h-4zM76 18h2v2h-2zM94 18h2v2h-2zM100 18h2v2h-2zM104 18h2v2h-2zM112 18h4v2h-4zM142 18h2v2h-2zM146 18h2v2h-2zM176 18h2v2h-2zM182 18h2v2h-2zM8 20h2v2h-2zM12 20h2v2h-2zM24 20h2v2h-2zM28 20h10v2h-10zM46 20h2v2h-2zM58 20h2v2h-2zM62 20h4v2h-4zM76 20h2v2h-2zM82 20h4v2h-4zM94 20h2v2h-2zM98 20h4v2h-4zM106 20h2v2h-2zM110 20h4v2h-4zM116 20h2v2h-2zM148 20h4v2h-4zM154 20h2v2h-2zM162 20h2v2h-2zM172 20h2v2h-2zM180 20h2v2h-2zM184 20h2v2h-2zM6 22h2v2h-2zM12 22h4v2h-4zM18 22h2v2h-2zM28 22h6v2h-6zM38 22h2v2h-2zM54 22h2v2h-2zM58 22h2v2h-2zM68 22h2v2h-2zM100 22h2v2h-2zM118 22h2v2h-2zM126 22h4v2h-4zM134 22h4v2h-4zM140 22h2v2h-2zM144 22h4v2h-4zM150 22h4v2h-4zM158 22h2v2h-2zM172 22h6v2h-6zM184 22h4v2h-4zM0 24h2v2h-2zM8 24h2v2h-2zM12 24h2v2h-2zM18 24h2v2h-2zM34 24h2v2h-2zM44 24h2v2h-2zM52 24h4v2h-4zM64 24h4v2h-4zM70 24h2v2h-2zM74 24h4v2h-4zM88 24h2v2h-2zM92 24h2v2h-2zM98 24h4v2h-4zM108 24h2v2h-2zM116 24h4v2h-4zM124 24h2v2h-2zM136 24h2v2h-2zM140 24h2v2h-2zM146 24h2v2h-2zM152 24h2v2h-2zM172 24h2v2h-2zM184 24h4v2h-4zM190 24h2v2h-2zM0 26h2v2h-2zM4 26h2v2h-2zM12 26h2v2h-2zM30 26h2v2h-2zM80 26h2v2h-2zM86 26h4v2h-4zM98 26h2v2h-2zM116 26h2v2h-2zM146 26h2v2h-2zM162 26h2v2h-2zM180 26h2v2h-2zM184 26h2v2h-2zM188 26h2v2h-2zM8 28h2v2h-2zM12 28h4v2h-4zM22 28h2v2h-2zM44 28h4v2h-4zM54 28h4v2h-4zM92 28h2v2h-2zM98 28h6v2h-6zM116 28h6v2h-6zM134 28h2v2h-2zM148 28h2v2h-2zM154 28h2v2h-2zM170 28h2v2h-2zM180 28h4v2h-4zM24 30h2v2h-2zM36 30h4v2h-4zM56 30h2v2h-2zM88 30h2v2h-2zM96 30h2v2h-2zM108 30h2v2h-2zM112 30h2v2h-2zM148 30h2v2h-2zM160 30h2v2h-2zM166 30h2v2h-2zM172 30h2v2h-2zM184 30h2v2h-2zM190 30h2v2h-2zM2 32h2v2h-2zM6 32h2v2h-2zM16 32h2v2h-2zM24 32h4v2h-4zM30 32h2v2h-2zM50 32h2v2h-2zM66 32h2v2h-2zM92 32h2v2h-2zM98 32h2v2h-2zM108 32h2v2h-2zM112 32h2v2h-2zM126 32h2v2h-2zM130 32h2v2h-2zM158 32h4v2h-4zM172 32h2v2h-2zM184 32h2v2h-2zM190 32h2v2h-2zM2 34h2v2h-2zM8 34h2v2h-2zM16 34h2v2h-2zM30 34h2v2h-2zM40 34h6v2h-6zM48 34h2v2h-2zM52 34h2v2h-2zM74 34h2v2h-2zM86 34h2v2h-2zM110 34h2v2h-2zM114 34h2v2h-2zM120 34h2v2h-2zM130 34h2v2h-2zM136 34h2v2h-2zM166 34h8v2h-8zM176 34h2v2h-2zM180 34h4v2h-4zM0 36h2v2h-2zM38 36h4v2h-4zM46 36h2v2h-2zM54 36h2v2h-2zM78 36h4v2h-4zM88 36h4v2h-4zM94 36h6v2h-6zM106 36h2v2h-2zM110 36h2v2h-2zM114 36h2v2h-2zM120 36h4v2h-4zM126 36h2v2h-2zM134 36h2v2h-2zM180 36h4v2h-4zM14 38h8v2h-8zM26 38h2v2h-2zM42 38h2v2h-2zM74 38h2v2h-2zM84 38h2v2h-2zM92 38h2v2h-2zM96 38h2v2h-2zM100 38h4v2h-4zM118 38h2v2h-2zM124 38h2v2h-2zM132 38h2v2h-2zM144 38h2v2h-2zM150 38h8v2h-8zM170 38h2v2h-2zM20 40h4v2h-4zM28 40h2v2h-2zM34 40h2v2h-2zM46 40h2v2h-2zM56 40h4v2h-4zM68 40h2v2h-2zM78 40h2v2h-2zM96 40h2v2h-2zM102 40h2v2h-2zM106 40h2v2h-2zM112 40h2v2h-2zM116 40h2v2h-2zM126 40h2v2h-2zM136 40h2v2h-2zM140 40h2v2h-2zM154 40h2v2h-2zM174 40h4v2h-4zM180 40h4v2h-4zM186 40h2v2h-2zM8 42h2v2h-2zM14 42h2v2h-2zM24 42h4v2h-4zM30 42h2v2h-2zM42 42h4v2h-4zM48 42h2v2h-2zM64 42h4v2h-4zM70 42h2v2h-2zM84 42h4v2h-4zM126 42h2v2h-2zM138 42h6v2h-6zM146 42h4v2h-4zM160 42h2v2h-2zM174 42h2v2h-2zM186 42h4v2h-4zM6 44h2v2h-2zM12 44h2v2h-2zM16 44h4v2h-4zM44 44h2v2h-2zM62 44h2v2h-2zM86 44h2v2h-2zM90 44h2v2h-2zM94 44h2v2h-2zM110 44h4v2h-4zM116 44h2v2h-2zM134 44h2v2h-2zM158 44h4v2h-4zM172 44h2v2h-2zM188 44h2v2h-2zM0 46h2v2h-2zM4 46h2v2h-2zM12 46h2v2h-2zM16 46h4v2h-4zM30 46h2v2h-2zM36 46h2v2h-2zM42 46h2v2h-2zM54 46h2v2h-2zM68 46h2v2h-2zM80 46h2v2h-2zM98 46h2v2h-2zM112 46h4v2h-4zM124 46h2v2h-2zM128 46h8v2h-8zM138 46h4v2h-4zM152 46h2v2h-2zM164 46h2v2h-2zM168 46h2v2h-2zM176 46h2v2h-2zM0 48h2v2h-2zM24 48h2v2h-2zM34 48h2v2h-2zM38 48h2v2h-2zM42 48h2v2h-2zM48 48h2v2h-2zM58 48h2v2h-2zM62 48h2v2h-2zM66 48h2v2h-2zM72 48h2v2h-2zM80 48h4v2h-4zM86 48h2v2h-2zM96 48h2v2h-2zM102 48h2v2h-2zM108 48h2v2h-2zM116 48h2v2h-2zM126 48h2v2h-2zM130 48h2v2h-2zM134 48h2v2h-2zM154 48h4v2h-4zM168 48h2v2h-2zM176 48h2v2h-2zM0 50h2v2h-2zM10 50h4v2h-4zM18 50h2v2h-2zM22 50h2v2h-2zM64 50h2v2h-2zM72 50h2v2h-2zM78 50h2v2h-2zM92 50h2v2h-2zM114 50h2v2h-2zM118 50h2v2h-2zM122 50h2v2h-2zM126 50h4v2h-4zM178 50h4v2h-4zM4 52h2v2h-2zM32 52h2v2h-2zM46 52h4v2h-4zM66 52h2v2h-2zM72 52h2v2h-2zM76 52h2v2h-2zM80 52h2v2h-2zM106 52h4v2h-4zM114 52h2v2h-2zM134 52h2v2h-2zM144 52h2v2h-2zM164 52h2v2h-2zM174 52h2v2h-2zM180 52h2v2h-2zM186 52h2v2h-2zM2 54h2v2h-2zM12 54h2v2h-2zM48 54h6v2h-6zM60 54h4v2h-4zM68 54h4v2h-4zM74 54h2v2h-2zM80 54h2v2h-2zM90 54h2v2h-2zM96 54h6v2h-6zM108 54h2v2h-2zM112 54h2v2h-2zM122 54h2v2h-2zM128 54h2v2h-2zM144 54h4v2h-4zM154 54h2v2h-2zM164 54h4v2h-4zM174 54h4v2h-4zM186 54h2v2h-2zM0 56h4v2h-4zM6 56h2v2h-2zM14 56h2v2h-2zM26 56h4v2h-4zM50 56h2v2h-2zM56 56h2v2h-2zM66 56h2v2h-2zM80 56h2v2h-2zM90 56h2v2h-2zM96 56h2v2h-2zM100 56h2v2h-2zM106 56h2v2h-2zM114 56h2v2h-2zM120 56h2v2h-2zM134 56h2v2h-2zM142 56h6v2h-6zM152 56h2v2h-2zM158 56h2v2h-2zM170 56h2v2h-2zM186 56h2v2h-2zM4 58h2v2h-2zM34 58h2v2h-2zM62 58h2v2h-2zM68 58h4v2h-4zM76 58h2v2h-2zM82 58h2v2h-2zM92 58h2v2h-2zM96 58h2v2h-2zM106 58h2v2h-2zM114 58h6v2h-6zM124 58h2v2h-2zM138 58h2v2h-2zM142 58h2v2h-2zM154 58h2v2h-2zM162 58h2v2h-2zM166 58h2v2h-2zM176 58h2v2h-2zM182 58h2v2h-2zM188 58h4v2h-4zM8 60h2v2h-2zM20 60h2v2h-2zM60 60h2v2h-2zM84 60h2v2h-2zM88 60h2v2h-2zM94 60h2v2h-2zM102 60h2v2h-2zM112 60h2v2h-2zM124 60h2v2h-2zM130 60h2v2h-2zM134 60h2v2h-2zM144 60h2v2h-2zM182 60h2v2h-2zM0 62h4v2h-4zM22 62h2v2h-2zM26 62h2v2h-2zM32 62h4v2h-4zM40 62h2v2h-2zM46 62h8v2h-8zM86 62h2v2h-2zM90 62h2v2h-2zM98 62h2v2h-2zM106 62h6v2h-6zM132 62h4v2h-4zM172 62h2v2h-2zM180 62h2v2h-2zM4 64h2v2h-2zM20 64h2v2h-2zM24 64h6v2h-6zM42 64h2v2h-2zM46 64h2v2h-2zM50 64h2v2h-2zM56 64h2v2h-2zM60 64h2v2h-2zM82 64h2v2h-2zM90 64h2v2h-2zM94 64h2v2h-2zM104 64h2v2h-2zM112 64h6v2h-6zM130 64h2v2h-2zM138 64h2v2h-2zM160 64h2v2h-2zM172 64h2v2h-2zM176 64h6v2h-6zM184 64h2v2h-2zM6 66h2v2h-2zM30 66h2v2h-2zM38 66h2v2h-2zM42 66h2v2h-2zM50 66h4v2h-4zM60 66h2v2h-2zM66 66h2v2h-2zM70 66h2v2h-2zM74 66h2v2h-2zM86 66h2v2h-2zM92 66h2v2h-2zM128 66h2v2h-2zM154 66h2v2h-2zM164 66h2v2h-2zM172 66h2v2h-2zM176 66h2v2h-2zM6 68h2v2h-2zM10 68h2v2h-2zM18 68h2v2h-2zM34 68h2v2h-2zM40 68h2v2h-2zM54 68h2v2h-2zM60 68h2v2h-2zM88 68h2v2h-2zM92 68h2v2h-2zM98 68h4v2h-4zM112 68h2v2h-2zM134 68h2v2h-2zM144 68h2v2h-2zM154 68h4v2h-4zM160 68h2v2h-2zM164 68h4v2h-4zM174 68h2v2h-2zM190 68h2v2h-2zM12 70h2v2h-2zM38 70h2v2h-2zM42 70h2v2h-2zM58 70h4v2h-4zM66 70h4v2h-4zM74 70h2v2h-2zM82 70h2v2h-2zM96 70h2v2h-2zM112 70h4v2h-4zM138 70h2v2h-2zM154 70h4v2h-4zM162 70h4v2h-4zM178 70h2v2h-2zM186 70h4v2h-4zM0 72h2v2h-2zM20 72h4v2h-4zM30 72h2v2h-2zM38 72h2v2h-2zM52 72h4v2h-4zM60 72h2v2h-2zM68 72h4v2h-4zM74 72h2v2h-2zM80 72h2v2h-2zM86 72h2v2h-2zM96 72h4v2h-4zM102 72h2v2h-2zM106 72h2v2h-2zM110 72h2v2h-2zM118 72h2v2h-2zM124 72h2v2h-2zM128 72h4v2h-4zM156 72h2v2h-2zM160 72h2v2h-2zM168 72h2v2h-2zM176 72h2v2h-2zM180 72h2v2h-2zM188 72h2v2h-2zM0 74h8v2h-8zM14 74h2v2h-2zM22 74h2v2h-2zM26 74h2v2h-2zM30 74h2v2h-2zM38 74h2v2h-2zM44 74h2v2h-2zM72 74h2v2h-2zM88 74h4v2h-4zM94 74h4v2h-4zM100 74h2v2h-2zM112 74h4v2h-4zM118 74h2v2h-2zM142 74h4v2h-4zM148 74h4v2h-4zM180 74h4v2h-4zM186 74h2v2h-2zM190 74h2v2h-2zM8 76h2v2h-2zM24 76h6v2h-6zM56 76h2v2h-2zM70 76h2v2h-2zM114 76h4v2h-4zM126 76h4v2h-4zM136 76h2v2h-2zM142 76h2v2h-2zM150 76h2v2h-2zM158 76h2v2h-2zM172 76h4v2h-4zM178 76h2v2h-2zM2 78h2v2h-2zM16 78h2v2h-2zM30 78h2v2h-2zM40 78h2v2h-2zM44 78h2v2h-2zM52 78h4v2h-4zM58 78h4v2h-4zM74 78h6v2h-6zM84 78h2v2h-2zM90 78h2v2h-2zM94 78h2v2h-2zM102 78h2v2h-2zM114 78h2v2h-2zM126 78h2v2h-2zM130 78h2v2h-2zM146 78h2v2h-2zM150 78h2v2h-2zM154 78h2v2h-2zM170 78h2v2h-2zM178 78h2v2h-2zM2 80h4v2h-4zM10 80h4v2h-4zM16 80h4v2h-4zM28 80h2v2h-2zM32 80h4v2h-4zM52 80h2v2h-2zM70 80h2v2h-2zM76 80h2v2h-2zM86 80h2v2h-2zM96 80h2v2h-2zM110 80h2v2h-2zM122 80h2v2h-2zM138 80h2v2h-2zM152 80h2v2h-2zM158 80h2v2h-2zM174 80h2v2h-2zM186 80h4v2h-4zM0 82h2v2h-2zM4 82h2v2h-2zM42 82h4v2h-4zM50 82h2v2h-2zM58 82h4v2h-4zM70 82h2v2h-2zM78 82h2v2h-2zM88 82h2v2h-2zM94 82h4v2h-4zM116 82h2v2h-2zM122 82h2v2h-2zM134 82h6v2h-6zM146 82h2v2h-2zM150 82h2v2h-2zM164 82h2v2h-2zM182 82h4v2h-4zM190 82h2v2h-2zM4 84h2v2h-2zM10 84h6v2h-6zM18 84h2v2h-2zM44 84h2v2h-2zM50 84h2v2h-2zM60 84h4v2h-4zM78 84h2v2h-2zM84 84h2v2h-2zM98 84h2v2h-2zM104 84h4v2h-4zM112 84h2v2h-2zM130 84h2v2h-2zM142 84h4v2h-4zM170 84h2v2h-2zM180 84h2v2h-2zM190 84h2v2h-2zM2 86h2v2h-2zM6 86h2v2h-2zM12 86h4v2h-4zM24 86h2v2h-2zM30 86h2v2h-2zM34 86h2v2h-2zM52 86h2v2h-2zM56 86h2v2h-2zM64 86h2v2h-2zM70 86h2v2h-2zM86 86h2v2h-2zM92 86h2v2h-2zM96 86h2v2h-2zM104 86h2v2h-2zM126 86h2v2h-2zM140 86h2v2h-2zM158 86h2v2h-2zM162 86h2v2h-2zM6 88h2v2h-2zM14 88h2v2h-2zM34 88h2v2h-2zM38 88h2v2h-2zM42 88h2v2h-2zM64 88h2v2h-2zM84 88h4v2h-4zM92 88h2v2h-2zM96 88h2v2h-2zM110 88h6v2h-6zM146 88h2v2h-2zM152 88h2v2h-2zM158 88h2v2h-2zM170 88h8v2h-8zM186 88h2v2h-2zM190 88h2v2h-2zM10 90h2v2h-2zM18 90h2v2h-2zM22 90h4v2h-4zM34 90h2v2h-2zM38 90h2v2h-2zM50 90h4v2h-4zM60 90h2v2h-2zM64 90h6v2h-6zM78 90h2v2h-2zM98 90h2v2h-2zM106 90h2v2h-2zM132 90h2v2h-2zM144 90h2v2h-2zM158 90h2v2h-2zM182 90h2v2h-2zM4 92h2v2h-2zM10 92h2v2h-2zM14 92h2v2h-2zM22 92h2v2h-2zM30 92h2v2h-2zM36 92h2v2h-2zM52 92h2v2h-2zM60 92h2v2h-2zM64 92h2v2h-2zM68 92h2v2h-2zM72 92h2v2h-2zM76 92h2v2h-2zM80 92h2v2h-2zM104 92h2v2h-2zM112 92h2v2h-2zM116 92h2v2h-2zM124 92h2v2h-2zM132 92h2v2h-2zM136 92h2v2h-2zM142 92h6v2h-6zM150 92h2v2h-2zM156 92h2v2h-2zM160 92h4v2h-4zM178 92h4v2h-4zM188 92h2v2h-2zM2 94h2v2h-2zM10 94h2v2h-2zM16 94h6v2h-6zM32 94h2v2h-2zM42 94h4v2h-4zM52 94h2v2h-2zM58 94h2v2h-2zM64 94h4v2h-4zM80 94h2v2h-2zM84 94h4v2h-4zM94 94h4v2h-4zM134 94h2v2h-2zM138 94h2v2h-2zM144 94h2v2h-2zM154 94h2v2h-2zM164 94h2v2h-2zM168 94h2v2h-2zM176 94h2v2h-2zM180 94h2v2h-2zM184 94h2v2h-2zM6 96h2v2h-2zM10 96h2v2h-2zM28 96h2v2h-2zM46 96h2v2h-2zM52 96h2v2h-2zM56 96h2v2h-2zM64 96h2v2h-2zM82 96h4v2h-4zM88 96h2v2h-2zM130 96h8v2h-8zM140 96h2v2h-2zM148 96h2v2h-2zM152 96h2v2h-2zM162 96h2v2h-2zM168 96h2v2h-2zM172 96h2v2h-2zM184 96h8v2h-8zM10 98h2v2h-2zM16 98h2v2h-2zM34 98h2v2h-2zM38 98h2v2h-2zM56 98h4v2h-4zM72 98h6v2h-6zM88 98h2v2h-2zM94 98h2v2h-2zM102 98h2v2h-2zM116 98h4v2h-4zM126 98h2v2h-2zM134 98h2v2h-2zM2 100h2v2h-2zM36 100h2v2h-2zM46 100h2v2h-2zM54 100h2v2h-2zM64 100h2v2h-2zM68 100h4v2h-4zM108 100h4v2h-4zM116 100h2v2h-2zM122 100h2v2h-2zM128 100h2v2h-2zM146 100h4v2h-4zM154 100h2v2h-2zM162 100h2v2h-2zM170 100h2v2h-2zM2 102h2v2h-2zM10 102h2v2h-2zM36 102h2v2h-2zM42 102h2v2h-2zM48 102h2v2h-2zM64 102h2v2h-2zM72 102h2v2h-2zM82 102h2v2h-2zM90 102h4v2h-4zM96 102h2v2h-2zM112 102h2v2h-2zM134 102h2v2h-2zM140 102h2v2h-2zM146 102h4v2h-4zM156 102h2v2h-2zM170 102h2v2h-2zM4 104h4v2h-4zM10 104h2v2h-2zM14 104h2v2h-2zM18 104h6v2h-6zM42 104h2v2h-2zM46 104h2v2h-2zM56 104h2v2h-2zM62 104h2v2h-2zM74 104h4v2h-4zM80 104h2v2h-2zM126 104h2v2h-2zM130 104h2v2h-2zM138 104h2v2h-2zM142 104h2v2h-2zM150 104h2v2h-2zM158 104h2v2h-2zM172 104h2v2h-2zM178 104h2v2h-2zM184 104h2v2h-2zM188 104h4v2h-4zM2 106h2v2h-2zM28 106h2v2h-2zM32 106h2v2h-2zM44 106h2v2h-2zM54 106h2v2h-2zM60 106h2v2h-2zM66 106h4v2h-4zM88 106h4v2h-4zM96 106h4v2h-4zM102 106h4v2h-4zM118 106h4v2h-4zM124 106h2v2h-2zM134 106h2v2h-2zM138 106h2v2h-2zM150 106h2v2h-2zM154 106h2v2h-2zM166 106h2v2h-2zM170 106h6v2h-6zM180 106h2v2h-2zM186 106h2v2h-2zM190 106h2v2h-2zM20 108h2v2h-2zM26 108h4v2h-4zM36 108h2v2h-2zM52 108h2v2h-2zM70 108h2v2h-2zM90 108h2v2h-2zM102 108h2v2h-2zM108 108h2v2h-2zM112 108h2v2h-2zM124 108h2v2h-2zM138 108h2v2h-2zM142 108h4v2h-4zM148 108h4v2h-4zM154 108h2v2h-2zM162 108h2v2h-2zM168 108h6v2h-6zM184 108h2v2h-2zM4 110h4v2h-4zM32 110h4v2h-4zM38 110h2v2h-2zM42 110h2v2h-2zM56 110h2v2h-2zM62 110h2v2h-2zM74 110h4v2h-4zM86 110h2v2h-2zM92 110h2v2h-2zM102 110h2v2h-2zM128 110h2v2h-2zM132 110h2v2h-2zM136 110h2v2h-2zM140 110h2v2h-2zM190 110h2v2h-2zM4 112h4v2h-4zM10 112h2v2h-2zM32 112h2v2h-2zM46 112h2v2h-2zM62 112h2v2h-2zM68 112h4v2h-4zM76 112h2v2h-2zM106 112h2v2h-2zM118 112h2v2h-2zM124 112h2v2h-2zM132 112h2v2h-2zM184 112h2v2h-2zM16 114h2v2h-2zM20 114h2v2h-2zM26 114h2v2h-2zM34 114h2v2h-2zM50 114h2v2h-2zM58 114h2v2h-2zM68 114h2v2h-2zM82 114h2v2h-2zM88 114h2v2h-2zM98 114h2v2h-2zM104 114h2v2h-2zM128 114h4v2h-4zM134 114h2v2h-2zM146 114h2v2h-2zM170 114h4v2h-4zM186 114h2v2h-2zM10 116h2v2h-2zM26 116h2v2h-2zM32 116h2v2h-2zM36 116h4v2h-4zM60 116h2v2h-2zM74 116h2v2h-2zM80 116h4v2h-4zM102 116h2v2h-2zM124 116h2v2h-2zM128 116h2v2h-2zM142 116h2v2h-2zM146 116h2v2h-2zM156 116h2v2h-2zM162 116h4v2h-4zM172 116h2v2h-2zM176 116h2v2h-2zM184 116h2v2h-2zM2 118h2v2h-2zM20 118h2v2h-2zM24 118h2v2h-2zM36 118h4v2h-4zM46 118h2v2h-2zM52 118h2v2h-2zM58 118h6v2h-6zM70 118h2v2h-2zM76 118h2v2h-2zM98 118h2v2h-2zM102 118h4v2h-4zM110 118h2v2h-2zM124 118h4v2h-4zM134 118h6v2h-6zM144 118h2v2h-2zM158 118h2v2h-2zM164 118h2v2h-2zM172 118h2v2h-2zM178 118h2v2h-2zM8 120h4v2h-4zM16 120h2v2h-2zM20 120h4v2h-4zM28 120h2v2h-2zM32 120h2v2h-2zM42 120h2v2h-2zM48 120h2v2h-2zM54 120h2v2h-2zM68 120h2v2h-2zM84 120h2v2h-2zM88 120h10v2h-10zM116 120h2v2h-2zM128 120h8v2h-8zM144 120h2v2h-2zM156 120h4v2h-4zM166 120h2v2h-2zM172 120h2v2h-2zM182 120h2v2h-2zM188 120h4v2h-4zM4 122h2v2h-2zM24 122h2v2h-2zM52 122h2v2h-2zM60 122h4v2h-4zM74 122h4v2h-4zM84 122h2v2h-2zM96 122h2v2h-2zM136 122h2v2h-2zM144 122h4v2h-4zM158 122h2v2h-2zM168 122h2v2h-2zM172 122h2v2h-2zM178 122h2v2h-2zM0 124h6v2h-6zM10 124h2v2h-2zM14 124h2v2h-2zM18 124h2v2h-2zM22 124h2v2h-2zM28 124h2v2h-2zM34 124h4v2h-4zM44 124h4v2h-4zM52 124h2v2h-2zM58 124h2v2h-2zM68 124h2v2h-2zM78 124h2v2h-2zM88 124h4v2h-4zM98 124h2v2h-2zM104 124h2v2h-2zM110 124h2v2h-2zM116 124h2v2h-2zM120 124h4v2h-4zM140 124h4v2h-4zM174 124h2v2h-2zM2 126h2v2h-2zM8 126h2v2h-2zM62 126h2v2h-2zM80 126h2v2h-2zM86 126h2v2h-2zM90 126h4v2h-4zM100 126h2v2h-2zM106 126h2v2h-2zM114 126h2v2h-2zM118 126h2v2h-2zM136 126h2v2h-2zM144 126h2v2h-2zM174 126h4v2h-4zM182 126h2v2h-2zM2 128h2v2h-2zM6 128h4v2h-4zM24 128h2v2h-2zM32 128h2v2h-2zM44 128h2v2h-2zM54 128h2v2h-2zM60 128h2v2h-2zM98 128h2v2h-2zM116 128h2v2h-2zM122 128h2v2h-2zM140 128h2v2h-2zM152 128h2v2h-2zM170 128h2v2h-2zM184 128h2v2h-2zM6 130h2v2h-2zM26 130h2v2h-2zM38 130h2v2h-2zM42 130h2v2h-2zM54 130h4v2h-4zM62 130h4v2h-4zM84 130h6v2h-6zM96 130h2v2h-2zM106 130h2v2h-2zM110 130h2v2h-2zM132 130h6v2h-6zM140 130h2v2h-2zM144 130h2v2h-2zM150 130h4v2h-4zM158 130h2v2h-2zM162 130h4v2h-4zM172 130h4v2h-4zM10 132h2v2h-2zM26 132h2v2h-2zM34 132h2v2h-2zM40 132h2v2h-2zM46 132h2v2h-2zM66 132h2v2h-2zM74 132h2v2h-2zM82 132h2v2h-2zM92 132h2v2h-2zM98 132h4v2h-4zM104 132h2v2h-2zM110 132h4v2h-4zM120 132h2v2h-2zM126 132h2v2h-2zM134 132h2v2h-2zM142 132h2v2h-2zM150 132h2v2h-2zM158 132h2v2h-2zM164 132h2v2h-2zM6 134h2v2h-2zM20 134h2v2h-2zM36 134h2v2h-2zM46 134h2v2h-2zM54 134h2v2h-2zM64 134h2v2h-2zM78 134h4v2h-4zM86 134h2v2h-2zM102 134h2v2h-2zM112 134h2v2h-2zM124 134h2v2h-2zM128 134h2v2h-2zM150 134h2v2h-2zM160 134h2v2h-2zM164 134h2v2h-2zM170 134h4v2h-4zM20 136h2v2h-2zM50 136h2v2h-2zM58 136h2v2h-2zM72 136h2v2h-2zM84 136h2v2h-2zM88 136h2v2h-2zM92 136h2v2h-2zM100 136h2v2h-2zM104 136h2v2h-2zM116 136h2v2h-2zM122 136h2v2h-2zM128 136h6v2h-6zM150 136h2v2h-2zM160 136h2v2h-2zM166 136h2v2h-2zM170 136h2v2h-2zM178 136h2v2h-2zM0 138h2v2h-2zM6 138h2v2h-2zM14 138h2v2h-2zM30 138h2v2h-2zM36 138h4v2h-4zM54 138h2v2h-2zM64 138h2v2h-2zM72 138h4v2h-4zM78 138h8v2h-8zM88 138h4v2h-4zM94 138h2v2h-2zM98 138h2v2h-2zM112 138h2v2h-2zM120 138h2v2h-2zM126 138h2v2h-2zM132 138h4v2h-4zM148 138h2v2h-2zM154 138h2v2h-2zM164 138h2v2h-2zM168 138h2v2h-2zM180 138h4v2h-4zM4 140h2v2h-2zM16 140h4v2h-4zM22 140h2v2h-2zM26 140h2v2h-2zM34 140h2v2h-2zM40 140h2v2h-2zM44 140h2v2h-2zM50 140h4v2h-4zM56 140h2v2h-2zM90 140h2v2h-2zM96 140h2v2h-2zM100 140h2v2h-2zM116 140h2v2h-2zM120 140h2v2h-2zM126 140h2v2h-2zM136 140h2v2h-2zM146 140h6v2h-6zM154 140h2v2h-2zM164 140h2v2h-2zM178 140h4v2h-4zM190 140h2v2h-2zM8 142h2v2h-2zM26 142h2v2h-2zM36 142h2v2h-2zM40 142h8v2h-8zM50 142h2v2h-2zM54 142h2v2h-2zM58 142h2v2h-2zM62 142h2v2h-2zM78 142h2v2h-2zM84 142h2v2h-2zM88 142h2v2h-2zM94 142h2v2h-2zM98 142h2v2h-2zM106 142h2v2h-2zM112 142h2v2h-2zM116 142h4v2h-4zM138 142h2v2h-2zM144 142h2v2h-2zM150 142h2v2h-2zM154 142h2v2h-2zM172 142h2v2h-2zM178 142h2v2h-2zM184 142h4v2h-4zM20 144h4v2h-4zM26 144h2v2h-2zM44 144h2v2h-2zM48 144h2v2h-2zM54 144h2v2h-2zM62 144h2v2h-2zM70 144h2v2h-2zM84 144h4v2h-4zM106 144h2v2h-2zM110 144h2v2h-2zM114 144h2v2h-2zM138 144h2v2h-2zM142 144h2v2h-2zM148 144h2v2h-2zM156 144h4v2h-4zM164 144h2v2h-2zM172 144h2v2h-2zM176 144h4v2h-4zM184 144h2v2h-2zM188 144h2v2h-2zM22 146h2v2h-2zM26 146h2v2h-2zM68 146h2v2h-2zM78 146h2v2h-2zM84 146h2v2h-2zM92 146h2v2h-2zM96 146h2v2h-2zM110 146h2v2h-2zM116 146h2v2h-2zM120 146h6v2h-6zM154 146h4v2h-4zM170 146h4v2h-4zM180 146h2v2h-2zM186 146h2v2h-2zM4 148h2v2h-2zM34 148h4v2h-4zM42 148h4v2h-4zM60 148h4v2h-4zM70 148h2v2h-2zM88 148h2v2h-2zM122 148h4v2h-4zM128 148h2v2h-2zM138 148h4v2h-4zM146 148h2v2h-2zM160 148h2v2h-2zM164 148h2v2h-2zM172 148h4v2h-4zM180 148h2v2h-2zM0 150h4v2h-4zM12 150h2v2h-2zM24 150h2v2h-2zM48 150h2v2h-2zM52 150h2v2h-2zM64 150h2v2h-2zM82 150h2v2h-2zM86 150h4v2h-4zM102 150h2v2h-2zM114 150h2v2h-2zM118 150h2v2h-2zM128 150h2v2h-2zM136 150h2v2h-2zM146 150h2v2h-2zM152 150h4v2h-4zM160 150h2v2h-2zM172 150h4v2h-4zM182 150h2v2h-2zM12 152h2v2h-2zM16 152h2v2h-2zM22 152h2v2h-2zM36 152h2v2h-2zM44 152h2v2h-2zM48 152h4v2h-4zM56 152h4v2h-4zM62 152h2v2h-2zM108 152h2v2h-2zM138 152h2v2h-2zM152 152h2v2h-2zM166 152h2v2h-2zM180 152h2v2h-2zM190 152h2v2h-2zM16 154h2v2h-2zM34 154h2v2h-2zM40 154h2v2h-2zM44 154h2v2h-2zM56 154h2v2h-2zM60 154h4v2h-4zM68 154h2v2h-2zM96 154h2v2h-2zM106 154h2v2h-2zM110 154h2v2h-2zM116 154h2v2h-2zM122 154h2v2h-2zM128 154h2v2h-2zM156 154h4v2h-4zM168 154h2v2h-2zM176 154h2v2h-2zM180 154h2v2h-2zM184 154h2v2h-2zM2 156h2v2h-2zM8 156h2v2h-2zM30 156h2v2h-2zM36 156h2v2h-2zM42 156h2v2h-2zM46 156h2v2h-2zM64 156h2v2h-2zM76 156h2v2h-2zM80 156h4v2h-4zM92 156h2v2h-2zM98 156h2v2h-2zM110 156h2v2h-2zM118 156h2v2h-2zM134 156h2v2h-2zM138 156h2v2h-2zM156 156h2v2h-2zM178 156h2v2h-2zM6 158h2v2h-2zM14 158h2v2h-2zM26 158h8v2h-8zM38 158h2v2h-2zM44 158h2v2h-2zM50 158h4v2h-4zM84 158h2v2h-2zM90 158h2v2h-2zM94 158h2v2h-2zM100 158h2v2h-2zM110 158h2v2h-2zM118 158h2v2h-2zM124 158h4v2h-4zM142 158h2v2h-2zM146 158h2v2h-2zM156 158h2v2h-2zM162 158h4v2h-4zM168 158h2v2h-2zM174 158h2v2h-2zM182 158h4v2h-4zM188 158h2v2h-2zM10 160h2v2h-2zM20 160h6v2h-6zM44 160h2v2h-2zM56 160h2v2h-2zM62 160h2v2h-2zM70 160h2v2h-2zM76 160h4v2h-4zM86 160h2v2h-2zM140 160h4v2h-4zM146 160h2v2h-2zM152 160h2v2h-2zM166 160h4v2h-4zM174 160h2v2h-2zM180 160h2v2h-2zM18 162h4v2h-4zM26 162h2v2h-2zM44 162h2v2h-2zM64 162h2v2h-2zM70 162h2v2h-2zM88 162h2v2h-2zM92 162h2v2h-2zM98 162h2v2h-2zM102 162h4v2h-4zM108 162h2v2h-2zM120 162h2v2h-2zM142 162h2v2h-2zM148 162h2v2h-2zM156 162h2v2h-2zM166 162h2v2h-2zM172 162h2v2h-2zM178 162h2v2h-2zM4 164h2v2h-2zM12 164h4v2h-4zM30 164h2v2h-2zM34 164h2v2h-2zM38 164h2v2h-2zM44 164h2v2h-2zM50 164h4v2h-4zM76 164h2v2h-2zM84 164h2v2h-2zM90 164h2v2h-2zM96 164h2v2h-2zM112 164h6v2h-6zM120 164h2v2h-2zM126 164h2v2h-2zM130 164h6v2h-6zM142 164h2v2h-2zM156 164h2v2h-2zM164 164h4v2h-4zM178 164h2v2h-2zM184 164h4v2h-4zM190 164h2v2h-2zM4 166h2v2h-2zM16 166h4v2h-4zM26 166h2v2h-2zM30 166h2v2h-2zM38 166h2v2h-2zM54 166h2v2h-2zM58 166h2v2h-2zM64 166h2v2h-2zM72 166h2v2h-2zM76 166h4v2h-4zM90 166h2v2h-2zM94 166h2v2h-2zM106 166h6v2h-6zM136 166h2v2h-2zM140 166h2v2h-2zM152 166h2v2h-2zM156 166h4v2h-4zM172 166h2v2h-2zM182 166h4v2h-4zM6 168h2v2h-2zM24 168h2v2h-2zM32 168h2v2h-2zM50 168h2v2h-2zM66 168h2v2h-2zM86 168h2v2h-2zM92 168h2v2h-2zM96 168h2v2h-2zM116 168h2v2h-2zM130 168h4v2h-4zM146 168h2v2h-2zM162 168h2v2h-2zM166 168h4v2h-4zM172 168h6v2h-6zM188 168h2v2h-2zM2 170h2v2h-2zM6 170h2v2h-2zM16 170h2v2h-2zM24 170h2v2h-2zM30 170h2v2h-2zM42 170h4v2h-4zM74 170h2v2h-2zM82 170h2v2h-2zM86 170h2v2h-2zM90 170h4v2h-4zM96 170h2v2h-2zM112 170h2v2h-2zM134 170h6v2h-6zM144 170h2v2h-2zM154 170h2v2h-2zM164 170h2v2h-2zM170 170h4v2h-4zM176 170h2v2h-2zM188 170h2v2h-2zM16 172h2v2h-2zM20 172h2v2h-2zM38 172h2v2h-2zM46 172h2v2h-2zM50 172h2v2h-2zM54 172h2v2h-2zM70 172h2v2h-2zM78 172h2v2h-2zM82 172h2v2h-2zM90 172h4v2h-4zM114 172h4v2h-4zM122 172h2v2h-2zM138 172h2v2h-2zM170 172h8v2h-8zM182 172h2v2h-2zM188 172h2v2h-2zM0 174h4v2h-4zM8 174h2v2h-2zM22 174h2v2h-2zM28 174h2v2h-2zM38 174h2v2h-2zM42 174h2v2h-2zM50 174h2v2h-2zM56 174h6v2h-6zM74 174h2v2h-2zM92 174h2v2h-2zM100 174h4v2h-4zM112 174h2v2h-2zM120 174h2v2h-2zM128 174h4v2h-4zM144 174h2v2h-2zM158 174h2v2h-2zM164 174h2v2h-2zM178 174h2v2h-2zM186 174h4v2h-4zM8 176h2v2h-2zM14 176h2v2h-2zM24 176h2v2h-2zM38 176h4v2h-4zM50 176h2v2h-2zM54 176h2v2h-2zM70 176h6v2h-6zM86 176h2v2h-2zM92 176h4v2h-4zM98 176h4v2h-4zM104 176h2v2h-2zM108 176h2v2h-2zM112 176h2v2h-2zM122 176h2v2h-2zM140 176h2v2h-2zM156 176h2v2h-2zM160 176h4v2h-4zM172 176h2v2h-2zM180 176h8v2h-8zM190 176h2v2h-2zM0 178h2v2h-2zM4 178h2v2h-2zM8 178h2v2h-2zM14 178h2v2h-2zM18 178h2v2h-2zM22 178h2v2h-2zM26 178h2v2h-2zM34 178h2v2h-2zM40 178h4v2h-4zM56 178h2v2h-2zM64 178h2v2h-2zM82 178h4v2h-4zM118 178h2v2h-2zM122 178h2v2h-2zM126 178h4v2h-4zM134 178h2v2h-2zM144 178h2v2h-2zM148 178h2v2h-2zM154 178h2v2h-2zM164 178h2v2h-2zM178 178h4v2h-4zM190 178h2v2h-2zM12 180h6v2h-6zM24 180h2v2h-2zM54 180h2v2h-2zM60 180h2v2h-2zM66 180h2v2h-2zM84 180h2v2h-2zM90 180h2v2h-2zM100 180h4v2h-4zM106 180h2v2h-2zM118 180h2v2h-2zM136 180h2v2h-2zM148 180h2v2h-2zM182 180h2v2h-2zM188 180h2v2h-2zM0 182h6v2h-6zM26 182h4v2h-4zM34 182h8v2h-8zM46 182h2v2h-2zM54 182h4v2h-4zM76 182h2v2h-2zM92 182h4v2h-4zM108 182h4v2h-4zM126 182h2v2h-2zM132 182h2v2h-2zM150 182h2v2h-2zM164 182h2v2h-2zM170 182h2v2h-2zM186 182h2v2h-2zM0 184h4v2h-4zM16 184h2v2h-2zM24 184h4v2h-4zM44 184h2v2h-2zM50 184h4v2h-4zM62 184h4v2h-4zM76 184h2v2h-2zM84 184h6v2h-6zM92 184h2v2h-2zM96 184h2v2h-2zM102 184h4v2h-4zM110 184h2v2h-2zM122 184h2v2h-2zM128 184h4v2h-4zM166 184h2v2h-2zM4 186h2v2h-2zM10 186h6v2h-6zM26 186h4v2h-4zM32 186h2v2h-2zM56 186h2v2h-2zM62 186h4v2h-4zM68 186h2v2h-2zM72 186h2v2h-2zM88 186h2v2h-2zM98 186h4v2h-4zM116 186h4v2h-4zM132 186h2v2h-2zM152 186h2v2h-2zM164 186h2v2h-2zM168 186h2v2h-2zM186 186h2v2h-2zM4 188h2v2h-2zM22 188h2v2h-2zM26 188h2v2h-2zM32 188h2v2h-2zM36 188h2v2h-2zM56 188h2v2h-2zM64 188h4v2h-4zM74 188h6v2h-6zM84 188h2v2h-2zM108 188h2v2h-2zM120 188h2v2h-2zM128 188h2v2h-2zM138 188h2v2h-2zM146 188h2v2h-2zM164 188h4v2h-4zM170 188h2v2h-2zM178 188h2v2h-2zM182 188h2v2h-2zM186 188h4v2h-4zM2 190h2v2h-2zM10 190h4v2h-4zM18 190h2v2h-2zM24 190h2v2h-2zM28 190h2v2h-2zM42 190h8v2h-8zM56 190h2v2h-2zM62 190h4v2h-4zM74 190h2v2h-2zM80 190h2v2h-2zM84 190h2v2h-2zM88 190h4v2h-4zM96 190h2v2h-2zM100 190h2v2h-2zM104 190h2v2h-2zM120 190h2v2h-2zM130 190h2v2h-2zM134 190h2v2h-2zM142 190h2v2h-2zM172 190h2v2h-2zM176 190h2v2h-2zM180 190h2v2h-2zM188 190h2v2h-2z"/>
<path fill="rgb(179,179,179)" d="M2 0h2v2h-2zM38 0h4v2h-4zM56 0h2v2h-2zM84 0h2v2h-2zM94 0h2v2h-2zM152 0h2v2h-2zM174 0h2v2h-2zM28 2h4v2h-4zM40 2h2v2h-2zM72 2h2v2h-2zM96 2h2v2h-2zM110 2h2v2h-2zM154 2h2v2h-2zM164 2h2v2h-2zM172 2h2v2h-2zM28 4h2v2h-2zM38 4h2v2h-2zM80 4h2v2h-2zM84 4h2v2h-2zM94 4h2v2h-2zM162 4h4v2h-4zM184 4h2v2h-2zM42 6h2v2h-2zM74 6h2v2h-2zM102 6h2v2h-2zM110 6h2v2h-2zM116 6h2v2h-2zM132 6h2v2h-2zM136 6h2v2h-2zM8 8h2v2h-2zM32 8h2v2h-2zM96 8h2v2h-2zM108 8h2v2h-2zM116 8h2v2h-2zM124 8h2v2h-2zM134 8h2v2h-2zM152 8h2v2h-2zM172 8h2v2h-2zM12 10h2v2h-2zM18 10h2v2h-2zM32 10h4v2h-4zM150 10h2v2h-2zM182 10h2v2h-2zM6 12h2v2h-2zM46 12h2v2h-2zM52 12h2v2h-2zM62 12h4v2h-4zM72 12h2v2h-2zM78 12h2v2h-2zM84 12h2v2h-2zM104 12h2v2h-2zM110 12h2v2h-2zM124 12h2v2h-2zM178 12h2v2h-2zM2 14h4v2h-4zM12 14h2v2h-2zM66 14h4v2h-4zM82 14h2v2h-2zM104 14h2v2h-2zM142 14h2v2h-2zM168 14h2v2h-2zM180 14h2v2h-2zM2 16h2v2h-2zM40 16h2v2h-2zM48 16h2v2h-2zM58 16h4v2h-4zM66 16h2v2h-2zM106 16h2v2h-2zM134 16h2v2h-2zM140 16h2v2h-2zM12 18h2v2h-2zM86 18h2v2h-2zM90 18h2v2h-2zM134 18h2v2h-2zM140 18h2v2h-2zM158 18h4v2h-4zM172 18h2v2h-2zM180 18h2v2h-2zM184 18h2v2h-2zM2 20h2v2h-2zM22 20h2v2h-2zM44 20h2v2h-2zM66 20h4v2h-4zM102 20h2v2h-2zM114 20h2v2h-2zM126 20h2v2h-2zM144 20h2v2h-2zM190 20h2v2h-2zM0 22h2v2h-2zM10 22h2v2h-2zM46 22h2v2h-2zM98 22h2v2h-2zM102 22h4v2h-4zM122 22h2v2h-2zM138 22h2v2h-2zM154 22h2v2h-2zM180 22h2v2h-2zM30 24h2v2h-2zM62 24h2v2h-2zM78 24h2v2h-2zM122 24h2v2h-2zM138 24h2v2h-2zM174 24h2v2h-2zM32 26h2v2h-2zM46 26h2v2h-2zM60 26h2v2h-2zM104 26h2v2h-2zM118 26h2v2h-2zM126 26h2v2h-2zM140 26h2v2h-2zM168 26h2v2h-2zM182 26h2v2h-2zM18 28h2v2h-2zM36 28h2v2h-2zM66 28h2v2h-2zM78 28h2v2h-2zM88 28h2v2h-2zM166 28h2v2h-2zM178 28h2v2h-2zM2 30h2v2h-2zM6 30h2v2h-2zM22 30h2v2h-2zM28 30h2v2h-2zM46 30h2v2h-2zM64 30h2v2h-2zM70 30h2v2h-2zM74 30h2v2h-2zM86 30h2v2h-2zM92 30h2v2h-2zM130 30h2v2h-2zM150 30h2v2h-2zM162 30h2v2h-2zM18 32h2v2h-2zM28 32h2v2h-2zM46 32h2v2h-2zM54 32h2v2h-2zM58 32h2v2h-2zM62 32h4v2h-4zM80 32h4v2h-4zM94 32h2v2h-2zM164 32h4v2h-4zM6 34h2v2h-2zM36 34h2v2h-2zM58 34h4v2h-4zM70 34h2v2h-2zM94 34h2v2h-2zM108 34h2v2h-2zM116 34h2v2h-2zM142 34h2v2h-2zM164 34h2v2h-2zM188 34h2v2h-2zM12 36h2v2h-2zM22 36h2v2h-2zM178 36h2v2h-2zM40 38h2v2h-2zM54 38h4v2h-4zM76 38h2v2h-2zM110 38h2v2h-2zM142 38h2v2h-2zM148 38h2v2h-2zM162 38h2v2h-2zM182 38h2v2h-2zM48 40h2v2h-2zM60 40h4v2h-4zM138 40h2v2h-2zM2 42h2v2h-2zM16 42h2v2h-2zM22 42h2v2h-2zM76 42h2v2h-2zM90 42h6v2h-6zM158 42h2v2h-2zM170 42h2v2h-2zM182 42h2v2h-2zM0 44h2v2h-2zM22 44h2v2h-2zM26 44h2v2h-2zM40 44h2v2h-2zM60 44h2v2h-2zM70 44h2v2h-2zM80 44h2v2h-2zM84 44h2v2h-2zM114 44h2v2h-2zM140 44h2v2h-2zM178 44h4v2h-4zM78 46h2v2h-2zM100 46h2v2h-2zM146 46h4v2h-4zM172 46h4v2h-4zM10 48h4v2h-4zM18 48h2v2h-2zM52 48h2v2h-2zM64 48h2v2h-2zM70 48h2v2h-2zM98 48h2v2h-2zM118 48h2v2h-2zM122 48h2v2h-2zM170 48h2v2h-2zM6 50h2v2h-2zM62 50h2v2h-2zM68 50h4v2h-4zM74 50h2v2h-2zM96 50h4v2h-4zM104 50h2v2h-2zM120 50h2v2h-2zM148 50h2v2h-2zM158 50h2v2h-2zM172 50h2v2h-2zM2 52h2v2h-2zM16 52h2v2h-2zM36 52h2v2h-2zM78 52h2v2h-2zM100 52h2v2h-2zM140 52h2v2h-2zM20 54h4v2h-4zM64 54h4v2h-4zM84 54h4v2h-4zM132 54h2v2h-2zM142 54h2v2h-2zM16 56h2v2h-2zM68 56h2v2h-2zM74 56h2v2h-2zM88 56h2v2h-2zM98 56h2v2h-2zM104 56h2v2h-2zM164 56h2v2h-2zM182 56h2v2h-2zM8 58h2v2h-2zM22 58h2v2h-2zM52 58h2v2h-2zM134 58h2v2h-2zM150 58h2v2h-2zM172 58h2v2h-2zM44 60h2v2h-2zM52 60h2v2h-2zM62 60h2v2h-2zM68 60h2v2h-2zM72 60h2v2h-2zM140 60h4v2h-4zM152 60h2v2h-2zM174 60h2v2h-2zM178 60h4v2h-4zM186 60h2v2h-2zM18 62h4v2h-4zM28 62h2v2h-2zM58 62h2v2h-2zM64 62h2v2h-2zM84 62h2v2h-2zM100 62h2v2h-2zM104 62h2v2h-2zM116 62h2v2h-2zM122 62h2v2h-2zM138 62h2v2h-2zM8 64h2v2h-2zM44 64h2v2h-2zM70 64h6v2h-6zM78 64h2v2h-2zM92 64h2v2h-2zM102 64h2v2h-2zM132 64h2v2h-2zM24 66h2v2h-2zM62 66h2v2h-2zM90 66h2v2h-2zM102 66h2v2h-2zM106 66h4v2h-4zM120 66h4v2h-4zM142 66h2v2h-2zM184 66h2v2h-2zM0 68h2v2h-2zM22 68h2v2h-2zM26 68h2v2h-2zM30 68h2v2h-2zM68 68h2v2h-2zM72 68h2v2h-2zM78 68h2v2h-2zM138 68h2v2h-2zM162 68h2v2h-2zM180 68h2v2h-2zM56 70h2v2h-2zM88 70h2v2h-2zM104 70h2v2h-2zM110 70h2v2h-2zM128 70h2v2h-2zM150 70h2v2h-2zM8 72h2v2h-2zM34 72h2v2h-2zM42 72h2v2h-2zM46 72h2v2h-2zM58 72h2v2h-2zM126 72h2v2h-2zM138 72h4v2h-4zM182 72h2v2h-2zM24 74h2v2h-2zM32 74h6v2h-6zM78 74h2v2h-2zM102 74h4v2h-4zM128 74h2v2h-2zM152 74h2v2h-2zM178 74h2v2h-2zM10 76h4v2h-4zM32 76h2v2h-2zM48 76h2v2h-2zM74 76h2v2h-2zM84 76h2v2h-2zM98 76h4v2h-4zM132 76h2v2h-2zM166 76h4v2h-4zM22 78h2v2h-2zM26 78h2v2h-2zM56 78h2v2h-2zM136 78h2v2h-2zM140 78h2v2h-2zM148 78h2v2h-2zM160 78h2v2h-2zM26 80h2v2h-2zM54 80h4v2h-4zM88 80h2v2h-2zM106 80h2v2h-2zM120 80h2v2h-2zM128 80h2v2h-2zM134 80h2v2h-2zM150 80h2v2h-2zM22 82h2v2h-2zM40 82h2v2h-2zM58 84h2v2h-2zM118 84h2v2h-2zM134 84h2v2h-2zM164 84h2v2h-2zM176 84h2v2h-2zM184 84h2v2h-2zM32 86h2v2h-2zM110 86h6v2h-6zM128 86h2v2h-2zM132 86h2v2h-2zM154 86h2v2h-2zM164 86h2v2h-2zM2 88h2v2h-2zM8 88h2v2h-2zM18 88h2v2h-2zM46 88h2v2h-2zM122 88h2v2h-2zM156 88h2v2h-2zM164 88h2v2h-2zM2 90h2v2h-2zM20 90h2v2h-2zM28 90h2v2h-2zM156 90h2v2h-2zM160 90h2v2h-2zM170 90h2v2h-2zM178 90h2v2h-2zM106 92h2v2h-2zM154 92h2v2h-2zM190 92h2v2h-2zM62 94h2v2h-2zM98 94h2v2h-2zM118 94h2v2h-2zM136 94h2v2h-2zM150 94h2v2h-2zM170 94h4v2h-4zM182 94h2v2h-2zM20 96h2v2h-2zM32 96h4v2h-4zM38 96h2v2h-2zM80 96h2v2h-2zM92 96h2v2h-2zM182 96h2v2h-2zM54 98h2v2h-2zM78 98h2v2h-2zM108 98h2v2h-2zM122 98h2v2h-2zM160 98h2v2h-2zM170 98h2v2h-2zM184 98h6v2h-6zM8 100h2v2h-2zM28 100h2v2h-2zM34 100h2v2h-2zM42 100h2v2h-2zM48 100h2v2h-2zM52 100h2v2h-2zM60 100h2v2h-2zM72 100h2v2h-2zM88 100h4v2h-4zM176 100h2v2h-2zM14 102h2v2h-2zM60 102h2v2h-2zM106 102h2v2h-2zM124 102h2v2h-2zM128 102h2v2h-2zM164 102h2v2h-2zM12 104h2v2h-2zM32 104h2v2h-2zM36 104h2v2h-2zM152 104h4v2h-4zM166 104h2v2h-2zM182 104h2v2h-2zM72 106h2v2h-2zM84 106h2v2h-2zM106 106h2v2h-2zM112 106h2v2h-2zM122 106h2v2h-2zM152 106h2v2h-2zM10 108h2v2h-2zM24 108h2v2h-2zM32 108h2v2h-2zM42 108h2v2h-2zM50 108h2v2h-2zM54 108h2v2h-2zM106 108h2v2h-2zM114 108h2v2h-2zM118 108h2v2h-2zM122 108h2v2h-2zM158 108h2v2h-2zM166 108h2v2h-2zM0 110h4v2h-4zM16 110h2v2h-2zM20 110h2v2h-2zM94 110h2v2h-2zM124 110h2v2h-2zM152 110h2v2h-2zM160 110h2v2h-2zM180 110h2v2h-2zM0 112h2v2h-2zM8 112h2v2h-2zM16 112h2v2h-2zM54 112h4v2h-4zM84 112h2v2h-2zM122 112h2v2h-2zM134 112h2v2h-2zM188 112h2v2h-2zM10 114h2v2h-2zM40 114h4v2h-4zM46 114h2v2h-2zM86 114h2v2h-2zM136 114h2v2h-2zM76 116h4v2h-4zM108 116h2v2h-2zM136 116h2v2h-2zM150 116h2v2h-2zM158 116h2v2h-2zM40 118h2v2h-2zM48 118h2v2h-2zM106 118h4v2h-4zM112 118h2v2h-2zM128 118h2v2h-2zM140 118h2v2h-2zM146 118h4v2h-4zM154 118h2v2h-2zM162 118h2v2h-2zM170 118h2v2h-2zM0 120h2v2h-2zM6 120h2v2h-2zM52 120h2v2h-2zM56 120h2v2h-2zM76 120h2v2h-2zM104 120h2v2h-2zM120 120h2v2h-2zM160 120h2v2h-2zM16 122h2v2h-2zM30 122h2v2h-2zM48 122h2v2h-2zM98 122h2v2h-2zM108 122h2v2h-2zM124 122h2v2h-2zM156 122h2v2h-2zM160 122h2v2h-2zM174 122h2v2h-2zM8 124h2v2h-2zM24 124h2v2h-2zM60 124h2v2h-2zM128 124h2v2h-2zM134 124h2v2h-2zM144 124h2v2h-2zM180 124h2v2h-2zM188 124h2v2h-2zM14 126h2v2h-2zM18 126h2v2h-2zM46 126h2v2h-2zM126 126h4v2h-4zM132 126h2v2h-2zM150 126h2v2h-2zM164 126h2v2h-2zM170 126h2v2h-2zM180 126h2v2h-2zM190 126h2v2h-2zM10 128h4v2h-4zM36 128h4v2h-4zM42 128h2v2h-2zM50 128h2v2h-2zM64 128h2v2h-2zM90 128h2v2h-2zM96 128h2v2h-2zM108 128h2v2h-2zM128 128h2v2h-2zM150 128h2v2h-2zM34 130h2v2h-2zM92 130h2v2h-2zM142 130h2v2h-2zM146 130h2v2h-2zM22 132h2v2h-2zM52 132h2v2h-2zM102 132h2v2h-2zM130 132h4v2h-4zM174 132h2v2h-2zM184 132h2v2h-2zM2 134h2v2h-2zM30 134h2v2h-2zM34 134h2v2h-2zM74 134h4v2h-4zM88 134h2v2h-2zM94 134h4v2h-4zM130 134h2v2h-2zM138 134h2v2h-2zM12 136h2v2h-2zM28 136h2v2h-2zM112 136h4v2h-4zM144 136h2v2h-2zM156 136h4v2h-4zM162 136h2v2h-2zM50 138h4v2h-4zM58 138h2v2h-2zM68 138h2v2h-2zM92 138h2v2h-2zM166 138h2v2h-2zM170 138h2v2h-2zM186 138h2v2h-2zM14 140h2v2h-2zM20 140h2v2h-2zM24 140h2v2h-2zM68 140h2v2h-2zM102 140h2v2h-2zM114 140h2v2h-2zM118 140h2v2h-2zM134 140h2v2h-2zM170 140h2v2h-2zM52 142h2v2h-2zM56 142h2v2h-2zM68 142h2v2h-2zM72 142h2v2h-2zM86 142h2v2h-2zM162 142h2v2h-2zM176 142h2v2h-2zM0 144h2v2h-2zM8 144h2v2h-2zM38 144h2v2h-2zM58 144h2v2h-2zM104 144h2v2h-2zM120 144h2v2h-2zM166 144h2v2h-2zM180 144h2v2h-2zM186 144h2v2h-2zM50 146h2v2h-2zM60 146h2v2h-2zM80 146h2v2h-2zM88 146h2v2h-2zM94 146h2v2h-2zM108 146h2v2h-2zM118 146h2v2h-2zM132 146h2v2h-2zM176 146h2v2h-2zM12 148h2v2h-2zM20 148h2v2h-2zM56 148h2v2h-2zM66 148h2v2h-2zM74 148h2v2h-2zM84 148h2v2h-2zM162 148h2v2h-2zM176 148h2v2h-2zM22 150h2v2h-2zM36 150h2v2h-2zM72 150h2v2h-2zM80 150h2v2h-2zM120 150h2v2h-2zM124 150h2v2h-2zM140 150h2v2h-2zM168 150h2v2h-2zM2 152h2v2h-2zM24 152h2v2h-2zM46 152h2v2h-2zM52 152h2v2h-2zM74 152h4v2h-4zM82 152h2v2h-2zM90 152h2v2h-2zM102 152h2v2h-2zM116 152h4v2h-4zM124 152h2v2h-2zM148 152h2v2h-2zM156 152h2v2h-2zM160 152h2v2h-2zM164 152h2v2h-2zM2 154h2v2h-2zM64 154h2v2h-2zM140 154h2v2h-2zM190 154h2v2h-2zM28 156h2v2h-2zM32 156h4v2h-4zM48 156h2v2h-2zM108 156h2v2h-2zM166 156h2v2h-2zM182 156h4v2h-4zM188 156h2v2h-2zM10 158h4v2h-4zM18 158h2v2h-2zM78 158h2v2h-2zM86 158h2v2h-2zM108 158h2v2h-2zM28 160h2v2h-2zM108 160h2v2h-2zM148 160h2v2h-2zM160 160h2v2h-2zM178 160h2v2h-2zM24 162h2v2h-2zM28 162h2v2h-2zM42 162h2v2h-2zM46 162h4v2h-4zM52 162h2v2h-2zM66 162h2v2h-2zM90 162h2v2h-2zM20 164h2v2h-2zM28 164h2v2h-2zM42 164h2v2h-2zM70 164h2v2h-2zM94 164h2v2h-2zM170 164h2v2h-2zM188 164h2v2h-2zM6 166h2v2h-2zM44 166h2v2h-2zM60 166h2v2h-2zM70 166h2v2h-2zM84 166h2v2h-2zM144 166h4v2h-4zM162 166h2v2h-2zM168 166h2v2h-2zM30 168h2v2h-2zM48 168h2v2h-2zM84 168h2v2h-2zM104 168h2v2h-2zM156 168h2v2h-2zM164 168h2v2h-2zM12 170h2v2h-2zM26 170h4v2h-4zM38 170h2v2h-2zM62 170h2v2h-2zM88 170h2v2h-2zM100 170h2v2h-2zM106 170h2v2h-2zM110 170h2v2h-2zM146 170h2v2h-2zM158 170h2v2h-2zM166 170h2v2h-2zM2 172h2v2h-2zM12 172h2v2h-2zM18 172h2v2h-2zM28 172h2v2h-2zM42 172h2v2h-2zM130 172h2v2h-2zM134 172h2v2h-2zM140 172h2v2h-2zM178 172h2v2h-2zM186 172h2v2h-2zM10 174h2v2h-2zM14 174h2v2h-2zM20 174h2v2h-2zM26 174h2v2h-2zM46 174h2v2h-2zM62 174h2v2h-2zM110 174h2v2h-2zM126 174h2v2h-2zM132 174h2v2h-2zM20 176h2v2h-2zM34 176h2v2h-2zM46 176h2v2h-2zM130 176h2v2h-2zM154 176h2v2h-2zM168 176h2v2h-2zM62 178h2v2h-2zM66 178h2v2h-2zM92 178h4v2h-4zM100 178h2v2h-2zM106 178h2v2h-2zM112 178h2v2h-2zM120 178h2v2h-2zM150 178h2v2h-2zM156 178h2v2h-2zM174 178h2v2h-2zM4 180h2v2h-2zM20 180h2v2h-2zM58 180h2v2h-2zM64 180h2v2h-2zM68 180h2v2h-2zM116 180h2v2h-2zM154 180h2v2h-2zM168 180h2v2h-2zM172 180h2v2h-2zM6 182h2v2h-2zM10 182h2v2h-2zM18 182h2v2h-2zM22 182h2v2h-2zM44 182h2v2h-2zM68 182h2v2h-2zM84 182h2v2h-2zM120 182h2v2h-2zM172 182h2v2h-2zM178 182h2v2h-2zM32 184h2v2h-2zM100 184h2v2h-2zM120 184h2v2h-2zM126 184h2v2h-2zM150 184h2v2h-2zM156 184h2v2h-2zM176 184h2v2h-2zM16 186h2v2h-2zM40 186h2v2h-2zM54 186h2v2h-2zM106 186h2v2h-2zM136 186h2v2h-2zM146 186h2v2h-2zM174 186h2v2h-2zM50 188h2v2h-2zM62 188h2v2h-2zM90 188h2v2h-2zM106 188h2v2h-2zM112 188h2v2h-2zM154 188h2v2h-2zM68 190h2v2h-2zM78 190h2v2h-2zM124 190h2v2h-2z"/>
<path fill="rgb(204,204,204)" d="M20 0h2v2h-2zM58 0h2v2h-2zM182 2h2v2h-2zM102 4h2v2h-2zM132 4h2v2h-2zM166 6h2v2h-2zM24 8h2v2h-2zM74 8h2v2h-2zM170 8h2v2h-2zM176 8h2v2h-2zM42 10h2v2h-2zM156 10h2v2h-2zM76 14h2v2h-2zM112 16h2v2h-2zM188 16h4v2h-4zM22 18h2v2h-2zM60 22h2v2h-2zM80 22h2v2h-2zM108 22h2v2h-2zM162 24h2v2h-2zM28 26h2v2h-2zM38 26h2v2h-2zM56 26h2v2h-2zM142 26h2v2h-2zM10 28h2v2h-2zM84 28h2v2h-2zM146 30h2v2h-2zM152 32h2v2h-2zM156 34h2v2h-2zM18 36h2v2h-2zM114 40h2v2h-2zM158 40h2v2h-2zM74 44h2v2h-2zM82 46h2v2h-2zM86 46h2v2h-2zM156 46h2v2h-2zM184 46h2v2h-2zM20 48h2v2h-2zM76 48h2v2h-2zM94 48h2v2h-2zM90 50h2v2h-2zM166 50h2v2h-2zM50 52h2v2h-2zM62 52h2v2h-2zM92 52h2v2h-2zM46 54h2v2h-2zM138 54h2v2h-2zM14 58h2v2h-2zM190 60h2v2h-2zM60 62h2v2h-2zM110 66h2v2h-2zM158 66h2v2h-2zM96 68h2v2h-2zM20 70h2v2h-2zM98 70h2v2h-2zM106 70h2v2h-2zM132 70h2v2h-2zM114 72h2v2h-2zM108 74h2v2h-2zM2 76h2v2h-2zM182 76h4v2h-4zM164 78h2v2h-2zM86 82h2v2h-2zM162 82h2v2h-2zM72 84h2v2h-2zM82 84h2v2h-2zM150 84h2v2h-2zM26 86h2v2h-2zM166 86h2v2h-2zM170 86h2v2h-2zM108 88h2v2h-2zM142 88h2v2h-2zM168 88h2v2h-2zM180 88h2v2h-2zM30 90h2v2h-2zM80 90h2v2h-2zM138 92h2v2h-2zM166 92h2v2h-2zM14 96h2v2h-2zM102 96h2v2h-2zM90 98h2v2h-2zM18 102h2v2h-2zM76 102h4v2h-4zM96 104h2v2h-2zM112 104h2v2h-2zM134 104h2v2h-2zM16 106h2v2h-2zM92 106h2v2h-2zM146 106h2v2h-2zM60 108h2v2h-2zM44 110h2v2h-2zM176 114h2v2h-2zM4 116h2v2h-2zM16 116h2v2h-2zM100 116h2v2h-2zM170 116h2v2h-2zM84 118h2v2h-2zM92 118h2v2h-2zM98 120h2v2h-2zM118 122h2v2h-2zM26 124h2v2h-2zM42 124h2v2h-2zM50 124h2v2h-2zM118 124h2v2h-2zM146 124h2v2h-2zM88 126h2v2h-2zM48 128h2v2h-2zM92 128h2v2h-2zM126 128h2v2h-2zM24 130h2v2h-2zM122 130h2v2h-2zM48 132h2v2h-2zM38 134h2v2h-2zM32 136h2v2h-2zM152 136h2v2h-2zM48 138h2v2h-2zM156 140h2v2h-2zM122 142h2v2h-2zM142 142h2v2h-2zM56 144h2v2h-2zM174 144h2v2h-2zM190 146h2v2h-2zM106 150h2v2h-2zM100 152h2v2h-2zM104 152h2v2h-2zM36 158h2v2h-2zM132 158h2v2h-2zM170 158h2v2h-2zM18 160h2v2h-2zM36 160h2v2h-2zM110 160h2v2h-2zM186 160h2v2h-2zM94 162h2v2h-2zM8 166h2v2h-2zM148 166h2v2h-2zM72 168h2v2h-2zM64 172h2v2h-2zM74 172h2v2h-2zM86 172h2v2h-2zM132 172h2v2h-2zM98 174h2v2h-2zM162 174h2v2h-2zM172 174h2v2h-2zM36 176h2v2h-2zM48 176h2v2h-2zM120 176h2v2h-2zM82 180h2v2h-2zM50 182h2v2h-2zM134 186h2v2h-2zM54 188h2v2h-2zM134 188h2v2h-2zM50 190h2v2h-2zM168 190h2v2h-2z"/>
<path fill="rgb(230,230,230)" d="M40 10h2v2h-2zM164 10h2v2h-2zM150 16h2v2h-2zM34 22h2v2h-2zM6 24h2v2h-2zM14 26h2v2h-2zM70 26h2v2h-2zM150 26h2v2h-2zM190 28h2v2h-2zM94 58h2v2h-2zM86 74h2v2h-2zM86 90h2v2h-2zM158 94h4v2h-4zM178 94h2v2h-2zM56 106h2v2h-2zM74 112h2v2h-2zM114 142h2v2h-2zM64 148h2v2h-2zM122 152h2v2h-2zM108 184h2v2h-2z"/>
<path fill="rgb(255,255,255)" d="M44 38h2v2h-2zM72 96h2v2h-2z"/>
</pattern>
<pattern id="pT" patternUnits="userSpaceOnUse" width="240" height="240" patternTransform="rotate(-24) scale(1.0)">
<rect width="240" height="240" fill="rgb(128,128,128)"/>
<path fill="rgb(0,0,0)" d="M16 90h2v11h-2zM30 212h2v14h-2zM30 102h2v8h-2zM34 21h2v6h-2zM62 48h2v4h-2zM68 198h2v5h-2zM74 226h2v14h-2zM74 0h2v3h-2zM86 186h2v9h-2zM94 26h2v19h-2zM116 33h2v15h-2zM118 15h2v17h-2zM128 239h2v1h-2zM128 0h2v12h-2zM136 90h2v11h-2zM138 10h2v18h-2zM160 183h2v15h-2zM164 66h2v7h-2zM190 191h2v9h-2zM212 42h2v10h-2zM212 229h2v11h-2zM214 9h2v6h-2zM214 113h2v5h-2zM224 84h2v16h-2zM226 211h2v8h-2zM228 19h2v13h-2zM230 174h2v13h-2zM230 145h2v6h-2zM238 0h2v19h-2zM238 31h2v16h-2zM238 76h2v9h-2z"/>
<path fill="rgb(26,26,26)" d="M0 181h2v13h-2zM2 12h2v14h-2zM20 27h2v17h-2zM22 12h2v4h-2zM24 150h2v8h-2zM24 21h2v9h-2zM28 235h2v5h-2zM28 0h2v8h-2zM30 198h2v14h-2zM30 178h2v7h-2zM32 171h2v7h-2zM34 95h2v8h-2zM38 238h2v2h-2zM38 0h2v12h-2zM42 41h2v11h-2zM42 78h2v11h-2zM44 14h2v18h-2zM52 233h2v7h-2zM52 0h2v7h-2zM62 196h2v11h-2zM66 184h2v17h-2zM84 203h2v13h-2zM86 90h2v16h-2zM92 90h2v9h-2zM94 188h2v7h-2zM94 59h2v4h-2zM98 12h2v9h-2zM100 196h2v4h-2zM102 2h2v6h-2zM108 232h2v8h-2zM108 0h2v6h-2zM112 214h2v15h-2zM112 151h2v16h-2zM114 95h2v12h-2zM116 123h2v10h-2zM116 172h2v13h-2zM120 6h2v18h-2zM128 208h2v12h-2zM134 227h2v5h-2zM138 4h2v6h-2zM140 163h2v14h-2zM148 211h2v9h-2zM150 23h2v10h-2zM150 108h2v11h-2zM152 49h2v15h-2zM156 31h2v9h-2zM156 90h2v11h-2zM166 84h2v15h-2zM172 157h2v16h-2zM180 41h2v5h-2zM182 25h2v13h-2zM184 180h2v7h-2zM184 187h2v14h-2zM184 238h2v2h-2zM184 0h2v9h-2zM186 154h2v5h-2zM188 9h2v11h-2zM188 83h2v12h-2zM188 193h2v12h-2zM192 21h2v17h-2zM200 236h2v4h-2zM200 0h2v13h-2zM202 19h2v18h-2zM204 115h2v15h-2zM204 228h2v5h-2zM206 206h2v7h-2zM210 97h2v15h-2zM222 174h2v12h-2zM224 155h2v12h-2zM228 163h2v10h-2zM230 187h2v13h-2zM230 74h2v4h-2zM232 159h2v8h-2zM234 60h2v10h-2zM234 99h2v8h-2zM238 62h2v14h-2zM238 113h2v19h-2z"/>
<path fill="rgb(51,51,51)" d="M0 122h2v7h-2zM2 101h2v17h-2zM2 195h2v11h-2zM6 111h2v17h-2zM8 119h2v5h-2zM10 157h2v12h-2zM12 86h2v9h-2zM12 95h2v8h-2zM12 160h2v18h-2zM12 231h2v9h-2zM12 0h2v4h-2zM14 164h2v13h-2zM16 101h2v18h-2zM18 182h2v10h-2zM18 55h2v14h-2zM20 8h2v19h-2zM22 92h2v16h-2zM24 227h2v13h-2zM24 0h2v2h-2zM26 78h2v5h-2zM30 226h2v5h-2zM30 231h2v9h-2zM30 0h2v3h-2zM30 38h2v5h-2zM30 58h2v15h-2zM30 110h2v18h-2zM30 185h2v8h-2zM36 65h2v16h-2zM44 66h2v8h-2zM46 145h2v12h-2zM46 206h2v4h-2zM50 65h2v16h-2zM56 186h2v10h-2zM58 167h2v6h-2zM58 234h2v6h-2zM58 0h2v7h-2zM58 65h2v16h-2zM58 86h2v17h-2zM60 81h2v14h-2zM62 182h2v14h-2zM64 120h2v16h-2zM66 139h2v8h-2zM68 119h2v9h-2zM68 20h2v13h-2zM72 111h2v16h-2zM72 182h2v15h-2zM76 231h2v9h-2zM76 0h2v2h-2zM78 88h2v19h-2zM80 28h2v9h-2zM84 12h2v5h-2zM84 170h2v15h-2zM86 149h2v7h-2zM90 175h2v9h-2zM92 156h2v4h-2zM92 99h2v5h-2zM94 80h2v6h-2zM94 145h2v15h-2zM96 187h2v10h-2zM98 73h2v19h-2zM106 49h2v19h-2zM108 60h2v10h-2zM112 198h2v16h-2zM112 7h2v19h-2zM118 148h2v11h-2zM122 32h2v5h-2zM122 41h2v12h-2zM122 121h2v6h-2zM124 139h2v11h-2zM124 150h2v19h-2zM128 134h2v13h-2zM128 56h2v19h-2zM134 90h2v12h-2zM136 76h2v9h-2zM136 85h2v5h-2zM136 24h2v15h-2zM136 39h2v5h-2zM144 117h2v12h-2zM146 179h2v5h-2zM146 4h2v10h-2zM148 26h2v6h-2zM148 147h2v10h-2zM150 187h2v16h-2zM152 64h2v8h-2zM152 173h2v6h-2zM154 15h2v5h-2zM154 42h2v14h-2zM154 131h2v17h-2zM156 232h2v8h-2zM156 0h2v8h-2zM158 219h2v13h-2zM158 7h2v8h-2zM158 149h2v15h-2zM160 125h2v5h-2zM160 130h2v14h-2zM160 174h2v5h-2zM162 40h2v17h-2zM168 89h2v7h-2zM168 125h2v19h-2zM170 80h2v18h-2zM170 211h2v15h-2zM172 212h2v16h-2zM176 146h2v13h-2zM178 89h2v8h-2zM178 129h2v4h-2zM180 167h2v11h-2zM182 83h2v8h-2zM184 69h2v8h-2zM186 92h2v6h-2zM188 95h2v12h-2zM188 107h2v6h-2zM188 212h2v11h-2zM188 227h2v5h-2zM190 168h2v6h-2zM192 69h2v14h-2zM192 83h2v10h-2zM192 231h2v9h-2zM192 0h2v4h-2zM194 214h2v7h-2zM194 54h2v4h-2zM196 40h2v8h-2zM198 105h2v9h-2zM198 124h2v18h-2zM198 142h2v19h-2zM200 13h2v18h-2zM200 81h2v8h-2zM202 236h2v4h-2zM202 0h2v19h-2zM204 194h2v6h-2zM204 219h2v9h-2zM206 127h2v19h-2zM206 146h2v7h-2zM206 233h2v7h-2zM206 0h2v5h-2zM210 62h2v19h-2zM210 81h2v16h-2zM210 112h2v6h-2zM212 52h2v18h-2zM212 133h2v11h-2zM214 136h2v8h-2zM216 54h2v13h-2zM216 74h2v7h-2zM218 79h2v14h-2zM218 159h2v9h-2zM218 224h2v16h-2zM218 0h2v3h-2zM220 149h2v18h-2zM222 220h2v18h-2zM224 50h2v15h-2zM224 114h2v10h-2zM228 212h2v4h-2zM228 94h2v17h-2zM228 111h2v15h-2zM230 229h2v11h-2zM230 0h2v7h-2zM230 60h2v14h-2zM234 157h2v12h-2zM236 153h2v7h-2zM238 142h2v13h-2z"/>
<path fill="rgb(77,77,77)" d="M0 150h2v18h-2zM0 225h2v13h-2zM0 49h2v5h-2zM2 79h2v6h-2zM2 206h2v4h-2zM4 44h2v14h-2zM4 109h2v10h-2zM4 119h2v4h-2zM4 123h2v16h-2zM4 152h2v14h-2zM6 106h2v5h-2zM8 162h2v14h-2zM8 176h2v12h-2zM8 21h2v12h-2zM8 88h2v14h-2zM10 181h2v13h-2zM10 226h2v14h-2zM10 0h2v2h-2zM10 47h2v10h-2zM10 111h2v16h-2zM14 18h2v5h-2zM16 7h2v15h-2zM18 157h2v12h-2zM18 229h2v11h-2zM18 0h2v8h-2zM18 35h2v10h-2zM18 45h2v10h-2zM20 44h2v18h-2zM20 62h2v14h-2zM20 118h2v19h-2zM20 165h2v8h-2zM22 7h2v5h-2zM26 83h2v12h-2zM26 104h2v8h-2zM28 204h2v16h-2zM30 193h2v5h-2zM30 73h2v11h-2zM32 132h2v9h-2zM32 190h2v19h-2zM32 215h2v16h-2zM32 238h2v2h-2zM32 0h2v14h-2zM34 117h2v11h-2zM34 193h2v19h-2zM36 81h2v13h-2zM38 12h2v11h-2zM38 42h2v5h-2zM40 120h2v11h-2zM40 228h2v4h-2zM42 116h2v11h-2zM44 158h2v10h-2zM44 213h2v10h-2zM44 74h2v16h-2zM44 90h2v19h-2zM44 121h2v5h-2zM46 62h2v11h-2zM46 134h2v11h-2zM46 185h2v14h-2zM46 231h2v9h-2zM46 0h2v8h-2zM48 110h2v8h-2zM50 111h2v10h-2zM50 214h2v12h-2zM50 226h2v6h-2zM50 11h2v18h-2zM50 47h2v9h-2zM50 56h2v4h-2zM52 108h2v6h-2zM52 131h2v12h-2zM52 143h2v5h-2zM54 40h2v13h-2zM54 84h2v7h-2zM54 125h2v11h-2zM54 136h2v5h-2zM54 141h2v6h-2zM54 228h2v1h-2zM56 93h2v10h-2zM56 117h2v11h-2zM56 196h2v18h-2zM58 197h2v10h-2zM58 226h2v8h-2zM58 33h2v9h-2zM60 99h2v10h-2zM62 207h2v8h-2zM62 52h2v18h-2zM62 70h2v17h-2zM62 96h2v13h-2zM62 109h2v18h-2zM62 127h2v16h-2zM62 173h2v9h-2zM64 216h2v6h-2zM64 161h2v13h-2zM66 6h2v11h-2zM66 23h2v11h-2zM66 201h2v16h-2zM66 224h2v4h-2zM68 101h2v12h-2zM68 154h2v18h-2zM68 219h2v11h-2zM70 163h2v10h-2zM70 118h2v17h-2zM72 78h2v4h-2zM72 82h2v7h-2zM72 89h2v11h-2zM72 127h2v16h-2zM72 172h2v4h-2zM72 5h2v14h-2zM76 33h2v11h-2zM76 105h2v9h-2zM78 107h2v6h-2zM80 0h2v12h-2zM80 68h2v7h-2zM82 68h2v7h-2zM82 102h2v13h-2zM84 17h2v10h-2zM84 59h2v19h-2zM84 78h2v19h-2zM84 97h2v7h-2zM84 104h2v13h-2zM84 117h2v18h-2zM84 153h2v17h-2zM84 193h2v10h-2zM84 216h2v15h-2zM84 9h2v3h-2zM86 211h2v18h-2zM86 18h2v13h-2zM86 31h2v18h-2zM86 49h2v17h-2zM86 66h2v15h-2zM88 215h2v7h-2zM88 24h2v7h-2zM88 57h2v5h-2zM88 128h2v11h-2zM90 147h2v8h-2zM90 3h2v5h-2zM90 145h2v2h-2zM92 177h2v19h-2zM92 61h2v11h-2zM94 167h2v5h-2zM94 201h2v15h-2zM94 14h2v8h-2zM94 45h2v14h-2zM96 147h2v19h-2zM98 5h2v7h-2zM98 26h2v8h-2zM100 46h2v4h-2zM102 42h2v19h-2zM102 75h2v6h-2zM102 150h2v15h-2zM102 171h2v8h-2zM104 164h2v4h-2zM104 181h2v15h-2zM104 203h2v13h-2zM104 33h2v15h-2zM104 48h2v6h-2zM106 5h2v6h-2zM106 33h2v16h-2zM106 110h2v14h-2zM106 156h2v5h-2zM106 161h2v15h-2zM108 158h2v13h-2zM108 171h2v16h-2zM112 53h2v17h-2zM112 108h2v15h-2zM112 123h2v10h-2zM112 167h2v18h-2zM114 25h2v6h-2zM114 53h2v6h-2zM116 22h2v7h-2zM116 232h2v5h-2zM118 227h2v11h-2zM118 75h2v8h-2zM118 128h2v14h-2zM118 159h2v9h-2zM118 184h2v12h-2zM120 117h2v14h-2zM120 136h2v18h-2zM120 172h2v7h-2zM120 230h2v5h-2zM122 133h2v4h-2zM124 34h2v7h-2zM124 106h2v10h-2zM124 124h2v15h-2zM124 214h2v18h-2zM126 229h2v11h-2zM126 71h2v18h-2zM126 118h2v19h-2zM128 118h2v16h-2zM128 192h2v16h-2zM128 21h2v14h-2zM128 96h2v13h-2zM128 109h2v9h-2zM130 210h2v18h-2zM130 134h2v10h-2zM130 171h2v6h-2zM130 177h2v10h-2zM130 187h2v11h-2zM132 78h2v14h-2zM132 162h2v10h-2zM132 180h2v4h-2zM132 236h2v3h-2zM134 26h2v7h-2zM134 143h2v10h-2zM136 111h2v14h-2zM136 5h2v19h-2zM138 149h2v6h-2zM138 51h2v4h-2zM140 209h2v11h-2zM140 125h2v7h-2zM142 40h2v6h-2zM142 133h2v7h-2zM144 54h2v16h-2zM144 70h2v7h-2zM144 90h2v8h-2zM144 199h2v9h-2zM146 25h2v7h-2zM146 32h2v11h-2zM148 7h2v19h-2zM150 119h2v5h-2zM150 134h2v14h-2zM150 216h2v7h-2zM152 28h2v9h-2zM152 94h2v17h-2zM154 159h2v6h-2zM156 221h2v11h-2zM156 74h2v9h-2zM156 127h2v5h-2zM156 161h2v7h-2zM156 179h2v13h-2zM158 101h2v11h-2zM158 139h2v10h-2zM158 168h2v3h-2zM160 17h2v10h-2zM162 57h2v6h-2zM162 85h2v14h-2zM162 99h2v14h-2zM162 178h2v15h-2zM162 227h2v6h-2zM164 138h2v4h-2zM166 65h2v12h-2zM168 144h2v19h-2zM168 202h2v16h-2zM170 42h2v10h-2zM170 182h2v13h-2zM172 206h2v6h-2zM174 92h2v9h-2zM174 200h2v11h-2zM176 205h2v16h-2zM176 50h2v12h-2zM178 70h2v19h-2zM178 122h2v7h-2zM178 144h2v7h-2zM180 112h2v9h-2zM180 136h2v15h-2zM182 153h2v4h-2zM182 157h2v15h-2zM186 19h2v7h-2zM186 36h2v7h-2zM188 44h2v8h-2zM188 113h2v8h-2zM188 179h2v14h-2zM188 223h2v4h-2zM190 17h2v8h-2zM190 55h2v18h-2zM190 174h2v17h-2zM190 215h2v15h-2zM192 101h2v10h-2zM192 111h2v10h-2zM192 121h2v11h-2zM192 145h2v5h-2zM194 31h2v7h-2zM194 38h2v7h-2zM194 76h2v5h-2zM194 133h2v6h-2zM194 154h2v16h-2zM196 232h2v8h-2zM196 0h2v8h-2zM198 231h2v4h-2zM198 51h2v6h-2zM198 57h2v4h-2zM198 114h2v4h-2zM198 176h2v17h-2zM200 187h2v16h-2zM200 208h2v14h-2zM200 155h2v13h-2zM200 174h2v6h-2zM202 154h2v15h-2zM202 223h2v13h-2zM202 37h2v4h-2zM202 41h2v19h-2zM202 85h2v8h-2zM204 54h2v7h-2zM204 144h2v9h-2zM204 153h2v14h-2zM204 182h2v12h-2zM206 67h2v16h-2zM206 166h2v17h-2zM208 99h2v17h-2zM210 123h2v5h-2zM212 28h2v14h-2zM212 110h2v7h-2zM212 171h2v5h-2zM216 121h2v9h-2zM218 3h2v8h-2zM220 186h2v11h-2zM220 69h2v10h-2zM222 22h2v14h-2zM222 127h2v17h-2zM222 186h2v7h-2zM224 14h2v15h-2zM224 29h2v4h-2zM224 124h2v7h-2zM226 72h2v13h-2zM226 114h2v14h-2zM226 147h2v7h-2zM226 227h2v12h-2zM228 32h2v4h-2zM228 173h2v11h-2zM230 200h2v12h-2zM232 1h2v19h-2zM232 42h2v7h-2zM232 63h2v8h-2zM232 99h2v16h-2zM232 144h2v11h-2zM232 155h2v4h-2zM236 66h2v19h-2zM236 85h2v10h-2zM236 95h2v17h-2zM236 148h2v5h-2zM236 186h2v5h-2zM238 132h2v10h-2z"/>
<path fill="rgb(102,102,102)" d="M0 168h2v13h-2zM0 37h2v12h-2zM0 96h2v9h-2zM0 111h2v11h-2zM0 129h2v6h-2zM2 36h2v18h-2zM2 63h2v12h-2zM4 236h2v4h-2zM4 0h2v13h-2zM6 84h2v9h-2zM6 190h2v16h-2zM6 4h2v16h-2zM8 57h2v7h-2zM10 194h2v6h-2zM10 36h2v11h-2zM10 94h2v13h-2zM10 145h2v12h-2zM12 212h2v19h-2zM14 231h2v9h-2zM14 0h2v4h-2zM14 23h2v18h-2zM14 41h2v12h-2zM14 101h2v6h-2zM14 123h2v17h-2zM16 187h2v4h-2zM16 198h2v8h-2zM16 22h2v11h-2zM16 76h2v14h-2zM16 140h2v7h-2zM16 180h2v7h-2zM18 192h2v16h-2zM18 27h2v8h-2zM18 78h2v7h-2zM20 173h2v8h-2zM22 41h2v9h-2zM22 140h2v16h-2zM22 174h2v10h-2zM24 101h2v9h-2zM24 140h2v10h-2zM26 28h2v11h-2zM28 53h2v17h-2zM28 77h2v17h-2zM28 127h2v13h-2zM28 220h2v15h-2zM30 43h2v15h-2zM30 171h2v7h-2zM32 209h2v6h-2zM32 37h2v6h-2zM32 59h2v10h-2zM32 76h2v17h-2zM34 27h2v19h-2zM34 46h2v11h-2zM34 70h2v7h-2zM34 171h2v14h-2zM34 185h2v8h-2zM34 212h2v12h-2zM36 51h2v10h-2zM36 130h2v10h-2zM36 140h2v7h-2zM36 147h2v19h-2zM36 192h2v8h-2zM38 121h2v4h-2zM40 202h2v5h-2zM40 207h2v12h-2zM40 7h2v8h-2zM40 54h2v18h-2zM40 113h2v1h-2zM42 199h2v8h-2zM42 207h2v15h-2zM42 222h2v15h-2zM42 1h2v6h-2zM42 127h2v13h-2zM42 140h2v14h-2zM44 168h2v13h-2zM44 56h2v10h-2zM44 126h2v3h-2zM46 43h2v6h-2zM46 115h2v19h-2zM46 199h2v7h-2zM46 8h2v10h-2zM48 118h2v12h-2zM48 193h2v7h-2zM48 224h2v14h-2zM48 238h2v2h-2zM48 0h2v12h-2zM48 12h2v9h-2zM48 34h2v16h-2zM50 81h2v18h-2zM50 99h2v12h-2zM50 121h2v19h-2zM50 146h2v19h-2zM50 189h2v8h-2zM52 114h2v10h-2zM52 167h2v10h-2zM52 177h2v11h-2zM52 65h2v4h-2zM52 69h2v13h-2zM54 5h2v13h-2zM54 102h2v19h-2zM54 147h2v11h-2zM54 162h2v18h-2zM54 180h2v19h-2zM56 20h2v19h-2zM56 51h2v11h-2zM56 84h2v9h-2zM56 103h2v8h-2zM56 111h2v6h-2zM58 173h2v7h-2zM58 180h2v4h-2zM58 184h2v9h-2zM58 222h2v4h-2zM58 53h2v12h-2zM58 152h2v10h-2zM60 190h2v14h-2zM60 221h2v12h-2zM62 215h2v14h-2zM62 229h2v11h-2zM62 0h2v2h-2zM62 16h2v18h-2zM62 164h2v9h-2zM64 187h2v13h-2zM64 206h2v6h-2zM64 11h2v13h-2zM64 136h2v14h-2zM64 174h2v13h-2zM66 17h2v6h-2zM66 62h2v18h-2zM66 80h2v17h-2zM66 113h2v18h-2zM66 217h2v7h-2zM68 191h2v7h-2zM70 155h2v8h-2zM70 214h2v6h-2zM70 220h2v12h-2zM72 71h2v7h-2zM72 176h2v6h-2zM72 218h2v17h-2zM72 19h2v11h-2zM72 30h2v19h-2zM74 3h2v17h-2zM74 34h2v5h-2zM74 54h2v15h-2zM74 108h2v9h-2zM74 117h2v11h-2zM74 165h2v4h-2zM76 50h2v9h-2zM76 80h2v9h-2zM76 163h2v11h-2zM78 124h2v19h-2zM80 12h2v16h-2zM80 50h2v18h-2zM80 100h2v11h-2zM82 150h2v16h-2zM82 166h2v11h-2zM82 75h2v17h-2zM84 33h2v10h-2zM84 135h2v18h-2zM84 185h2v8h-2zM86 195h2v16h-2zM88 177h2v12h-2zM88 222h2v8h-2zM88 230h2v10h-2zM88 0h2v1h-2zM88 31h2v16h-2zM88 47h2v6h-2zM88 62h2v9h-2zM88 89h2v4h-2zM90 162h2v13h-2zM90 12h2v5h-2zM92 196h2v12h-2zM92 1h2v12h-2zM92 72h2v18h-2zM94 233h2v6h-2zM94 22h2v4h-2zM96 234h2v6h-2zM96 0h2v10h-2zM96 39h2v12h-2zM96 91h2v4h-2zM98 185h2v10h-2zM98 111h2v10h-2zM98 121h2v3h-2zM100 79h2v11h-2zM100 106h2v19h-2zM100 142h2v10h-2zM100 152h2v13h-2zM102 17h2v17h-2zM102 104h2v5h-2zM102 132h2v18h-2zM104 135h2v5h-2zM106 235h2v5h-2zM106 0h2v5h-2zM106 81h2v9h-2zM106 176h2v15h-2zM106 191h2v19h-2zM106 210h2v9h-2zM108 213h2v7h-2zM108 220h2v12h-2zM108 46h2v14h-2zM108 84h2v6h-2zM108 90h2v9h-2zM110 4h2v19h-2zM112 89h2v19h-2zM114 178h2v17h-2zM114 227h2v13h-2zM114 0h2v6h-2zM114 38h2v15h-2zM114 123h2v10h-2zM116 133h2v6h-2zM116 164h2v8h-2zM118 196h2v17h-2zM118 63h2v12h-2zM118 120h2v8h-2zM120 131h2v5h-2zM120 198h2v7h-2zM120 235h2v5h-2zM120 0h2v1h-2zM122 180h2v12h-2zM122 192h2v12h-2zM122 220h2v14h-2zM122 234h2v6h-2zM122 0h2v10h-2zM124 41h2v11h-2zM124 83h2v5h-2zM124 169h2v15h-2zM124 189h2v18h-2zM124 207h2v7h-2zM126 139h2v16h-2zM126 155h2v19h-2zM126 174h2v17h-2zM126 207h2v4h-2zM126 49h2v4h-2zM128 147h2v8h-2zM128 166h2v14h-2zM128 188h2v4h-2zM128 220h2v4h-2zM128 44h2v12h-2zM130 66h2v12h-2zM130 198h2v12h-2zM132 92h2v8h-2zM132 111h2v16h-2zM132 148h2v9h-2zM132 184h2v18h-2zM134 204h2v16h-2zM134 232h2v6h-2zM134 165h2v8h-2zM134 173h2v14h-2zM136 44h2v15h-2zM136 59h2v17h-2zM136 125h2v6h-2zM136 131h2v10h-2zM136 141h2v17h-2zM136 175h2v19h-2zM136 209h2v8h-2zM136 217h2v10h-2zM138 181h2v16h-2zM138 125h2v16h-2zM140 177h2v18h-2zM140 29h2v8h-2zM140 41h2v8h-2zM140 65h2v7h-2zM140 132h2v10h-2zM142 176h2v5h-2zM142 181h2v17h-2zM142 27h2v13h-2zM142 46h2v6h-2zM144 179h2v5h-2zM146 145h2v11h-2zM146 74h2v6h-2zM148 44h2v8h-2zM148 89h2v9h-2zM152 205h2v11h-2zM152 216h2v18h-2zM152 135h2v4h-2zM152 139h2v9h-2zM152 164h2v9h-2zM154 201h2v17h-2zM154 80h2v7h-2zM154 87h2v5h-2zM154 170h2v6h-2zM156 192h2v13h-2zM156 26h2v5h-2zM156 40h2v18h-2zM158 24h2v14h-2zM158 38h2v10h-2zM158 74h2v11h-2zM158 131h2v4h-2zM158 135h2v4h-2zM160 144h2v13h-2zM160 179h2v4h-2zM160 198h2v6h-2zM160 220h2v9h-2zM160 229h2v10h-2zM160 82h2v4h-2zM160 108h2v12h-2zM160 120h2v5h-2zM162 6h2v5h-2zM162 36h2v4h-2zM162 76h2v9h-2zM162 201h2v11h-2zM164 87h2v10h-2zM164 112h2v19h-2zM164 238h2v2h-2zM164 0h2v4h-2zM164 41h2v14h-2zM164 55h2v11h-2zM166 218h2v14h-2zM166 117h2v8h-2zM168 113h2v12h-2zM170 24h2v18h-2zM170 52h2v12h-2zM170 125h2v18h-2zM170 143h2v11h-2zM172 178h2v12h-2zM172 27h2v17h-2zM172 58h2v19h-2zM172 77h2v18h-2zM172 107h2v7h-2zM174 124h2v12h-2zM174 148h2v8h-2zM174 178h2v18h-2zM174 196h2v4h-2zM174 24h2v9h-2zM174 33h2v5h-2zM178 32h2v5h-2zM178 133h2v7h-2zM178 140h2v4h-2zM178 222h2v7h-2zM180 206h2v16h-2zM180 222h2v13h-2zM180 12h2v10h-2zM180 88h2v15h-2zM180 103h2v9h-2zM182 193h2v16h-2zM182 10h2v15h-2zM182 81h2v2h-2zM184 201h2v13h-2zM184 27h2v18h-2zM186 98h2v16h-2zM186 114h2v12h-2zM186 126h2v19h-2zM186 164h2v7h-2zM186 187h2v4h-2zM186 206h2v17h-2zM186 235h2v5h-2zM186 0h2v8h-2zM186 43h2v4h-2zM188 232h2v8h-2zM188 0h2v9h-2zM188 20h2v8h-2zM188 52h2v7h-2zM188 121h2v5h-2zM188 126h2v18h-2zM188 144h2v10h-2zM188 154h2v9h-2zM188 163h2v16h-2zM188 205h2v7h-2zM190 36h2v19h-2zM190 127h2v15h-2zM192 4h2v17h-2zM192 132h2v13h-2zM192 162h2v10h-2zM194 45h2v9h-2zM194 58h2v18h-2zM194 175h2v8h-2zM196 107h2v7h-2zM196 155h2v14h-2zM196 27h2v13h-2zM196 48h2v5h-2zM196 71h2v8h-2zM198 61h2v7h-2zM198 78h2v6h-2zM198 84h2v4h-2zM200 180h2v7h-2zM200 31h2v13h-2zM200 131h2v7h-2zM200 138h2v17h-2zM202 217h2v6h-2zM204 30h2v8h-2zM204 83h2v9h-2zM204 167h2v10h-2zM206 52h2v15h-2zM206 106h2v4h-2zM206 228h2v5h-2zM206 5h2v16h-2zM206 21h2v12h-2zM206 33h2v11h-2zM206 44h2v2h-2zM208 203h2v14h-2zM208 226h2v7h-2zM208 83h2v12h-2zM208 95h2v4h-2zM208 123h2v17h-2zM208 180h2v14h-2zM210 204h2v15h-2zM210 219h2v7h-2zM210 226h2v4h-2zM210 3h2v17h-2zM210 20h2v11h-2zM210 31h2v4h-2zM210 35h2v12h-2zM210 128h2v17h-2zM210 145h2v7h-2zM210 157h2v11h-2zM212 88h2v6h-2zM212 176h2v19h-2zM212 199h2v11h-2zM214 172h2v9h-2zM214 206h2v13h-2zM214 63h2v14h-2zM214 77h2v13h-2zM214 90h2v10h-2zM214 161h2v11h-2zM216 11h2v11h-2zM216 104h2v17h-2zM216 172h2v10h-2zM218 52h2v5h-2zM218 127h2v16h-2zM218 143h2v16h-2zM218 168h2v4h-2zM220 197h2v10h-2zM220 207h2v6h-2zM220 132h2v10h-2zM222 15h2v7h-2zM222 36h2v18h-2zM222 154h2v7h-2zM226 32h2v4h-2zM226 93h2v16h-2zM226 160h2v11h-2zM226 171h2v18h-2zM228 144h2v19h-2zM230 168h2v6h-2zM230 7h2v17h-2zM230 43h2v17h-2zM232 71h2v14h-2zM232 115h2v16h-2zM232 131h2v13h-2zM232 196h2v11h-2zM232 236h2v1h-2zM234 218h2v12h-2zM234 8h2v6h-2zM234 14h2v15h-2zM234 78h2v8h-2zM234 107h2v16h-2zM234 169h2v4h-2zM236 0h2v13h-2zM236 13h2v10h-2zM236 29h2v7h-2zM236 143h2v5h-2zM236 191h2v17h-2zM238 231h2v9h-2zM238 54h2v8h-2zM238 169h2v12h-2z"/>
<path fill="rgb(153,153,153)" d="M0 142h2v8h-2zM0 206h2v19h-2zM0 8h2v19h-2zM0 27h2v5h-2zM0 54h2v6h-2zM0 60h2v17h-2zM0 105h2v6h-2zM2 239h2v1h-2zM2 0h2v5h-2zM2 5h2v7h-2zM2 26h2v10h-2zM2 54h2v9h-2zM2 75h2v4h-2zM2 118h2v10h-2zM2 141h2v16h-2zM2 167h2v18h-2zM2 185h2v10h-2zM2 210h2v6h-2zM2 216h2v4h-2zM2 220h2v19h-2zM4 83h2v7h-2zM4 90h2v19h-2zM4 139h2v13h-2zM4 215h2v6h-2zM4 221h2v8h-2zM4 229h2v7h-2zM4 13h2v7h-2zM6 128h2v14h-2zM6 142h2v13h-2zM6 155h2v6h-2zM6 206h2v7h-2zM6 213h2v7h-2zM6 220h2v9h-2zM6 38h2v4h-2zM8 135h2v18h-2zM8 188h2v6h-2zM8 204h2v14h-2zM8 2h2v7h-2zM8 9h2v12h-2zM8 64h2v6h-2zM8 70h2v14h-2zM10 169h2v12h-2zM10 200h2v7h-2zM10 207h2v12h-2zM10 57h2v15h-2zM10 89h2v5h-2zM10 107h2v4h-2zM10 127h2v18h-2zM12 23h2v18h-2zM12 103h2v4h-2zM12 107h2v18h-2zM12 125h2v8h-2zM12 148h2v12h-2zM14 210h2v12h-2zM14 4h2v14h-2zM14 53h2v19h-2zM14 89h2v5h-2zM14 94h2v7h-2zM14 145h2v19h-2zM16 213h2v11h-2zM16 238h2v2h-2zM16 0h2v7h-2zM16 49h2v17h-2zM16 66h2v10h-2zM16 119h2v14h-2zM16 133h2v7h-2zM16 147h2v18h-2zM16 165h2v15h-2zM18 124h2v8h-2zM18 169h2v13h-2zM18 69h2v9h-2zM20 229h2v11h-2zM20 0h2v8h-2zM20 91h2v15h-2zM20 106h2v6h-2zM20 137h2v5h-2zM20 142h2v18h-2zM20 181h2v11h-2zM20 202h2v15h-2zM22 24h2v17h-2zM22 78h2v14h-2zM22 129h2v6h-2zM22 184h2v9h-2zM22 205h2v10h-2zM24 81h2v11h-2zM24 92h2v9h-2zM24 158h2v19h-2zM24 177h2v16h-2zM26 124h2v18h-2zM26 177h2v11h-2zM26 205h2v10h-2zM26 227h2v13h-2zM26 0h2v6h-2zM26 39h2v19h-2zM26 58h2v7h-2zM28 22h2v6h-2zM28 49h2v4h-2zM28 94h2v9h-2zM28 176h2v10h-2zM28 8h2v4h-2zM32 178h2v12h-2zM32 30h2v7h-2zM32 69h2v7h-2zM34 57h2v13h-2zM34 103h2v14h-2zM36 94h2v16h-2zM36 166h2v8h-2zM36 200h2v15h-2zM36 215h2v5h-2zM36 220h2v19h-2zM36 5h2v14h-2zM38 207h2v10h-2zM38 47h2v19h-2zM38 66h2v15h-2zM38 95h2v14h-2zM38 109h2v12h-2zM38 125h2v6h-2zM38 131h2v19h-2zM38 150h2v10h-2zM40 114h2v6h-2zM40 149h2v17h-2zM40 219h2v9h-2zM40 15h2v17h-2zM40 32h2v9h-2zM40 72h2v4h-2zM40 76h2v14h-2zM40 98h2v15h-2zM42 154h2v16h-2zM42 175h2v8h-2zM42 7h2v12h-2zM42 19h2v11h-2zM42 30h2v11h-2zM42 52h2v7h-2zM42 59h2v9h-2zM42 97h2v10h-2zM44 141h2v17h-2zM44 181h2v7h-2zM44 193h2v12h-2zM44 205h2v8h-2zM44 32h2v6h-2zM44 38h2v18h-2zM46 49h2v7h-2zM46 56h2v6h-2zM46 87h2v10h-2zM46 210h2v5h-2zM46 25h2v18h-2zM48 90h2v6h-2zM48 130h2v4h-2zM48 153h2v12h-2zM48 165h2v19h-2zM48 21h2v13h-2zM48 50h2v5h-2zM50 174h2v15h-2zM50 29h2v10h-2zM52 124h2v7h-2zM52 188h2v15h-2zM52 39h2v10h-2zM52 49h2v16h-2zM52 93h2v1h-2zM54 229h2v6h-2zM54 18h2v16h-2zM54 34h2v6h-2zM54 70h2v14h-2zM54 158h2v4h-2zM56 128h2v8h-2zM56 214h2v13h-2zM58 193h2v4h-2zM58 7h2v8h-2zM58 42h2v11h-2zM58 81h2v5h-2zM60 209h2v12h-2zM60 42h2v11h-2zM60 70h2v11h-2zM60 126h2v15h-2zM60 141h2v13h-2zM60 154h2v14h-2zM60 168h2v7h-2zM62 143h2v7h-2zM62 150h2v14h-2zM64 212h2v4h-2zM64 233h2v7h-2zM64 0h2v11h-2zM64 24h2v14h-2zM64 55h2v5h-2zM64 60h2v13h-2zM64 73h2v16h-2zM64 89h2v19h-2zM64 150h2v11h-2zM66 34h2v5h-2zM66 39h2v6h-2zM66 167h2v7h-2zM68 87h2v14h-2zM68 145h2v9h-2zM68 172h2v19h-2zM68 230h2v10h-2zM68 59h2v12h-2zM70 199h2v15h-2zM70 12h2v9h-2zM70 51h2v5h-2zM70 83h2v17h-2zM70 100h2v9h-2zM72 156h2v16h-2zM72 197h2v12h-2zM72 235h2v5h-2zM72 0h2v5h-2zM74 39h2v15h-2zM74 69h2v13h-2zM74 82h2v13h-2zM74 145h2v14h-2zM74 159h2v6h-2zM74 196h2v7h-2zM76 187h2v10h-2zM76 219h2v12h-2zM76 7h2v15h-2zM76 44h2v6h-2zM76 59h2v10h-2zM78 143h2v18h-2zM78 161h2v15h-2zM78 238h2v2h-2zM78 0h2v2h-2zM78 2h2v7h-2zM78 49h2v16h-2zM78 65h2v8h-2zM78 73h2v15h-2zM78 113h2v11h-2zM80 160h2v13h-2zM80 192h2v18h-2zM80 37h2v13h-2zM80 83h2v17h-2zM80 111h2v15h-2zM82 136h2v14h-2zM82 202h2v16h-2zM82 218h2v17h-2zM82 235h2v4h-2zM82 239h2v1h-2zM82 0h2v15h-2zM82 15h2v5h-2zM84 231h2v9h-2zM84 0h2v9h-2zM86 81h2v9h-2zM86 113h2v13h-2zM86 179h2v7h-2zM88 203h2v7h-2zM88 53h2v4h-2zM88 109h2v19h-2zM88 173h2v4h-2zM90 184h2v16h-2zM90 212h2v4h-2zM90 33h2v4h-2zM90 37h2v14h-2zM90 70h2v4h-2zM90 109h2v9h-2zM90 118h2v14h-2zM90 132h2v6h-2zM92 130h2v8h-2zM92 208h2v19h-2zM92 13h2v18h-2zM94 63h2v17h-2zM94 94h2v9h-2zM94 160h2v7h-2zM94 172h2v16h-2zM94 216h2v8h-2zM94 7h2v7h-2zM96 218h2v16h-2zM96 10h2v7h-2zM96 51h2v18h-2zM96 69h2v18h-2zM96 118h2v10h-2zM96 128h2v19h-2zM96 175h2v12h-2zM98 200h2v14h-2zM98 214h2v10h-2zM98 21h2v5h-2zM98 43h2v9h-2zM98 52h2v16h-2zM100 206h2v10h-2zM100 229h2v5h-2zM100 6h2v8h-2zM100 14h2v9h-2zM100 30h2v16h-2zM100 90h2v16h-2zM100 125h2v12h-2zM100 137h2v5h-2zM100 165h2v14h-2zM100 200h2v6h-2zM102 207h2v11h-2zM102 236h2v4h-2zM102 0h2v2h-2zM102 34h2v8h-2zM102 81h2v11h-2zM102 92h2v12h-2zM102 109h2v15h-2zM102 179h2v19h-2zM104 77h2v12h-2zM104 89h2v19h-2zM104 150h2v14h-2zM104 232h2v8h-2zM104 0h2v11h-2zM104 16h2v17h-2zM104 54h2v5h-2zM104 59h2v8h-2zM106 130h2v16h-2zM108 99h2v16h-2zM108 115h2v17h-2zM108 139h2v19h-2zM108 196h2v17h-2zM108 6h2v17h-2zM110 203h2v11h-2zM110 32h2v12h-2zM110 80h2v8h-2zM110 88h2v13h-2zM110 107h2v4h-2zM110 124h2v10h-2zM114 202h2v15h-2zM114 31h2v7h-2zM114 59h2v17h-2zM114 133h2v14h-2zM116 48h2v4h-2zM116 92h2v14h-2zM116 106h2v5h-2zM116 139h2v13h-2zM116 152h2v12h-2zM118 88h2v17h-2zM118 105h2v8h-2zM118 113h2v7h-2zM120 94h2v13h-2zM120 205h2v16h-2zM120 24h2v7h-2zM120 63h2v13h-2zM120 76h2v3h-2zM122 53h2v14h-2zM122 103h2v18h-2zM122 127h2v6h-2zM122 137h2v5h-2zM124 8h2v13h-2zM124 21h2v13h-2zM124 65h2v18h-2zM126 191h2v16h-2zM126 211h2v18h-2zM126 0h2v18h-2zM126 18h2v4h-2zM126 29h2v9h-2zM126 53h2v18h-2zM126 108h2v10h-2zM126 137h2v2h-2zM130 0h2v13h-2zM130 13h2v6h-2zM130 121h2v13h-2zM130 157h2v14h-2zM132 239h2v1h-2zM132 0h2v14h-2zM132 26h2v15h-2zM132 41h2v17h-2zM132 100h2v7h-2zM132 107h2v4h-2zM132 127h2v14h-2zM134 220h2v7h-2zM134 15h2v11h-2zM134 41h2v15h-2zM134 56h2v14h-2zM134 70h2v14h-2zM134 102h2v13h-2zM138 155h2v7h-2zM138 232h2v8h-2zM138 0h2v4h-2zM138 55h2v8h-2zM138 94h2v14h-2zM140 53h2v12h-2zM140 81h2v17h-2zM142 198h2v7h-2zM142 205h2v18h-2zM142 223h2v15h-2zM142 238h2v2h-2zM142 0h2v17h-2zM142 52h2v17h-2zM142 69h2v11h-2zM142 97h2v15h-2zM142 140h2v8h-2zM144 21h2v18h-2zM144 39h2v15h-2zM144 83h2v7h-2zM144 98h2v19h-2zM144 160h2v19h-2zM144 208h2v17h-2zM144 15h2v6h-2zM146 127h2v18h-2zM146 194h2v19h-2zM146 228h2v12h-2zM146 14h2v6h-2zM146 20h2v5h-2zM146 106h2v16h-2zM148 233h2v7h-2zM148 0h2v7h-2zM148 52h2v18h-2zM148 70h2v19h-2zM148 98h2v10h-2zM148 131h2v16h-2zM148 157h2v14h-2zM148 171h2v8h-2zM148 179h2v9h-2zM150 236h2v4h-2zM150 0h2v15h-2zM150 15h2v8h-2zM150 33h2v7h-2zM150 68h2v7h-2zM150 75h2v14h-2zM150 89h2v19h-2zM150 223h2v2h-2zM152 234h2v4h-2zM152 89h2v5h-2zM152 111h2v17h-2zM152 197h2v8h-2zM154 183h2v18h-2zM154 218h2v5h-2zM154 223h2v11h-2zM154 37h2v5h-2zM154 56h2v6h-2zM154 62h2v18h-2zM154 125h2v6h-2zM154 165h2v5h-2zM156 83h2v7h-2zM156 101h2v13h-2zM156 144h2v17h-2zM156 168h2v11h-2zM158 171h2v13h-2zM158 194h2v17h-2zM158 211h2v8h-2zM160 157h2v9h-2zM160 35h2v13h-2zM162 29h2v7h-2zM162 63h2v13h-2zM162 161h2v17h-2zM162 212h2v15h-2zM162 233h2v7h-2zM162 0h2v6h-2zM164 97h2v15h-2zM164 131h2v7h-2zM164 175h2v19h-2zM164 194h2v15h-2zM164 4h2v11h-2zM164 15h2v4h-2zM166 3h2v17h-2zM166 52h2v13h-2zM166 77h2v7h-2zM166 99h2v18h-2zM166 125h2v19h-2zM166 154h2v16h-2zM166 170h2v13h-2zM166 183h2v4h-2zM166 206h2v11h-2zM166 217h2v1h-2zM168 83h2v6h-2zM168 96h2v17h-2zM168 163h2v10h-2zM168 173h2v13h-2zM168 186h2v16h-2zM168 235h2v5h-2zM168 0h2v4h-2zM168 12h2v18h-2zM168 80h2v3h-2zM170 64h2v12h-2zM170 106h2v19h-2zM170 163h2v15h-2zM170 178h2v4h-2zM170 202h2v4h-2zM170 206h2v5h-2zM170 14h2v5h-2zM172 7h2v14h-2zM172 53h2v5h-2zM172 114h2v4h-2zM172 125h2v16h-2zM172 173h2v5h-2zM174 119h2v5h-2zM174 171h2v7h-2zM174 234h2v6h-2zM174 0h2v2h-2zM174 10h2v9h-2zM174 19h2v5h-2zM174 38h2v14h-2zM174 52h2v17h-2zM174 69h2v2h-2zM176 91h2v6h-2zM176 97h2v16h-2zM176 113h2v14h-2zM176 134h2v12h-2zM176 159h2v17h-2zM176 176h2v13h-2zM176 5h2v19h-2zM176 24h2v17h-2zM176 62h2v12h-2zM178 4h2v14h-2zM178 18h2v14h-2zM178 52h2v10h-2zM178 97h2v7h-2zM178 104h2v6h-2zM178 151h2v7h-2zM178 170h2v16h-2zM178 195h2v6h-2zM178 201h2v13h-2zM178 214h2v8h-2zM180 178h2v15h-2zM180 22h2v5h-2zM180 72h2v9h-2zM182 112h2v17h-2zM182 147h2v6h-2zM182 182h2v11h-2zM182 209h2v6h-2zM182 215h2v17h-2zM182 239h2v1h-2zM182 0h2v10h-2zM184 77h2v10h-2zM184 87h2v16h-2zM184 154h2v18h-2zM184 9h2v8h-2zM186 26h2v4h-2zM186 51h2v4h-2zM186 70h2v7h-2zM188 77h2v6h-2zM190 1h2v16h-2zM190 238h2v2h-2zM190 0h2v1h-2zM192 38h2v15h-2zM192 53h2v16h-2zM192 93h2v8h-2zM192 150h2v12h-2zM194 201h2v6h-2zM194 81h2v14h-2zM194 183h2v8h-2zM194 191h2v10h-2zM196 131h2v15h-2zM196 146h2v9h-2zM196 169h2v9h-2zM196 193h2v4h-2zM196 215h2v17h-2zM196 88h2v6h-2zM198 235h2v5h-2zM198 0h2v1h-2zM198 32h2v19h-2zM198 68h2v5h-2zM198 73h2v5h-2zM198 227h2v4h-2zM200 203h2v5h-2zM200 222h2v14h-2zM200 44h2v13h-2zM200 101h2v16h-2zM200 168h2v6h-2zM202 100h2v13h-2zM202 113h2v12h-2zM202 72h2v13h-2zM204 17h2v9h-2zM204 26h2v4h-2zM204 49h2v5h-2zM204 61h2v8h-2zM204 92h2v18h-2zM204 130h2v14h-2zM204 200h2v19h-2zM206 195h2v7h-2zM206 213h2v15h-2zM208 217h2v9h-2zM208 233h2v7h-2zM208 14h2v19h-2zM208 154h2v12h-2zM208 166h2v14h-2zM210 230h2v10h-2zM210 0h2v3h-2zM210 168h2v19h-2zM210 187h2v8h-2zM212 0h2v8h-2zM212 94h2v16h-2zM212 150h2v5h-2zM212 155h2v16h-2zM214 181h2v18h-2zM214 26h2v7h-2zM214 144h2v17h-2zM216 4h2v7h-2zM216 22h2v16h-2zM216 97h2v7h-2zM216 130h2v19h-2zM218 16h2v9h-2zM218 25h2v14h-2zM218 106h2v5h-2zM218 111h2v16h-2zM218 183h2v14h-2zM218 197h2v11h-2zM218 208h2v6h-2zM218 11h2v5h-2zM220 224h2v16h-2zM220 6h2v9h-2zM220 20h2v13h-2zM220 79h2v6h-2zM220 89h2v4h-2zM220 115h2v17h-2zM222 205h2v15h-2zM222 238h2v2h-2zM222 0h2v7h-2zM222 72h2v5h-2zM222 77h2v6h-2zM222 88h2v19h-2zM222 107h2v15h-2zM224 2h2v12h-2zM224 33h2v11h-2zM224 44h2v6h-2zM224 65h2v19h-2zM224 131h2v13h-2zM224 144h2v6h-2zM224 150h2v5h-2zM224 167h2v16h-2zM224 183h2v9h-2zM224 192h2v17h-2zM224 209h2v16h-2zM226 36h2v12h-2zM226 48h2v8h-2zM226 109h2v5h-2zM226 128h2v19h-2zM226 219h2v8h-2zM226 239h2v1h-2zM226 0h2v14h-2zM226 14h2v18h-2zM228 36h2v9h-2zM228 45h2v16h-2zM228 78h2v6h-2zM228 184h2v9h-2zM230 78h2v6h-2zM230 99h2v17h-2zM230 116h2v18h-2zM232 237h2v3h-2zM232 0h2v1h-2zM232 20h2v11h-2zM232 49h2v4h-2zM232 85h2v14h-2zM232 185h2v11h-2zM232 207h2v15h-2zM232 222h2v14h-2zM234 2h2v6h-2zM234 48h2v12h-2zM234 86h2v9h-2zM234 134h2v7h-2zM234 141h2v16h-2zM234 173h2v8h-2zM236 23h2v6h-2zM236 36h2v8h-2zM236 44h2v6h-2zM236 112h2v15h-2zM236 127h2v16h-2zM238 200h2v16h-2zM238 19h2v12h-2zM238 101h2v12h-2zM238 155h2v14h-2z"/>
<path fill="rgb(179,179,179)" d="M4 28h2v16h-2zM4 166h2v19h-2zM4 185h2v9h-2zM4 194h2v7h-2zM4 20h2v8h-2zM6 172h2v18h-2zM6 229h2v10h-2zM6 20h2v5h-2zM6 25h2v13h-2zM6 60h2v13h-2zM6 73h2v11h-2zM8 102h2v17h-2zM8 194h2v10h-2zM8 218h2v4h-2zM8 38h2v19h-2zM10 85h2v4h-2zM12 41h2v18h-2zM12 178h2v10h-2zM16 191h2v7h-2zM16 224h2v8h-2zM16 33h2v4h-2zM18 146h2v11h-2zM20 76h2v15h-2zM20 112h2v6h-2zM20 192h2v10h-2zM22 50h2v17h-2zM22 108h2v15h-2zM22 160h2v14h-2zM22 229h2v11h-2zM22 0h2v7h-2zM24 58h2v13h-2zM24 2h2v19h-2zM26 112h2v12h-2zM26 142h2v14h-2zM26 166h2v11h-2zM26 215h2v12h-2zM26 69h2v9h-2zM26 95h2v9h-2zM28 186h2v18h-2zM34 158h2v13h-2zM34 224h2v16h-2zM34 0h2v1h-2zM36 117h2v13h-2zM38 171h2v17h-2zM38 233h2v5h-2zM38 23h2v9h-2zM38 32h2v10h-2zM38 81h2v14h-2zM40 131h2v14h-2zM40 145h2v4h-2zM42 237h2v3h-2zM42 0h2v1h-2zM42 89h2v8h-2zM48 134h2v9h-2zM48 184h2v9h-2zM48 200h2v7h-2zM48 207h2v17h-2zM50 140h2v6h-2zM52 162h2v5h-2zM52 22h2v17h-2zM52 82h2v11h-2zM56 236h2v4h-2zM56 0h2v12h-2zM56 62h2v14h-2zM56 136h2v18h-2zM56 170h2v16h-2zM56 227h2v9h-2zM60 186h2v4h-2zM60 13h2v11h-2zM60 24h2v18h-2zM60 109h2v17h-2zM60 175h2v11h-2zM64 200h2v6h-2zM72 100h2v11h-2zM74 217h2v9h-2zM74 95h2v13h-2zM74 128h2v17h-2zM76 197h2v12h-2zM76 209h2v10h-2zM78 202h2v9h-2zM78 211h2v14h-2zM78 9h2v13h-2zM80 75h2v8h-2zM80 134h2v11h-2zM82 20h2v19h-2zM82 46h2v9h-2zM82 92h2v10h-2zM82 132h2v4h-2zM86 126h2v17h-2zM88 81h2v8h-2zM90 216h2v15h-2zM90 17h2v16h-2zM90 93h2v16h-2zM92 160h2v17h-2zM94 103h2v13h-2zM94 133h2v12h-2zM94 224h2v9h-2zM100 216h2v13h-2zM100 23h2v7h-2zM100 50h2v5h-2zM100 67h2v12h-2zM100 179h2v4h-2zM100 183h2v13h-2zM104 124h2v11h-2zM104 168h2v13h-2zM104 216h2v16h-2zM104 11h2v5h-2zM104 67h2v4h-2zM104 71h2v6h-2zM108 132h2v7h-2zM108 42h2v4h-2zM110 164h2v12h-2zM110 190h2v13h-2zM110 214h2v18h-2zM110 232h2v8h-2zM110 0h2v4h-2zM110 23h2v9h-2zM110 44h2v11h-2zM110 59h2v4h-2zM110 63h2v17h-2zM110 101h2v6h-2zM112 229h2v11h-2zM112 0h2v7h-2zM116 29h2v4h-2zM116 65h2v13h-2zM116 185h2v4h-2zM118 142h2v6h-2zM120 107h2v10h-2zM120 154h2v18h-2zM126 38h2v11h-2zM130 228h2v12h-2zM132 14h2v7h-2zM132 21h2v5h-2zM132 66h2v12h-2zM132 157h2v5h-2zM132 212h2v9h-2zM134 238h2v2h-2zM134 0h2v15h-2zM134 115h2v12h-2zM134 153h2v5h-2zM138 162h2v15h-2zM138 215h2v17h-2zM138 63h2v12h-2zM140 226h2v14h-2zM140 98h2v17h-2zM140 121h2v4h-2zM142 17h2v10h-2zM142 165h2v8h-2zM144 77h2v6h-2zM144 149h2v11h-2zM144 184h2v15h-2zM144 225h2v14h-2zM146 175h2v4h-2zM146 184h2v10h-2zM150 124h2v10h-2zM152 9h2v5h-2zM152 37h2v12h-2zM154 148h2v11h-2zM160 64h2v18h-2zM162 11h2v18h-2zM162 193h2v8h-2zM166 20h2v10h-2zM166 30h2v10h-2zM166 40h2v12h-2zM166 144h2v10h-2zM168 218h2v17h-2zM170 19h2v5h-2zM170 98h2v8h-2zM170 195h2v7h-2zM172 190h2v16h-2zM172 44h2v9h-2zM172 100h2v7h-2zM174 88h2v4h-2zM174 156h2v15h-2zM174 211h2v12h-2zM176 237h2v3h-2zM176 0h2v5h-2zM176 41h2v9h-2zM178 37h2v15h-2zM178 62h2v8h-2zM178 229h2v11h-2zM178 0h2v3h-2zM180 235h2v5h-2zM180 0h2v12h-2zM180 56h2v16h-2zM182 103h2v9h-2zM182 172h2v10h-2zM182 55h2v13h-2zM184 121h2v14h-2zM190 155h2v13h-2zM196 53h2v18h-2zM202 93h2v7h-2zM202 169h2v15h-2zM206 46h2v6h-2zM208 77h2v6h-2zM214 219h2v14h-2zM220 175h2v11h-2zM220 213h2v11h-2zM220 0h2v6h-2zM220 15h2v5h-2zM220 85h2v4h-2zM220 142h2v7h-2zM220 167h2v8h-2zM222 200h2v5h-2zM226 189h2v14h-2zM228 204h2v8h-2zM228 61h2v17h-2zM230 151h2v17h-2zM232 31h2v11h-2zM232 53h2v10h-2zM234 123h2v11h-2zM236 224h2v16h-2zM236 175h2v11h-2z"/>
<path fill="rgb(204,204,204)" d="M6 161h2v11h-2zM10 72h2v13h-2zM22 193h2v12h-2zM24 71h2v10h-2zM26 12h2v16h-2zM38 160h2v11h-2zM42 170h2v5h-2zM48 96h2v14h-2zM52 7h2v15h-2zM56 46h2v5h-2zM64 222h2v6h-2zM78 22h2v12h-2zM80 210h2v16h-2zM80 145h2v2h-2zM94 239h2v1h-2zM94 0h2v7h-2zM96 23h2v16h-2zM100 234h2v6h-2zM100 0h2v6h-2zM100 55h2v12h-2zM102 124h2v8h-2zM110 137h2v6h-2zM110 155h2v9h-2zM110 176h2v14h-2zM110 55h2v4h-2zM118 168h2v16h-2zM132 202h2v10h-2zM144 141h2v8h-2zM152 72h2v17h-2zM152 148h2v16h-2zM154 234h2v6h-2zM154 0h2v2h-2zM156 8h2v18h-2zM162 144h2v17h-2zM172 228h2v12h-2zM172 0h2v7h-2zM174 136h2v12h-2zM178 3h2v1h-2zM186 47h2v4h-2zM208 0h2v14h-2zM220 111h2v4h-2zM224 100h2v14h-2zM228 193h2v11h-2z"/>
<path fill="rgb(230,230,230)" d="M50 197h2v17h-2zM74 203h2v14h-2zM104 108h2v16h-2z"/>
</pattern>
<rect id="rS" x="80" y="77" width="1234" height="1234" fill="url(#pS)"/>
<rect id="rT" x="80" y="77" width="1234" height="1234" fill="url(#pT)"/>
<filter id="fS" filterUnits="userSpaceOnUse" x="80" y="77" width="1234" height="1234" color-interpolation-filters="sRGB">
 <feGaussianBlur in="SourceGraphic" stdDeviation="5" result="L"/>
 <feFlood flood-color="rgb(128,128,128)" flood-opacity="1" result="G"/>
 <feImage href="#rS" x="80" y="77" width="1234" height="1234" result="N0"/>
 <feMerge result="N"><feMergeNode in="G"/><feMergeNode in="N0"/></feMerge>
 <feComposite in="L" in2="N" operator="arithmetic" k1="-1.3330" k2="1.6665" k3="1.6000" k4="-0.8000" result="F"/>
 <feComponentTransfer in="F">
  <feFuncR type="table" tableValues="0.000 0.000 0.008 0.020 0.039 0.086 0.149 0.243 0.431 0.725 0.961"/>
  <feFuncG type="table" tableValues="0.000 0.000 0.024 0.059 0.176 0.345 0.502 0.627 0.769 0.882 0.980"/>
  <feFuncB type="table" tableValues="0.000 0.098 0.255 0.431 0.667 0.843 0.922 0.965 0.992 1.000 1.000"/>
  <feFuncA type="table" tableValues="1 1"/>
 </feComponentTransfer>
</filter>
<filter id="fT" filterUnits="userSpaceOnUse" x="80" y="77" width="1234" height="1234" color-interpolation-filters="sRGB">
 <feGaussianBlur in="SourceGraphic" stdDeviation="5" result="L"/>
 <feFlood flood-color="rgb(128,128,128)" flood-opacity="1" result="G"/>
 <feImage href="#rT" x="80" y="77" width="1234" height="1234" result="N0"/>
 <feMerge result="N"><feMergeNode in="G"/><feMergeNode in="N0"/></feMerge>
 <feComposite in="L" in2="N" operator="arithmetic" k1="-1.3330" k2="1.6665" k3="1.6000" k4="-0.8000" result="F"/>
 <feComponentTransfer in="F">
  <feFuncR type="table" tableValues="0.000 0.000 0.008 0.020 0.039 0.086 0.149 0.243 0.431 0.725 0.961"/>
  <feFuncG type="table" tableValues="0.000 0.000 0.024 0.059 0.176 0.345 0.502 0.627 0.769 0.882 0.980"/>
  <feFuncB type="table" tableValues="0.000 0.098 0.255 0.431 0.667 0.843 0.922 0.965 0.992 1.000 1.000"/>
  <feFuncA type="table" tableValues="1 1"/>
 </feComponentTransfer>
</filter>
<g id="lum">
<rect x="-300" y="-300" width="2100" height="2100" fill="rgb(71,71,71)"/>
<ellipse cx="330" cy="930" rx="120" ry="100" fill="rgb(69,69,69)"/>
<path d="M990,660 L1160,600 L1200,1000 L1010,985 Q1030,800 990,660 Z" fill="rgb(76,76,76)"/>
<path d="M860,705 L985,670 Q1010,820 985,960 L930,1000 L900,900 Z" fill="rgb(120,120,120)"/>
<path d="M200,1085 Q697,1125 1250,1000 L1300,1400 L100,1400 Z" fill="rgb(97,97,97)"/>
<path d="M200,1000 L480,1050 L520,1400 L100,1400 Z" fill="rgb(71,71,71)"/>
<path d="M1000,1060 L1250,1000 L1300,1400 L1000,1400 Z" fill="rgb(82,82,82)"/>
<ellipse cx="650" cy="1150" rx="110" ry="55" fill="rgb(102,102,102)"/>
<path d="M440,820 L690,735 L880,690 Q960,900 935,1060 Q880,1105 720,1095 Q560,1085 520,1010 Z" fill="rgb(145,145,145)"/>
<path d="M700,800 L860,760 Q905,900 900,1040 Q860,1080 760,1070 L700,1000 Z" fill="rgb(156,156,156)"/>
<path d="M850,880 L955,930 Q985,1010 970,1080 Q930,1150 870,1165 L770,1160 L750,1095 Z" fill="rgb(153,153,153)"/>
<ellipse cx="800" cy="1135" rx="120" ry="40" fill="rgb(112,112,112)"/>
<ellipse cx="690" cy="870" rx="55" ry="110" fill="rgb(153,153,153)"/>
<path d="M540,770 L692,735 L700,820 L560,850 Z" fill="rgb(168,168,168)"/>
<path d="M700,752 L790,722 L825,712 L855,800 L830,880 L760,880 L720,830 Z" fill="rgb(204,204,204)"/>
<path d="M795,716 L850,704 L878,800 L882,870 L855,880 L820,800 Z" fill="rgb(219,219,219)"/>
<path d="M810,725 L842,712 L870,855 L850,865 Z" fill="rgb(255,255,255)"/>
<path d="M850,840 Q898,925 902,990 Q905,1048 885,1082 Q862,1105 826,1115" fill="none" stroke="rgb(184,184,184)" stroke-width="40"/>
<path d="M868,872 Q903,930 907,990 Q909,1045 893,1080 Q870,1104 840,1112" fill="none" stroke="rgb(255,255,255)" stroke-width="13"/>
<path d="M438,832 L550,795 Q578,880 580,960 L580,1050 L548,1058 Q505,990 478,920 Q455,870 438,832 Z" fill="rgb(196,196,196)"/>
<path d="M446,836 L520,813 Q540,880 548,960 L520,975 Q475,890 446,836 Z" fill="rgb(230,230,230)"/>
<path d="M560,1045 Q640,1075 720,1062 Q800,1050 850,1060" fill="none" stroke="rgb(184,184,184)" stroke-width="22"/>
<circle cx="647" cy="980" r="14" fill="rgb(214,214,214)"/>
<circle cx="723" cy="1053" r="15" fill="rgb(219,219,219)"/>
<circle cx="812" cy="987" r="13" fill="rgb(214,214,214)"/>
<circle cx="773" cy="868" r="20" fill="rgb(204,204,204)"/>
<circle cx="554" cy="1033" r="11" fill="rgb(230,230,230)"/>
<circle cx="779" cy="1190" r="6" fill="rgb(204,204,204)"/>
<path d="M940,670 L1007,657 L1097,626 L1156,609" fill="none" stroke="rgb(36,36,36)" stroke-width="50"/>
<path d="M870,700 L917,677 L960,668" fill="none" stroke="rgb(76,76,76)" stroke-width="24"/>
<path d="M240,866 L300,851 L360,836 L415,821" fill="none" stroke="rgb(38,38,38)" stroke-width="36"/>
<path d="M250,900 L270,940 L296,1016 L310,1040 L331,1092 L371,1167 L407,1205 L457,1243 L495,1278 L540,1300" fill="none" stroke="rgb(26,26,26)" stroke-width="40"/>
<path d="M1163,609 L1184,744 L1200,941 L1192,1050" fill="none" stroke="rgb(51,51,51)" stroke-width="24"/>
</g></defs>
<g clip-path="url(#cclip)"><g clip-path="url(#dclip)">
<g filter="url(#fS)"><use href="#lum"/></g>
<g mask="url(#mS)"><g filter="url(#fT)"><use href="#lum"/></g></g>
</g></g>
<g fill="none" stroke="#fff" stroke-width="3.3">
<circle cx="697.0" cy="693.8" r="615" stroke-dasharray="3.30 7.740" stroke-dashoffset="10.670"/>
<circle cx="697.0" cy="693.8" r="510.7" stroke-dasharray="3.30 7.727" stroke-dashoffset="1.893"/>
<circle cx="697.0" cy="693.8" r="392.5" stroke-dasharray="3.30 7.759" stroke-dashoffset="10.844"/>
<circle cx="697.0" cy="693.8" r="266" stroke-dasharray="3.30 7.768" stroke-dashoffset="0.083"/>
<circle cx="697.0" cy="693.8" r="133.7" stroke-dasharray="3.30 7.753" stroke-dashoffset="1.650"/>
<circle cx="697.0" cy="693.8" r="23.2" stroke-dasharray="3.28 4.009" stroke-dashoffset="1.640"/>
<line x1="697.00" y1="661.95" x2="697.00" y2="77.80" stroke-dasharray="3.3 7.74"/>
<line x1="705.24" y1="663.04" x2="856.43" y2="98.79" stroke-dasharray="3.3 7.74"/>
<line x1="712.92" y1="666.22" x2="1005.00" y2="160.33" stroke-dasharray="3.3 7.74"/>
<line x1="719.52" y1="671.28" x2="1132.58" y2="258.22" stroke-dasharray="3.3 7.74"/>
<line x1="724.58" y1="677.88" x2="1230.47" y2="385.80" stroke-dasharray="3.3 7.74"/>
<line x1="727.76" y1="685.56" x2="1292.01" y2="534.37" stroke-dasharray="3.3 7.74"/>
<line x1="728.85" y1="693.80" x2="1313.00" y2="693.80" stroke-dasharray="3.3 7.74"/>
<line x1="727.76" y1="702.04" x2="1292.01" y2="853.23" stroke-dasharray="3.3 7.74"/>
<line x1="724.58" y1="709.72" x2="1230.47" y2="1001.80" stroke-dasharray="3.3 7.74"/>
<line x1="719.52" y1="716.32" x2="1132.58" y2="1129.38" stroke-dasharray="3.3 7.74"/>
<line x1="712.92" y1="721.38" x2="1005.00" y2="1227.27" stroke-dasharray="3.3 7.74"/>
<line x1="705.24" y1="724.56" x2="856.43" y2="1288.81" stroke-dasharray="3.3 7.74"/>
<line x1="697.00" y1="725.65" x2="697.00" y2="1309.80" stroke-dasharray="3.3 7.74"/>
<line x1="688.76" y1="724.56" x2="537.57" y2="1288.81" stroke-dasharray="3.3 7.74"/>
<line x1="681.08" y1="721.38" x2="389.00" y2="1227.27" stroke-dasharray="3.3 7.74"/>
<line x1="674.48" y1="716.32" x2="261.42" y2="1129.38" stroke-dasharray="3.3 7.74"/>
<line x1="669.42" y1="709.73" x2="163.53" y2="1001.80" stroke-dasharray="3.3 7.74"/>
<line x1="666.24" y1="702.04" x2="101.99" y2="853.23" stroke-dasharray="3.3 7.74"/>
<line x1="665.15" y1="693.80" x2="81.00" y2="693.80" stroke-dasharray="3.3 7.74"/>
<line x1="666.24" y1="685.56" x2="101.99" y2="534.37" stroke-dasharray="3.3 7.74"/>
<line x1="669.42" y1="677.88" x2="163.53" y2="385.80" stroke-dasharray="3.3 7.74"/>
<line x1="674.48" y1="671.28" x2="261.42" y2="258.22" stroke-dasharray="3.3 7.74"/>
<line x1="681.07" y1="666.22" x2="389.00" y2="160.33" stroke-dasharray="3.3 7.74"/>
<line x1="688.76" y1="663.04" x2="537.57" y2="98.79" stroke-dasharray="3.3 7.74"/>
</g>
<circle cx="697.0" cy="693.8" r="13.3" fill="none" stroke="#fff" stroke-width="2.4"/>
<circle cx="697.0" cy="694.3" r="3" fill="#fff"/>
<rect x="694.4" y="694.8" width="4.4" height="640" fill="#dd3d0a"/>
</g>
<!-- labels -->
<text transform="translate(675.1,57.9) scale(0.96,1.06)" font-size="50">0</text>
<ellipse cx="709" cy="29.4" rx="4.3" ry="5" fill="none" stroke="#000" stroke-width="1.9"/>
<text transform="translate(649.2,1364.6) scale(0.985,1.065)" font-size="50">180</text>
<ellipse cx="737.1" cy="1335.5" rx="4.3" ry="5" fill="none" stroke="#000" stroke-width="1.9"/>
<text transform="translate(57.7,739.6) rotate(-90) scale(1.0,1.055)" font-size="50">270</text>
<ellipse cx="29.3" cy="649.8" rx="5" ry="4.3" fill="none" stroke="#000" stroke-width="1.9"/>
<text transform="translate(1330.6,656.3) rotate(90) scale(1.0,1.06)" font-size="50">90</text>
<ellipse cx="1359.8" cy="719.2" rx="5" ry="4.3" fill="none" stroke="#000" stroke-width="1.9"/>
<text x="1316" y="986.7" font-size="36.5">kR H</text>
<text x="1399" y="991.5" font-size="16">2</text>
<rect x="1339.7" y="1002.3" width="47" height="307.3" fill="url(#cb)" stroke="#000" stroke-width="2"/>
<g stroke="#000" stroke-width="1.6">
<line x1="1340.7" y1="1310" x2="1345.7" y2="1310"/><line x1="1385.7" y1="1310" x2="1380.7" y2="1310"/>
<line x1="1340.7" y1="1280.7" x2="1343.7" y2="1280.7"/><line x1="1385.7" y1="1280.7" x2="1382.7" y2="1280.7"/>
<line x1="1340.7" y1="1263.6" x2="1343.7" y2="1263.6"/><line x1="1385.7" y1="1263.6" x2="1382.7" y2="1263.6"/>
<line x1="1340.7" y1="1251.5" x2="1343.7" y2="1251.5"/><line x1="1385.7" y1="1251.5" x2="1382.7" y2="1251.5"/>
<line x1="1340.7" y1="1242.1" x2="1343.7" y2="1242.1"/><line x1="1385.7" y1="1242.1" x2="1382.7" y2="1242.1"/>
<line x1="1340.7" y1="1234.4" x2="1343.7" y2="1234.4"/><line x1="1385.7" y1="1234.4" x2="1382.7" y2="1234.4"/>
<line x1="1340.7" y1="1227.9" x2="1343.7" y2="1227.9"/><line x1="1385.7" y1="1227.9" x2="1382.7" y2="1227.9"/>
<line x1="1340.7" y1="1222.2" x2="1343.7" y2="1222.2"/><line x1="1385.7" y1="1222.2" x2="1382.7" y2="1222.2"/>
<line x1="1340.7" y1="1217.3" x2="1343.7" y2="1217.3"/><line x1="1385.7" y1="1217.3" x2="1382.7" y2="1217.3"/>
<line x1="1340.7" y1="1212.8" x2="1345.7" y2="1212.8"/><line x1="1385.7" y1="1212.8" x2="1380.7" y2="1212.8"/>
<line x1="1340.7" y1="1183.6" x2="1343.7" y2="1183.6"/><line x1="1385.7" y1="1183.6" x2="1382.7" y2="1183.6"/>
<line x1="1340.7" y1="1166.5" x2="1343.7" y2="1166.5"/><line x1="1385.7" y1="1166.5" x2="1382.7" y2="1166.5"/>
<line x1="1340.7" y1="1154.3" x2="1343.7" y2="1154.3"/><line x1="1385.7" y1="1154.3" x2="1382.7" y2="1154.3"/>
<line x1="1340.7" y1="1144.9" x2="1343.7" y2="1144.9"/><line x1="1385.7" y1="1144.9" x2="1382.7" y2="1144.9"/>
<line x1="1340.7" y1="1137.2" x2="1343.7" y2="1137.2"/><line x1="1385.7" y1="1137.2" x2="1382.7" y2="1137.2"/>
<line x1="1340.7" y1="1130.7" x2="1343.7" y2="1130.7"/><line x1="1385.7" y1="1130.7" x2="1382.7" y2="1130.7"/>
<line x1="1340.7" y1="1125.1" x2="1343.7" y2="1125.1"/><line x1="1385.7" y1="1125.1" x2="1382.7" y2="1125.1"/>
<line x1="1340.7" y1="1120.1" x2="1343.7" y2="1120.1"/><line x1="1385.7" y1="1120.1" x2="1382.7" y2="1120.1"/>
<line x1="1340.7" y1="1115.7" x2="1345.7" y2="1115.7"/><line x1="1385.7" y1="1115.7" x2="1380.7" y2="1115.7"/>
<line x1="1340.7" y1="1086.4" x2="1343.7" y2="1086.4"/><line x1="1385.7" y1="1086.4" x2="1382.7" y2="1086.4"/>
<line x1="1340.7" y1="1069.3" x2="1343.7" y2="1069.3"/><line x1="1385.7" y1="1069.3" x2="1382.7" y2="1069.3"/>
<line x1="1340.7" y1="1057.2" x2="1343.7" y2="1057.2"/><line x1="1385.7" y1="1057.2" x2="1382.7" y2="1057.2"/>
<line x1="1340.7" y1="1047.8" x2="1343.7" y2="1047.8"/><line x1="1385.7" y1="1047.8" x2="1382.7" y2="1047.8"/>
<line x1="1340.7" y1="1040.1" x2="1343.7" y2="1040.1"/><line x1="1385.7" y1="1040.1" x2="1382.7" y2="1040.1"/>
<line x1="1340.7" y1="1033.6" x2="1343.7" y2="1033.6"/><line x1="1385.7" y1="1033.6" x2="1382.7" y2="1033.6"/>
<line x1="1340.7" y1="1027.9" x2="1343.7" y2="1027.9"/><line x1="1385.7" y1="1027.9" x2="1382.7" y2="1027.9"/>
<line x1="1340.7" y1="1022.9" x2="1343.7" y2="1022.9"/><line x1="1385.7" y1="1022.9" x2="1382.7" y2="1022.9"/>
<line x1="1340.7" y1="1018.5" x2="1345.7" y2="1018.5"/><line x1="1385.7" y1="1018.5" x2="1380.7" y2="1018.5"/>
<line x1="1348" y1="1003" x2="1348" y2="1007"/>
<line x1="1357" y1="1003" x2="1357" y2="1007"/>
<line x1="1366" y1="1003" x2="1366" y2="1007"/>
<line x1="1375" y1="1003" x2="1375" y2="1007"/>
</g>
<text transform="translate(1396.2,1029.2) scale(0.97,1.085)" font-size="30">1000</text>
<text transform="translate(1396,1126.8) scale(0.97,1.085)" font-size="30">100</text>
<text transform="translate(1396,1223.7) scale(0.97,1.085)" font-size="30">10</text>
<text transform="translate(1396,1310.3) scale(0.97,1.085)" font-size="30">1</text>
<g>
<line x1="388.1" y1="873.6" x2="422" y2="855" stroke="#d4d4d4" stroke-width="3.8"/>
<polygon points="442.9,842.3 413.8,842.6 428.4,867.7" fill="#d4d4d4"/>
<line x1="491" y1="1077.4" x2="502" y2="1057" stroke="#c4c4c4" stroke-width="3.2"/>
<polygon points="513.5,1035.6 489.3,1050.5 514.6,1064.4" fill="#c4c4c4"/>
<line x1="878.8" y1="1173.5" x2="876" y2="1165" stroke="#a0a0a0" stroke-width="2.5"/>
<polygon points="866.9,1142.5 889.9,1160.5 862.2,1170.9" fill="#a0a0a0"/>
<line x1="767.3" y1="1294.7" x2="763.6" y2="1257" stroke="#ffffff" stroke-width="4"/>
<polygon points="760.2,1233 748.8,1259.3 778,1256.4" fill="#ffffff"/>
</g>

</svg>
</body></html>
